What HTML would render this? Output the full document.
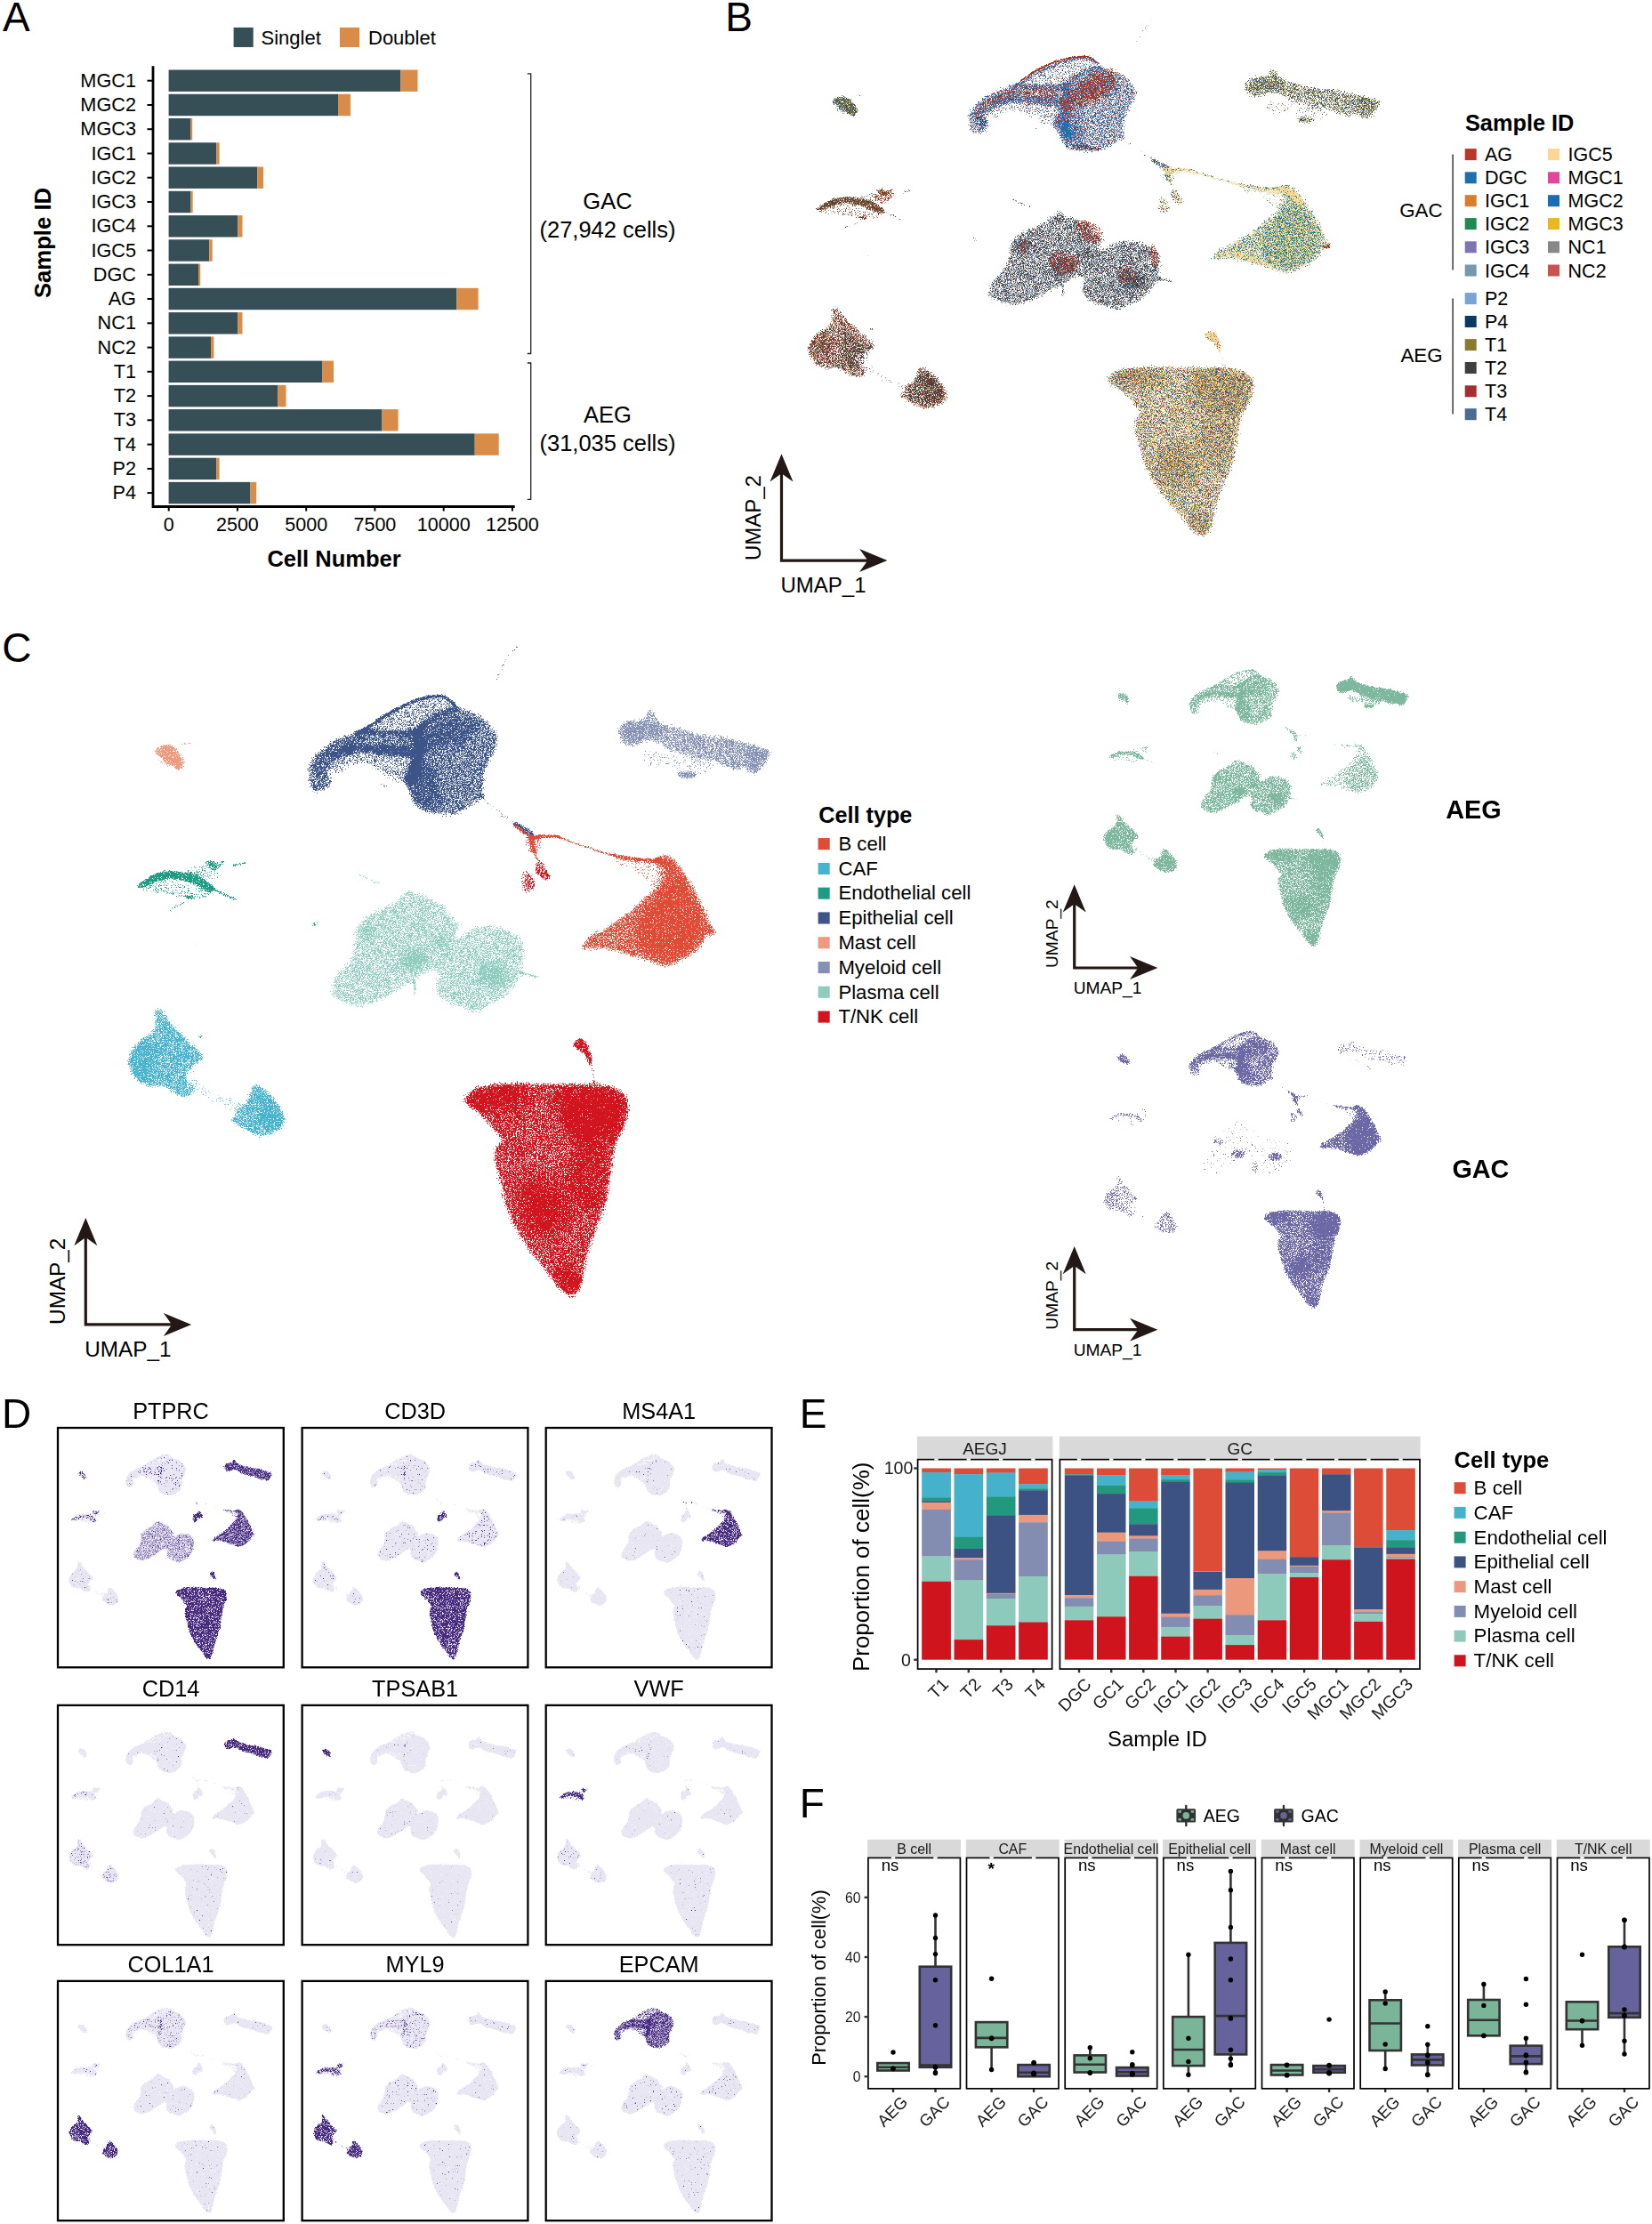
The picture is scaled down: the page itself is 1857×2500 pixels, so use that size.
<!DOCTYPE html>
<html lang="en"><head><meta charset="utf-8"><title>Figure</title><style>html,body{margin:0;padding:0;background:#fff}svg{display:block}</style></head><body>
<svg width="1857" height="2500" viewBox="0 0 1857 2500" font-family="'Liberation Sans', Arial, sans-serif" fill="#000">
<defs>
<path id="ah" d="M0 0L13 31.3L0 22L-13 31.3Z" fill="#231815"/>
<filter id="sb3" x="-30%" y="-30%" width="160%" height="160%"><feGaussianBlur stdDeviation="3.5"/></filter>
<filter id="sb7" x="-40%" y="-40%" width="180%" height="180%"><feGaussianBlur stdDeviation="7"/></filter>
<g id="c_pla">
<path d="M370.6 1119.7C368.4 1115.2 370.3 1107.6 372.0 1102.4C373.6 1097.3 377.2 1093.1 380.4 1088.8C383.6 1084.5 388.7 1080.8 391.2 1076.6C393.7 1072.4 394.4 1069.1 395.4 1063.7C396.4 1058.3 395.1 1049.8 397.1 1044.2C399.2 1038.6 403.2 1034.0 407.7 1029.9C412.2 1025.9 418.7 1022.9 424.2 1020.0C429.8 1017.0 437.2 1014.8 441.3 1012.2C445.4 1009.7 445.5 1007.3 448.7 1004.7C451.9 1002.2 456.5 997.1 460.4 996.7C464.3 996.3 468.3 1001.1 471.8 1002.6C475.3 1004.1 478.3 1004.2 481.4 1005.8C484.5 1007.3 487.0 1010.5 490.5 1011.9C494.0 1013.3 500.0 1012.2 502.5 1014.0C504.9 1015.9 503.2 1019.9 505.1 1023.1C507.0 1026.3 511.1 1030.4 513.8 1033.1C516.5 1035.8 521.2 1036.6 521.4 1039.2C521.6 1041.9 516.1 1047.3 515.1 1049.1C514.0 1051.0 512.2 1051.8 515.0 1050.3C517.8 1048.8 525.4 1042.3 531.9 1040.2C538.4 1038.1 547.1 1037.1 553.9 1037.6C560.7 1038.2 567.1 1041.0 572.5 1043.5C578.0 1045.9 583.3 1048.5 586.5 1052.4C589.8 1056.3 591.5 1062.4 592.2 1067.1C592.9 1071.8 591.1 1076.2 590.6 1080.7C590.1 1085.1 590.1 1089.6 588.9 1093.8C587.8 1098.0 586.1 1101.8 583.8 1105.8C581.6 1109.7 578.8 1113.9 575.4 1117.5C572.1 1121.1 567.8 1124.8 563.7 1127.6C559.5 1130.3 555.6 1132.0 550.5 1134.2C545.4 1136.4 538.9 1140.8 533.1 1140.8C527.4 1140.9 521.1 1136.0 516.1 1134.3C511.1 1132.7 507.0 1133.0 503.0 1131.0C499.0 1128.9 494.9 1125.6 492.2 1121.9C489.4 1118.2 487.0 1112.9 486.6 1108.8C486.3 1104.6 490.0 1099.4 489.9 1096.9C489.8 1094.4 488.3 1093.2 485.9 1093.6C483.5 1094.0 479.1 1097.1 475.3 1099.4C471.4 1101.7 467.0 1104.6 462.8 1107.2C458.7 1109.8 455.0 1112.1 450.2 1115.1C445.4 1118.0 439.6 1122.0 434.2 1124.7C428.8 1127.4 423.4 1129.6 417.8 1131.2C412.2 1132.9 406.2 1134.8 400.7 1134.5C395.3 1134.2 390.1 1131.9 385.1 1129.4C380.0 1127.0 372.8 1124.2 370.6 1119.7Z" fill-opacity="0.395"/>
<path d="M374.2 1117.9C372.3 1114.3 374.2 1108.2 375.7 1103.8C377.3 1099.3 380.5 1095.4 383.6 1091.2C386.8 1087.0 392.0 1083.1 394.6 1078.6C397.2 1074.1 398.3 1069.9 399.3 1064.4C400.4 1058.9 399.1 1050.8 400.9 1045.5C402.8 1040.3 406.2 1036.6 410.4 1033.0C414.6 1029.3 420.6 1026.4 426.1 1023.5C431.6 1020.6 439.2 1018.3 443.4 1015.6C447.6 1013.0 448.4 1010.3 451.3 1007.8C454.2 1005.3 457.6 1001.0 460.7 1000.7C463.9 1000.4 467.0 1004.8 470.2 1006.2C473.3 1007.6 476.5 1007.8 479.6 1009.3C482.8 1010.9 485.6 1014.3 489.1 1015.6C492.5 1017.0 498.0 1015.6 500.1 1017.2C502.2 1018.8 499.8 1021.9 501.6 1025.1C503.5 1028.2 508.5 1033.7 511.1 1036.1C513.7 1038.5 517.4 1037.2 517.4 1039.2C517.4 1041.3 511.4 1046.2 511.1 1048.7C510.8 1051.2 512.1 1055.0 515.8 1054.2C519.5 1053.4 526.8 1046.1 533.1 1044.0C539.4 1041.9 547.3 1041.1 553.6 1041.6C559.9 1042.1 565.9 1044.9 570.9 1047.1C575.9 1049.3 580.6 1051.6 583.5 1055.0C586.4 1058.4 587.7 1063.4 588.2 1067.6C588.7 1071.8 587.2 1076.0 586.6 1080.2C586.1 1084.4 586.1 1088.8 585.1 1092.8C584.0 1096.7 582.4 1100.1 580.3 1103.8C578.2 1107.5 575.6 1111.4 572.5 1114.8C569.3 1118.2 565.4 1121.6 561.5 1124.2C557.5 1126.9 553.6 1128.4 548.9 1130.5C544.1 1132.6 538.4 1136.8 533.1 1136.8C527.9 1136.8 522.1 1132.1 517.4 1130.5C512.7 1129.0 508.5 1129.2 504.8 1127.4C501.1 1125.5 497.7 1122.7 495.4 1119.5C493.0 1116.4 490.9 1112.4 490.6 1108.5C490.4 1104.6 494.6 1099.1 493.8 1095.9C493.0 1092.8 489.3 1089.6 485.9 1089.6C482.5 1089.6 477.5 1093.5 473.3 1095.9C469.1 1098.3 464.9 1101.2 460.7 1103.8C456.5 1106.4 452.9 1108.8 448.1 1111.6C443.4 1114.5 437.6 1118.5 432.4 1121.1C427.2 1123.7 421.9 1125.8 416.7 1127.4C411.4 1129.0 405.9 1130.8 400.9 1130.5C395.9 1130.3 391.2 1127.9 386.8 1125.8C382.3 1123.7 376.0 1121.6 374.2 1117.9Z" fill-opacity="0.252"/>
<path d="M422.3 1047.1C422.3 1048.7 421.7 1050.6 420.8 1051.8C419.8 1053.1 418.3 1054.2 416.8 1054.7C415.3 1055.2 413.3 1055.2 411.8 1054.7C410.3 1054.2 408.7 1053.1 407.8 1051.8C406.9 1050.6 406.3 1048.7 406.3 1047.1C406.3 1045.6 406.9 1043.7 407.8 1042.4C408.7 1041.1 410.3 1040.0 411.8 1039.5C413.3 1039.0 415.3 1039.0 416.8 1039.5C418.3 1040.0 419.8 1041.1 420.8 1042.4C421.7 1043.7 422.3 1045.6 422.3 1047.1Z" fill-opacity="0.246" filter="url(#sb3)"/>
<path d="M479.0 1072.3C480.0 1074.2 480.0 1077.0 479.2 1079.3C478.4 1081.6 476.3 1084.3 474.1 1086.1C471.8 1087.9 468.5 1089.5 465.7 1090.0C462.9 1090.6 459.5 1090.4 457.2 1089.6C454.9 1088.7 452.8 1086.9 451.9 1084.9C450.9 1083.0 450.9 1080.2 451.7 1077.9C452.5 1075.6 454.6 1072.9 456.8 1071.1C459.1 1069.3 462.4 1067.7 465.2 1067.2C468.0 1066.6 471.4 1066.8 473.7 1067.6C476.0 1068.5 478.1 1070.3 479.0 1072.3Z" fill-opacity="0.310" filter="url(#sb3)"/>
<path d="M503.4 1058.9C503.4 1060.1 502.7 1061.5 501.8 1062.4C500.9 1063.4 499.3 1064.3 497.8 1064.6C496.3 1065.0 494.4 1065.0 492.9 1064.6C491.4 1064.3 489.8 1063.4 488.9 1062.4C488.0 1061.5 487.4 1060.1 487.4 1058.9C487.4 1057.7 488.0 1056.3 488.9 1055.4C489.8 1054.4 491.4 1053.6 492.9 1053.2C494.4 1052.9 496.3 1052.9 497.8 1053.2C499.3 1053.6 500.9 1054.4 501.8 1055.4C502.7 1056.3 503.4 1057.7 503.4 1058.9Z" fill-opacity="0.192" filter="url(#sb3)"/>
<path d="M568.3 1104.4C567.0 1106.6 564.4 1108.6 561.7 1109.4C558.9 1110.2 555.1 1110.1 552.0 1109.2C548.8 1108.3 545.2 1106.3 542.9 1104.0C540.5 1101.7 538.5 1098.4 537.9 1095.6C537.2 1092.9 537.6 1089.6 538.9 1087.4C540.1 1085.2 542.8 1083.2 545.5 1082.4C548.2 1081.6 552.1 1081.7 555.2 1082.6C558.4 1083.5 562.0 1085.6 564.3 1087.8C566.7 1090.1 568.7 1093.4 569.3 1096.2C570.0 1098.9 569.6 1102.2 568.3 1104.4Z" fill-opacity="0.287" filter="url(#sb3)"/>
<path d="M401.2 981.8C403.0 982.7 407.5 985.3 411.9 987.3C416.3 989.3 425.1 992.6 427.7 993.6" fill="none" stroke="#000" stroke-width="3.0" stroke-linecap="round" stroke-opacity="0.741"/>
<path d="M586.6 1094.3C588.2 1094.6 592.9 1095.1 596.1 1095.9C599.2 1096.7 603.9 1098.8 605.5 1099.4" fill="none" stroke="#000" stroke-width="3.0" stroke-linecap="round" stroke-opacity="0.831"/>
<path d="M465.8 1103.8C465.9 1105.1 466.7 1109.3 466.7 1111.6C466.7 1114.0 465.9 1116.9 465.8 1117.9" fill="none" stroke="#000" stroke-width="3.5" stroke-linecap="round" stroke-opacity="0.746"/>
</g>
<g id="s_pla">
<path d="M374.2 1117.9C372.3 1114.3 374.2 1108.2 375.7 1103.8C377.3 1099.3 380.5 1095.4 383.6 1091.2C386.8 1087.0 392.0 1083.1 394.6 1078.6C397.2 1074.1 398.3 1069.9 399.3 1064.4C400.4 1058.9 399.1 1050.8 400.9 1045.5C402.8 1040.3 406.2 1036.6 410.4 1033.0C414.6 1029.3 420.6 1026.4 426.1 1023.5C431.6 1020.6 439.2 1018.3 443.4 1015.6C447.6 1013.0 448.4 1010.3 451.3 1007.8C454.2 1005.3 457.6 1001.0 460.7 1000.7C463.9 1000.4 467.0 1004.8 470.2 1006.2C473.3 1007.6 476.5 1007.8 479.6 1009.3C482.8 1010.9 485.6 1014.3 489.1 1015.6C492.5 1017.0 498.0 1015.6 500.1 1017.2C502.2 1018.8 499.8 1021.9 501.6 1025.1C503.5 1028.2 508.5 1033.7 511.1 1036.1C513.7 1038.5 517.4 1037.2 517.4 1039.2C517.4 1041.3 511.4 1046.2 511.1 1048.7C510.8 1051.2 512.1 1055.0 515.8 1054.2C519.5 1053.4 526.8 1046.1 533.1 1044.0C539.4 1041.9 547.3 1041.1 553.6 1041.6C559.9 1042.1 565.9 1044.9 570.9 1047.1C575.9 1049.3 580.6 1051.6 583.5 1055.0C586.4 1058.4 587.7 1063.4 588.2 1067.6C588.7 1071.8 587.2 1076.0 586.6 1080.2C586.1 1084.4 586.1 1088.8 585.1 1092.8C584.0 1096.7 582.4 1100.1 580.3 1103.8C578.2 1107.5 575.6 1111.4 572.5 1114.8C569.3 1118.2 565.4 1121.6 561.5 1124.2C557.5 1126.9 553.6 1128.4 548.9 1130.5C544.1 1132.6 538.4 1136.8 533.1 1136.8C527.9 1136.8 522.1 1132.1 517.4 1130.5C512.7 1129.0 508.5 1129.2 504.8 1127.4C501.1 1125.5 497.7 1122.7 495.4 1119.5C493.0 1116.4 490.9 1112.4 490.6 1108.5C490.4 1104.6 494.6 1099.1 493.8 1095.9C493.0 1092.8 489.3 1089.6 485.9 1089.6C482.5 1089.6 477.5 1093.5 473.3 1095.9C469.1 1098.3 464.9 1101.2 460.7 1103.8C456.5 1106.4 452.9 1108.8 448.1 1111.6C443.4 1114.5 437.6 1118.5 432.4 1121.1C427.2 1123.7 421.9 1125.8 416.7 1127.4C411.4 1129.0 405.9 1130.8 400.9 1130.5C395.9 1130.3 391.2 1127.9 386.8 1125.8C382.3 1123.7 376.0 1121.6 374.2 1117.9Z" fill-opacity="0.6"/>
</g>
<g id="c_epi">
<path d="M401.9 823.7C398.4 822.2 410.6 819.1 415.0 816.4C419.3 813.7 423.2 810.5 428.1 807.4C433.0 804.3 439.0 800.8 444.4 797.9C449.9 795.0 455.3 792.3 460.8 790.1C466.2 787.8 471.6 785.8 477.1 784.5C482.5 783.3 489.1 782.3 493.4 782.6C497.8 782.8 499.2 783.4 503.2 785.8C507.3 788.3 518.2 794.5 518.0 797.3C517.7 800.0 507.1 800.0 501.6 802.2C496.2 804.3 490.7 806.5 485.3 810.3C479.8 814.2 477.1 822.9 468.9 825.4C460.8 827.9 447.4 825.6 436.2 825.4C425.1 825.1 405.5 825.2 401.9 823.7Z" fill-opacity="0.501"/>
<path d="M381.4 842.3C387.7 838.5 388.6 837.3 403.6 837.5C418.7 837.8 461.1 836.7 471.5 844.0C481.9 851.2 470.9 875.0 466.1 881.0C461.3 887.0 449.4 881.8 442.7 879.9C436.0 878.1 431.1 872.7 425.7 869.8C420.4 867.0 415.5 864.1 410.6 862.9C405.8 861.8 401.7 861.5 396.6 862.9C391.4 864.3 384.8 871.7 379.7 871.2C374.6 870.7 365.7 864.9 366.0 860.1C366.3 855.3 375.2 846.1 381.4 842.3Z" fill-opacity="0.382"/>
<path d="M383.9 846.6C389.4 843.5 389.4 842.3 403.5 842.5C417.7 842.8 459.1 842.4 468.9 848.3C478.7 854.1 466.5 873.2 462.4 877.7C458.3 882.2 450.1 877.3 444.4 875.2C438.7 873.2 433.5 868.3 428.1 865.4C422.6 862.6 417.2 859.3 411.7 858.1C406.3 856.8 400.8 856.7 395.4 858.1C389.9 859.4 383.1 865.7 379.0 866.2C374.9 866.8 370.0 864.6 370.9 861.3C371.7 858.1 378.5 849.8 383.9 846.6Z" fill-opacity="0.193"/>
<path d="M343.3 865.9C343.7 862.1 345.0 859.3 346.3 856.4C347.7 853.4 349.1 851.0 351.4 848.2C353.7 845.4 356.9 842.2 360.1 839.5C363.3 836.8 366.9 834.1 370.7 831.8C374.6 829.4 378.9 827.2 383.1 825.3C387.3 823.5 391.7 821.9 395.9 820.7C400.1 819.5 404.0 818.3 408.3 818.1C412.7 818.0 417.3 819.2 422.0 819.8C426.7 820.3 431.4 821.1 436.4 821.4C441.5 821.7 446.3 821.7 452.3 821.4C458.3 821.1 468.4 816.6 472.7 819.5C476.9 822.4 478.2 833.3 477.8 838.7C477.4 844.1 474.6 850.0 470.4 852.0C466.1 854.0 458.0 851.1 452.2 850.6C446.4 850.1 441.2 849.6 435.7 849.0C430.3 848.3 424.8 847.0 419.5 846.5C414.2 846.0 409.1 845.5 403.9 846.0C398.8 846.5 392.7 848.3 388.4 849.6C384.1 851.0 380.9 852.2 378.0 854.0C375.1 855.9 372.2 858.8 371.2 860.7C370.1 862.6 371.1 862.6 371.8 865.3C372.6 868.1 375.9 873.1 375.7 876.9C375.5 880.8 372.9 885.8 370.6 888.5C368.3 891.2 365.1 892.6 361.7 893.1C358.3 893.5 353.2 893.6 350.3 891.4C347.4 889.1 345.6 883.7 344.4 879.5C343.3 875.2 343.0 869.8 343.3 865.9Z" fill-opacity="0.395"/>
<path d="M347.3 866.2C347.6 862.8 348.7 860.7 349.9 858.1C351.1 855.5 352.4 853.3 354.5 850.7C356.6 848.1 359.6 845.1 362.7 842.5C365.7 839.9 369.1 837.4 372.8 835.2C376.5 832.9 380.7 830.7 384.8 829.0C388.8 827.2 393.1 825.7 397.0 824.6C401.0 823.4 404.4 822.2 408.5 822.1C412.5 822.0 416.9 823.2 421.5 823.7C426.2 824.3 431.1 825.1 436.2 825.4C441.4 825.6 446.9 825.8 452.6 825.4C458.3 825.0 467.0 820.7 470.6 822.9C474.1 825.1 474.1 834.2 473.8 838.5C473.6 842.7 472.5 846.9 468.9 848.3C465.4 849.6 458.0 847.2 452.6 846.6C447.1 846.1 441.7 845.7 436.2 845.0C430.8 844.3 425.3 843.0 419.9 842.5C414.4 842.0 409.0 841.5 403.5 842.0C398.1 842.6 391.8 844.4 387.2 845.8C382.6 847.2 379.0 848.5 375.8 850.7C372.5 852.9 368.9 856.3 367.6 858.9C366.3 861.5 367.2 863.2 367.9 866.2C368.6 869.2 371.7 873.6 371.7 876.9C371.6 880.1 369.4 883.8 367.6 885.8C365.8 887.9 363.5 888.7 361.1 889.1C358.6 889.5 355.0 890.1 352.9 888.3C350.8 886.5 349.2 882.2 348.3 878.5C347.4 874.8 347.1 869.6 347.3 866.2Z" fill-opacity="0.323"/>
<path d="M352.1 858.1C354.0 854.5 358.5 850.2 362.7 846.6C366.9 843.1 372.5 839.3 377.4 836.8C382.3 834.4 387.2 833.1 392.1 831.9C397.0 830.7 404.4 828.6 406.8 829.5C409.3 830.3 409.3 835.2 406.8 836.8C404.4 838.5 396.7 838.0 392.1 839.3C387.5 840.5 383.1 841.7 379.0 844.2C374.9 846.6 370.6 850.6 367.6 854.0C364.6 857.4 363.0 861.5 361.1 864.6C359.1 867.7 357.8 872.2 356.2 872.8C354.5 873.3 351.9 870.3 351.2 867.9C350.6 865.4 350.2 861.6 352.1 858.1Z" fill-opacity="0.183" filter="url(#sb3)"/>
<path d="M465.2 823.0C468.2 816.1 477.1 810.4 482.9 806.1C488.8 801.8 494.4 799.5 500.3 797.4C506.1 795.3 512.1 793.3 518.1 793.6C524.1 793.8 530.7 796.3 536.1 798.9C541.5 801.6 546.5 805.3 550.5 809.5C554.6 813.6 558.7 819.2 560.5 823.8C562.4 828.5 562.7 832.8 561.7 837.6C560.8 842.5 557.1 848.2 555.0 853.2C552.8 858.1 549.9 862.6 548.6 867.3C547.3 872.0 547.8 876.6 547.1 881.5C546.4 886.3 547.7 891.6 544.5 896.5C541.4 901.4 534.0 907.0 528.3 910.8C522.7 914.5 516.5 917.6 510.6 918.9C504.7 920.1 498.8 919.1 493.0 918.4C487.1 917.8 480.4 916.9 475.6 914.9C470.8 912.9 467.4 910.5 464.2 906.7C461.0 902.8 458.1 897.3 456.6 891.8C455.0 886.4 454.3 879.4 454.8 874.0C455.3 868.7 457.8 864.3 459.5 859.9C461.2 855.5 464.0 853.8 465.0 847.6C465.9 841.5 462.2 829.9 465.2 823.0Z" fill-opacity="0.395"/>
<path d="M468.9 824.6C471.6 818.1 479.8 813.3 485.3 809.4C490.7 805.5 496.2 803.1 501.6 801.2C507.1 799.2 512.5 797.4 518.0 797.6C523.4 797.8 529.3 800.0 534.3 802.5C539.3 804.9 543.9 808.5 547.7 812.3C551.5 816.1 555.2 821.3 556.9 825.4C558.5 829.5 558.8 832.5 557.8 836.8C556.9 841.2 553.5 846.6 551.3 851.5C549.1 856.4 546.1 861.3 544.8 866.2C543.4 871.1 543.7 876.3 543.1 880.9C542.5 885.6 544.0 889.9 541.2 894.3C538.3 898.8 531.4 904.0 526.1 907.4C520.9 910.9 515.2 913.8 509.8 914.9C504.3 916.1 498.9 915.1 493.4 914.4C488.0 913.8 481.5 912.9 477.1 911.2C472.7 909.5 470.1 907.6 467.3 904.2C464.5 900.7 461.8 895.7 460.4 890.8C459.0 885.8 458.3 879.3 458.8 874.4C459.3 869.5 461.5 865.7 463.2 861.3C464.9 857.0 468.0 854.4 468.9 848.3C469.9 842.1 466.2 831.0 468.9 824.6Z" fill-opacity="0.323"/>
<path d="M477.1 828.6C480.4 824.0 487.4 817.5 493.4 813.9C499.4 810.4 507.1 807.9 513.1 807.4C519.0 806.9 525.9 808.2 529.4 810.7C532.9 813.1 535.4 818.3 534.3 822.1C533.2 825.9 528.0 830.8 522.9 833.5C517.7 836.3 509.2 836.5 503.2 838.5C497.3 840.4 491.8 844.4 486.9 845.0C482.0 845.5 475.5 844.4 473.8 841.7C472.2 839.0 473.8 833.3 477.1 828.6Z" fill-opacity="0.212" filter="url(#sb3)"/>
<path d="M464.0 864.6C466.5 859.4 472.7 857.0 477.1 858.1C481.5 859.2 487.4 865.7 490.2 871.1C492.9 876.6 493.4 884.8 493.4 890.8C493.4 896.7 492.9 904.1 490.2 907.1C487.4 910.1 480.6 909.5 477.1 908.7C473.6 907.9 471.4 905.5 468.9 902.2C466.5 898.9 463.2 895.4 462.4 889.1C461.6 882.9 461.6 869.8 464.0 864.6Z" fill-opacity="0.212" filter="url(#sb3)"/>
<path d="M400.3 824.1C402.7 822.7 410.4 818.8 415.0 815.9C419.6 813.0 423.2 809.8 428.1 806.7C433.0 803.6 439.0 800.2 444.4 797.3C449.9 794.4 455.8 791.5 460.8 789.4C465.7 787.3 469.7 785.9 473.8 784.7C477.9 783.5 481.5 782.7 485.3 782.2C489.1 781.8 493.7 781.5 496.7 781.9C499.8 782.3 501.1 783.3 503.6 784.8C506.0 786.4 510.1 790.0 511.4 791.1" fill="none" stroke="#000" stroke-width="2.6" stroke-linecap="round" stroke-opacity="1.000"/>
<path d="M540.8 895.7C543.8 898.4 552.5 907.1 558.8 912.0C565.1 916.9 571.6 920.9 578.4 925.1C585.2 929.3 596.1 935.3 599.7 937.3" fill="none" stroke="#000" stroke-width="6.0" stroke-linecap="round" stroke-opacity="0.435"/>
<path d="M428.1 880.1C429.2 880.8 433.5 883.5 434.6 884.2" fill="none" stroke="#000" stroke-width="2.0" stroke-linecap="round" stroke-opacity="1.000"/>
<path d="M554.5 770.4C556.9 765.7 563.9 749.7 568.6 742.2C573.3 734.7 580.3 728.1 582.7 725.3" fill="none" stroke="#000" stroke-width="3.0" stroke-linecap="round" stroke-opacity="0.607"/>
<path d="M575.7 925.2C576.3 923.9 581.2 924.9 585.2 926.8C589.1 928.6 596.7 933.3 599.3 936.2C602.0 939.1 602.2 943.0 600.9 944.1C599.6 945.1 594.6 944.1 591.5 942.5C588.3 940.9 584.7 937.5 582.0 934.6C579.4 931.7 575.2 926.5 575.7 925.2Z" fill-opacity="0.498"/>
</g>
<g id="s_epi">
<path d="M401.9 823.7C398.4 822.2 410.6 819.1 415.0 816.4C419.3 813.7 423.2 810.5 428.1 807.4C433.0 804.3 439.0 800.8 444.4 797.9C449.9 795.0 455.3 792.3 460.8 790.1C466.2 787.8 471.6 785.8 477.1 784.5C482.5 783.3 489.1 782.3 493.4 782.6C497.8 782.8 499.2 783.4 503.2 785.8C507.3 788.3 518.2 794.5 518.0 797.3C517.7 800.0 507.1 800.0 501.6 802.2C496.2 804.3 490.7 806.5 485.3 810.3C479.8 814.2 477.1 822.9 468.9 825.4C460.8 827.9 447.4 825.6 436.2 825.4C425.1 825.1 405.5 825.2 401.9 823.7Z" fill-opacity="0.501" stroke="none"/>
<path d="M383.9 846.6C389.4 843.5 389.4 842.3 403.5 842.5C417.7 842.8 459.1 842.4 468.9 848.3C478.7 854.1 466.5 873.2 462.4 877.7C458.3 882.2 450.1 877.3 444.4 875.2C438.7 873.2 433.5 868.3 428.1 865.4C422.6 862.6 417.2 859.3 411.7 858.1C406.3 856.8 400.8 856.7 395.4 858.1C389.9 859.4 383.1 865.7 379.0 866.2C374.9 866.8 370.0 864.6 370.9 861.3C371.7 858.1 378.5 849.8 383.9 846.6Z" fill-opacity="0.501" stroke="none"/>
<path d="M347.3 866.2C347.6 862.8 348.7 860.7 349.9 858.1C351.1 855.5 352.4 853.3 354.5 850.7C356.6 848.1 359.6 845.1 362.7 842.5C365.7 839.9 369.1 837.4 372.8 835.2C376.5 832.9 380.7 830.7 384.8 829.0C388.8 827.2 393.1 825.7 397.0 824.6C401.0 823.4 404.4 822.2 408.5 822.1C412.5 822.0 416.9 823.2 421.5 823.7C426.2 824.3 431.1 825.1 436.2 825.4C441.4 825.6 446.9 825.8 452.6 825.4C458.3 825.0 467.0 820.7 470.6 822.9C474.1 825.1 474.1 834.2 473.8 838.5C473.6 842.7 472.5 846.9 468.9 848.3C465.4 849.6 458.0 847.2 452.6 846.6C447.1 846.1 441.7 845.7 436.2 845.0C430.8 844.3 425.3 843.0 419.9 842.5C414.4 842.0 409.0 841.5 403.5 842.0C398.1 842.6 391.8 844.4 387.2 845.8C382.6 847.2 379.0 848.5 375.8 850.7C372.5 852.9 368.9 856.3 367.6 858.9C366.3 861.5 367.2 863.2 367.9 866.2C368.6 869.2 371.7 873.6 371.7 876.9C371.6 880.1 369.4 883.8 367.6 885.8C365.8 887.9 363.5 888.7 361.1 889.1C358.6 889.5 355.0 890.1 352.9 888.3C350.8 886.5 349.2 882.2 348.3 878.5C347.4 874.8 347.1 869.6 347.3 866.2Z" fill-opacity="0.6"/>
<path d="M468.9 824.6C471.6 818.1 479.8 813.3 485.3 809.4C490.7 805.5 496.2 803.1 501.6 801.2C507.1 799.2 512.5 797.4 518.0 797.6C523.4 797.8 529.3 800.0 534.3 802.5C539.3 804.9 543.9 808.5 547.7 812.3C551.5 816.1 555.2 821.3 556.9 825.4C558.5 829.5 558.8 832.5 557.8 836.8C556.9 841.2 553.5 846.6 551.3 851.5C549.1 856.4 546.1 861.3 544.8 866.2C543.4 871.1 543.7 876.3 543.1 880.9C542.5 885.6 544.0 889.9 541.2 894.3C538.3 898.8 531.4 904.0 526.1 907.4C520.9 910.9 515.2 913.8 509.8 914.9C504.3 916.1 498.9 915.1 493.4 914.4C488.0 913.8 481.5 912.9 477.1 911.2C472.7 909.5 470.1 907.6 467.3 904.2C464.5 900.7 461.8 895.7 460.4 890.8C459.0 885.8 458.3 879.3 458.8 874.4C459.3 869.5 461.5 865.7 463.2 861.3C464.9 857.0 468.0 854.4 468.9 848.3C469.9 842.1 466.2 831.0 468.9 824.6Z" fill-opacity="0.6"/>
<path d="M400.3 824.1C402.7 822.7 410.4 818.8 415.0 815.9C419.6 813.0 423.2 809.8 428.1 806.7C433.0 803.6 439.0 800.2 444.4 797.3C449.9 794.4 455.8 791.5 460.8 789.4C465.7 787.3 469.7 785.9 473.8 784.7C477.9 783.5 481.5 782.7 485.3 782.2C489.1 781.8 493.7 781.5 496.7 781.9C499.8 782.3 501.1 783.3 503.6 784.8C506.0 786.4 510.1 790.0 511.4 791.1" fill="none" stroke="#000" stroke-width="2.6" stroke-linecap="round" stroke-opacity="1.000"/>
</g>
<g id="c_mye">
<path d="M692.6 820.3C693.5 817.4 695.7 813.5 698.4 811.2C701.2 808.9 705.3 807.5 709.2 806.5C713.0 805.6 719.0 806.9 721.6 805.5C724.2 804.2 722.7 800.1 724.5 798.4C726.3 796.7 730.1 794.8 732.4 795.3C734.6 795.8 736.6 799.3 738.1 801.3C739.6 803.3 739.3 805.5 741.5 807.2C743.6 809.0 747.4 810.6 751.2 812.0C755.0 813.5 759.9 814.6 764.2 815.9C768.6 817.2 773.0 818.8 777.4 819.9C781.7 821.0 786.0 821.8 790.4 822.5C794.7 823.1 799.1 823.2 803.6 823.8C808.1 824.4 812.7 824.9 817.2 825.8C821.7 826.7 826.2 828.0 830.7 829.2C835.2 830.5 839.7 831.9 844.1 833.2C848.6 834.6 853.5 835.7 857.6 837.3C861.7 838.9 867.3 840.2 868.7 842.7C870.2 845.3 867.4 849.6 866.3 852.7C865.2 855.7 863.8 858.5 862.1 861.1C860.3 863.8 858.6 866.6 856.0 868.6C853.4 870.5 850.0 873.0 846.6 872.7C843.2 872.3 839.0 867.4 835.7 866.6C832.4 865.9 830.3 868.3 826.9 868.0C823.5 867.8 819.4 866.7 815.2 865.2C811.1 863.6 806.4 860.1 802.0 858.5C797.7 857.0 793.6 856.9 789.2 856.0C784.8 855.1 780.2 854.4 775.7 853.3C771.2 852.2 766.3 850.5 762.2 849.3C758.1 848.0 754.2 847.3 751.0 845.7C747.8 844.1 745.2 841.2 742.7 839.6C740.2 837.9 738.5 836.6 735.9 836.0C733.2 835.4 729.7 835.4 726.6 836.0C723.6 836.7 720.9 839.1 717.6 840.0C714.3 840.8 710.2 842.0 706.8 841.4C703.3 840.8 699.1 838.6 696.8 836.4C694.6 834.2 694.0 830.8 693.2 828.2C692.5 825.5 691.8 823.1 692.6 820.3Z" fill-opacity="0.395"/>
<path d="M696.0 821.3C696.6 819.1 698.3 815.8 700.6 813.9C703.0 812.1 706.2 810.8 710.0 810.0C713.7 809.1 720.4 810.2 723.3 808.6C726.2 807.1 725.9 802.3 727.3 800.6C728.6 799.0 729.9 798.2 731.3 798.6C732.6 799.1 733.9 801.4 735.3 803.3C736.6 805.2 736.8 808.0 739.3 810.0C741.7 811.9 745.9 813.7 749.9 815.3C753.9 816.8 758.8 817.9 763.2 819.3C767.7 820.6 772.1 822.2 776.5 823.3C781.0 824.4 785.4 825.3 789.9 825.9C794.3 826.6 798.7 826.7 803.2 827.3C807.6 827.8 812.1 828.4 816.5 829.3C820.9 830.2 825.4 831.4 829.8 832.6C834.2 833.8 838.7 835.3 843.1 836.6C847.6 837.9 852.7 839.3 856.4 840.6C860.2 841.9 864.7 842.8 865.8 844.6C866.9 846.4 864.2 848.8 863.1 851.2C862.0 853.7 860.7 856.8 859.1 859.2C857.6 861.7 855.8 864.2 853.8 865.9C851.8 867.5 850.0 869.7 847.1 869.2C844.2 868.8 839.8 864.0 836.5 863.2C833.1 862.4 830.5 864.8 827.1 864.6C823.8 864.3 820.5 863.4 816.5 861.9C812.5 860.3 807.6 856.8 803.2 855.2C798.7 853.7 794.3 853.5 789.9 852.6C785.4 851.7 781.0 851.0 776.5 849.9C772.1 848.8 767.2 847.1 763.2 845.9C759.2 844.7 755.7 844.1 752.6 842.6C749.5 841.0 747.2 838.3 744.6 836.6C741.9 834.9 739.7 833.3 736.6 832.6C733.5 831.9 729.3 831.9 725.9 832.6C722.6 833.3 719.7 835.7 716.6 836.6C713.5 837.5 710.2 838.4 707.3 837.9C704.4 837.5 701.1 835.7 699.3 833.9C697.5 832.1 697.2 829.4 696.6 827.3C696.1 825.2 695.3 823.5 696.0 821.3Z" fill-opacity="0.294"/>
<path d="M698.0 821.9C698.0 819.2 700.6 816.3 703.3 814.6C706.0 812.9 710.0 812.5 713.9 811.9C717.9 811.4 723.0 811.0 727.3 811.3C731.5 811.6 736.4 811.9 739.3 813.9C742.1 815.9 744.6 820.8 744.6 823.3C744.6 825.7 742.4 827.7 739.3 828.6C736.1 829.5 730.2 828.2 725.9 828.6C721.7 829.0 717.7 830.8 713.9 831.3C710.2 831.7 706.0 832.8 703.3 831.3C700.6 829.7 698.0 824.7 698.0 821.9Z" fill-opacity="0.164" filter="url(#sb3)"/>
<path d="M836.5 841.9C839.1 839.5 851.8 842.5 856.4 843.2C861.1 844.0 864.0 844.4 864.4 846.6C864.9 848.8 861.8 853.8 859.1 856.6C856.4 859.3 851.6 863.0 848.5 863.2C845.3 863.4 842.5 861.4 840.5 857.9C838.5 854.3 833.8 844.4 836.5 841.9Z" fill-opacity="0.164" filter="url(#sb3)"/>
<path d="M720.6 845.9C722.2 843.2 725.5 841.2 732.6 841.9C739.7 842.6 752.6 847.5 763.2 849.9C773.9 852.3 789.9 854.3 796.5 856.6C803.2 858.8 805.8 860.1 803.2 863.2C800.5 866.3 787.4 873.4 780.5 875.2C773.7 877.0 766.1 876.1 761.9 873.9C757.7 871.7 759.9 863.4 755.2 861.9C750.6 860.3 739.3 865.2 733.9 864.6C728.6 863.9 725.5 861.0 723.3 857.9C721.0 854.8 719.1 848.6 720.6 845.9Z" fill-opacity="0.395"/>
<path d="M761.9 867.9C764.8 866.8 777.4 867.3 780.5 868.5C783.6 869.8 783.4 874.1 780.5 875.2C777.6 876.3 766.3 876.4 763.2 875.2C760.1 874.0 759.0 869.0 761.9 867.9Z" fill-opacity="0.409"/>
</g>
<g id="s_mye">
<path d="M696.0 821.3C696.6 819.1 698.3 815.8 700.6 813.9C703.0 812.1 706.2 810.8 710.0 810.0C713.7 809.1 720.4 810.2 723.3 808.6C726.2 807.1 725.9 802.3 727.3 800.6C728.6 799.0 729.9 798.2 731.3 798.6C732.6 799.1 733.9 801.4 735.3 803.3C736.6 805.2 736.8 808.0 739.3 810.0C741.7 811.9 745.9 813.7 749.9 815.3C753.9 816.8 758.8 817.9 763.2 819.3C767.7 820.6 772.1 822.2 776.5 823.3C781.0 824.4 785.4 825.3 789.9 825.9C794.3 826.6 798.7 826.7 803.2 827.3C807.6 827.8 812.1 828.4 816.5 829.3C820.9 830.2 825.4 831.4 829.8 832.6C834.2 833.8 838.7 835.3 843.1 836.6C847.6 837.9 852.7 839.3 856.4 840.6C860.2 841.9 864.7 842.8 865.8 844.6C866.9 846.4 864.2 848.8 863.1 851.2C862.0 853.7 860.7 856.8 859.1 859.2C857.6 861.7 855.8 864.2 853.8 865.9C851.8 867.5 850.0 869.7 847.1 869.2C844.2 868.8 839.8 864.0 836.5 863.2C833.1 862.4 830.5 864.8 827.1 864.6C823.8 864.3 820.5 863.4 816.5 861.9C812.5 860.3 807.6 856.8 803.2 855.2C798.7 853.7 794.3 853.5 789.9 852.6C785.4 851.7 781.0 851.0 776.5 849.9C772.1 848.8 767.2 847.1 763.2 845.9C759.2 844.7 755.7 844.1 752.6 842.6C749.5 841.0 747.2 838.3 744.6 836.6C741.9 834.9 739.7 833.3 736.6 832.6C733.5 831.9 729.3 831.9 725.9 832.6C722.6 833.3 719.7 835.7 716.6 836.6C713.5 837.5 710.2 838.4 707.3 837.9C704.4 837.5 701.1 835.7 699.3 833.9C697.5 832.1 697.2 829.4 696.6 827.3C696.1 825.2 695.3 823.5 696.0 821.3Z" fill-opacity="0.6"/>
</g>
<g id="c_mast">
<path d="M172.0 844.8C172.5 841.8 177.4 836.9 181.4 835.5C185.4 834.1 192.6 834.8 196.1 836.2C199.6 837.7 200.6 841.7 202.5 844.1C204.5 846.6 206.7 848.1 207.8 851.0C208.9 853.8 210.3 858.0 209.2 860.9C208.0 863.9 203.6 868.1 200.8 868.4C198.0 868.7 194.7 864.5 192.3 862.8C189.9 861.0 188.6 859.6 186.3 858.0C184.1 856.4 181.3 855.2 178.9 853.0C176.5 850.8 171.6 847.7 172.0 844.8Z" fill-opacity="0.395"/>
<path d="M175.0 845.1C175.3 843.1 178.9 839.4 182.3 838.4C185.6 837.4 192.0 837.7 194.9 839.0C197.9 840.3 198.4 843.7 200.1 845.9C201.8 848.1 204.0 849.8 205.1 852.2C206.1 854.5 207.1 857.8 206.3 860.0C205.6 862.2 202.7 865.4 200.7 865.4C198.7 865.5 196.2 862.0 194.1 860.4C192.0 858.8 190.3 857.2 188.1 855.6C185.9 853.9 183.0 852.4 180.8 850.7C178.6 849.0 174.8 847.2 175.0 845.1Z" fill-opacity="0.501"/>
<path d="M203.1 836.1C204.1 836.0 207.3 835.9 209.2 835.7C211.1 835.6 213.8 835.3 214.7 835.3" fill="none" stroke="#000" stroke-width="3.0" stroke-linecap="round" stroke-opacity="0.741"/>
<path d="M176.4 853.7C177.8 852.9 186.1 854.7 188.6 856.1C191.0 857.5 192.4 861.4 191.0 862.2C189.6 863.0 182.5 862.4 180.1 861.0C177.6 859.6 175.0 854.5 176.4 853.7Z" fill-opacity="0.382"/>
</g>
<g id="s_mast">
<path d="M175.0 845.1C175.3 843.1 178.9 839.4 182.3 838.4C185.6 837.4 192.0 837.7 194.9 839.0C197.9 840.3 198.4 843.7 200.1 845.9C201.8 848.1 204.0 849.8 205.1 852.2C206.1 854.5 207.1 857.8 206.3 860.0C205.6 862.2 202.7 865.4 200.7 865.4C198.7 865.5 196.2 862.0 194.1 860.4C192.0 858.8 190.3 857.2 188.1 855.6C185.9 853.9 183.0 852.4 180.8 850.7C178.6 849.0 174.8 847.2 175.0 845.1Z" fill-opacity="0.6"/>
</g>
<g id="c_endo">
<path d="M153.0 996.1C154.2 994.1 159.7 990.0 163.5 987.4C167.4 984.7 171.8 981.8 176.0 980.2C180.1 978.6 183.9 978.3 188.5 978.1C193.0 977.8 198.4 978.0 203.3 978.7C208.3 979.4 213.6 980.7 218.1 982.4C222.7 984.0 226.7 986.2 230.5 988.6C234.4 990.9 240.2 993.9 241.3 996.3C242.3 998.6 239.8 1002.4 237.0 1002.5C234.2 1002.7 228.6 998.9 224.5 997.2C220.4 995.5 216.5 993.6 212.5 992.4C208.5 991.2 204.5 990.6 200.5 990.0C196.5 989.4 192.6 988.6 188.6 988.8C184.7 989.0 180.8 990.0 176.8 991.2C172.8 992.4 168.2 994.6 164.8 996.0C161.3 997.3 158.0 999.2 156.1 999.2C154.1 999.2 151.7 998.1 153.0 996.1Z" fill-opacity="0.698"/>
<path d="M238.9 998.8C240.7 999.7 244.9 1002.2 249.3 1004.2C253.6 1006.3 262.4 1009.8 265.0 1010.9" fill="none" stroke="#000" stroke-width="2.5" stroke-linecap="round" stroke-opacity="1.000"/>
<path d="M228.4 967.1C228.7 965.6 234.6 965.4 237.3 965.8C239.9 966.2 242.5 969.4 244.4 969.5C246.4 969.5 247.2 966.3 249.0 965.9C250.7 965.4 254.8 965.4 254.9 966.6C255.1 967.8 251.7 971.5 249.8 973.3C247.9 975.0 245.7 976.9 243.3 977.1C240.9 977.3 237.9 976.2 235.5 974.6C233.0 972.9 228.1 968.5 228.4 967.1Z" fill-opacity="0.597"/>
<path d="M261.4 973.3C262.6 973.0 266.1 972.1 268.7 971.5C271.3 970.8 275.8 969.6 277.2 969.3" fill="none" stroke="#000" stroke-width="3.0" stroke-linecap="round" stroke-opacity="0.831"/>
<path d="M158.2 999.4C161.2 997.0 175.4 989.3 188.6 989.7C201.7 990.1 229.8 998.4 237.1 1001.8C244.4 1005.3 236.3 1008.7 232.3 1010.3C228.2 1011.9 219.7 1012.1 212.8 1011.5C206.0 1010.9 198.1 1007.9 191.0 1006.7C183.9 1005.5 175.8 1005.5 170.4 1004.2C164.9 1003.0 155.2 1001.8 158.2 999.4Z" fill-opacity="0.427"/>
<path d="M208.0 977.5C206.8 974.7 218.5 971.5 225.0 971.5C231.5 971.5 243.2 974.5 246.8 977.5C250.5 980.6 249.3 987.9 246.8 989.7C244.4 991.5 238.7 990.5 232.3 988.5C225.8 986.4 209.2 980.4 208.0 977.5Z" fill-opacity="0.422"/>
<path d="M191.0 1023.7C192.0 1022.9 194.2 1020.3 197.1 1018.8C199.9 1017.3 206.2 1015.3 208.0 1014.6" fill="none" stroke="#000" stroke-width="2.5" stroke-linecap="round" stroke-opacity="0.906"/>
<path d="M209.2 1007.3C210.4 1006.7 216.3 1006.8 217.7 1007.3C219.1 1007.8 218.9 1009.7 217.7 1010.3C216.5 1010.9 211.8 1011.4 210.4 1010.9C209.0 1010.4 208.0 1007.9 209.2 1007.3Z" fill-opacity="0.541"/>
<path d="M218.9 1060.1C219.5 1059.3 221.5 1059.3 221.9 1060.1C222.4 1060.9 222.1 1064.1 221.6 1064.9C221.0 1065.8 219.1 1065.8 218.7 1064.9C218.2 1064.1 218.4 1060.9 218.9 1060.1Z" fill-opacity="0.568"/>
<path d="M222.2 1163.2C222.9 1162.3 226.3 1161.8 227.2 1162.6C228.2 1163.3 228.6 1166.7 227.9 1167.7C227.1 1168.6 223.7 1169.0 222.8 1168.3C221.8 1167.6 221.4 1164.2 222.2 1163.2Z" fill-opacity="0.634"/>
<path d="M350.2 1036.7C351.5 1035.9 356.7 1035.9 358.0 1036.7C359.4 1037.4 359.4 1040.4 358.0 1041.2C356.7 1041.9 351.5 1041.9 350.2 1041.2C348.9 1040.4 348.9 1037.4 350.2 1036.7Z" fill-opacity="0.568"/>
</g>
<g id="s_endo">
<path d="M153.0 996.1C154.2 994.1 159.7 990.0 163.5 987.4C167.4 984.7 171.8 981.8 176.0 980.2C180.1 978.6 183.9 978.3 188.5 978.1C193.0 977.8 198.4 978.0 203.3 978.7C208.3 979.4 213.6 980.7 218.1 982.4C222.7 984.0 226.7 986.2 230.5 988.6C234.4 990.9 240.2 993.9 241.3 996.3C242.3 998.6 239.8 1002.4 237.0 1002.5C234.2 1002.7 228.6 998.9 224.5 997.2C220.4 995.5 216.5 993.6 212.5 992.4C208.5 991.2 204.5 990.6 200.5 990.0C196.5 989.4 192.6 988.6 188.6 988.8C184.7 989.0 180.8 990.0 176.8 991.2C172.8 992.4 168.2 994.6 164.8 996.0C161.3 997.3 158.0 999.2 156.1 999.2C154.1 999.2 151.7 998.1 153.0 996.1Z" fill-opacity="0.6"/>
<path d="M238.9 998.8C240.7 999.7 244.9 1002.2 249.3 1004.2C253.6 1006.3 262.4 1009.8 265.0 1010.9" fill="none" stroke="#000" stroke-width="2.5" stroke-linecap="round" stroke-opacity="1.000"/>
<path d="M228.4 967.1C228.7 965.6 234.6 965.4 237.3 965.8C239.9 966.2 242.5 969.4 244.4 969.5C246.4 969.5 247.2 966.3 249.0 965.9C250.7 965.4 254.8 965.4 254.9 966.6C255.1 967.8 251.7 971.5 249.8 973.3C247.9 975.0 245.7 976.9 243.3 977.1C240.9 977.3 237.9 976.2 235.5 974.6C233.0 972.9 228.1 968.5 228.4 967.1Z" fill-opacity="0.6"/>
<path d="M261.4 973.3C262.6 973.0 266.1 972.1 268.7 971.5C271.3 970.8 275.8 969.6 277.2 969.3" fill="none" stroke="#000" stroke-width="3.0" stroke-linecap="round" stroke-opacity="0.943"/>
<path d="M158.2 999.4C161.2 997.0 175.4 989.3 188.6 989.7C201.7 990.1 229.8 998.4 237.1 1001.8C244.4 1005.3 236.3 1008.7 232.3 1010.3C228.2 1011.9 219.7 1012.1 212.8 1011.5C206.0 1010.9 198.1 1007.9 191.0 1006.7C183.9 1005.5 175.8 1005.5 170.4 1004.2C164.9 1003.0 155.2 1001.8 158.2 999.4Z" fill-opacity="0.427" stroke="none"/>
<path d="M208.0 977.5C206.8 974.7 218.5 971.5 225.0 971.5C231.5 971.5 243.2 974.5 246.8 977.5C250.5 980.6 249.3 987.9 246.8 989.7C244.4 991.5 238.7 990.5 232.3 988.5C225.8 986.4 209.2 980.4 208.0 977.5Z" fill-opacity="0.422" stroke="none"/>
</g>
<g id="c_caf">
<path d="M141.1 1192.1C141.5 1188.7 142.7 1184.4 144.7 1180.6C146.7 1176.9 149.8 1172.8 152.9 1169.6C156.1 1166.5 160.5 1164.0 163.4 1161.7C166.3 1159.5 168.8 1158.6 170.2 1156.3C171.7 1154.0 172.1 1151.3 172.3 1147.8C172.4 1144.2 169.6 1137.8 171.2 1135.2C172.9 1132.6 179.3 1131.3 182.3 1132.1C185.2 1132.8 186.8 1137.0 188.8 1139.6C190.7 1142.1 192.0 1144.7 193.8 1147.1C195.7 1149.6 197.8 1152.3 199.8 1154.4C201.9 1156.4 203.9 1157.1 206.2 1159.5C208.5 1161.8 211.3 1165.8 213.8 1168.4C216.4 1170.9 218.6 1171.5 221.5 1174.8C224.5 1178.1 231.0 1184.3 231.3 1188.1C231.7 1192.0 226.2 1195.7 223.5 1197.9C220.7 1200.1 216.8 1200.0 215.0 1201.4C213.1 1202.9 212.4 1204.4 212.3 1206.7C212.2 1209.0 213.0 1212.0 214.5 1215.1C216.0 1218.3 221.5 1222.2 221.2 1225.5C220.9 1228.8 215.8 1233.4 212.8 1235.1C209.8 1236.7 206.2 1235.9 202.9 1235.3C199.7 1234.6 196.2 1232.8 193.1 1231.1C190.0 1229.4 187.0 1226.1 184.5 1224.9C182.0 1223.7 180.9 1224.1 178.1 1223.9C175.2 1223.7 171.2 1224.6 167.5 1223.9C163.8 1223.1 159.4 1221.7 156.1 1219.6C152.7 1217.4 149.8 1214.1 147.5 1211.0C145.3 1208.0 143.6 1204.4 142.6 1201.2C141.5 1198.1 140.8 1195.5 141.1 1192.1Z" fill-opacity="0.395"/>
<path d="M144.6 1192.5C144.9 1189.5 146.0 1185.7 147.8 1182.3C149.6 1178.9 152.5 1175.1 155.4 1172.1C158.4 1169.2 162.6 1166.8 165.6 1164.5C168.6 1162.2 171.5 1160.9 173.2 1158.1C174.9 1155.4 175.6 1151.6 175.8 1148.0C176.0 1144.4 173.6 1138.6 174.5 1136.5C175.3 1134.4 178.9 1134.4 180.8 1135.3C182.8 1136.1 184.2 1139.3 185.9 1141.6C187.6 1143.9 189.1 1146.7 191.0 1149.2C192.9 1151.8 195.3 1154.7 197.4 1156.9C199.5 1159.0 201.4 1159.6 203.7 1161.9C206.1 1164.3 208.8 1168.3 211.4 1170.8C213.9 1173.4 216.2 1174.2 219.0 1177.2C221.7 1180.2 227.5 1185.7 227.9 1188.6C228.3 1191.6 224.1 1193.3 221.5 1195.0C219.0 1196.7 214.7 1196.9 212.6 1198.8C210.5 1200.7 209.0 1203.5 208.8 1206.4C208.6 1209.4 209.9 1213.4 211.4 1216.6C212.8 1219.8 217.7 1223.0 217.7 1225.5C217.7 1228.1 213.7 1230.8 211.4 1231.9C209.0 1232.9 206.5 1232.5 203.7 1231.9C201.0 1231.2 197.8 1229.7 194.8 1228.1C191.9 1226.4 188.7 1223.0 185.9 1221.7C183.2 1220.4 181.3 1220.6 178.3 1220.4C175.3 1220.2 171.5 1221.1 168.1 1220.4C164.7 1219.8 160.9 1218.5 158.0 1216.6C155.0 1214.7 152.4 1211.7 150.3 1209.0C148.3 1206.2 146.8 1202.8 145.9 1200.1C144.9 1197.3 144.3 1195.4 144.6 1192.5Z" fill-opacity="0.362"/>
<path d="M146.5 1191.2C147.6 1186.5 151.8 1179.3 155.4 1175.9C159.0 1172.5 164.3 1170.0 168.1 1170.8C171.9 1171.7 177.7 1176.8 178.3 1181.0C178.9 1185.3 174.1 1191.2 171.9 1196.3C169.8 1201.4 168.3 1209.0 165.6 1211.5C162.8 1214.1 158.2 1212.8 155.4 1211.5C152.7 1210.3 150.6 1207.3 149.1 1203.9C147.6 1200.5 145.5 1195.8 146.5 1191.2Z" fill-opacity="0.132" filter="url(#sb3)"/>
<path d="M257.5 1257.7C258.1 1254.3 264.4 1249.4 267.2 1246.1C270.0 1242.8 272.6 1240.7 274.5 1237.7C276.3 1234.7 276.6 1231.3 278.0 1228.0C279.4 1224.7 280.3 1219.6 282.8 1217.8C285.3 1216.0 289.8 1216.2 292.9 1217.2C296.0 1218.3 298.7 1221.7 301.4 1224.2C304.2 1226.7 306.9 1229.3 309.4 1232.1C311.8 1235.0 314.0 1238.3 316.0 1241.4C318.0 1244.5 320.2 1247.9 321.4 1250.9C322.5 1253.8 323.4 1256.0 322.9 1259.1C322.3 1262.3 320.5 1266.9 318.3 1269.7C316.1 1272.4 312.8 1274.0 309.5 1275.7C306.2 1277.4 302.1 1279.1 298.5 1279.8C294.9 1280.5 291.3 1280.5 288.1 1279.8C285.0 1279.1 282.5 1277.2 279.6 1275.6C276.7 1274.1 273.2 1272.0 270.6 1270.5C268.0 1268.9 266.0 1268.5 263.9 1266.4C261.7 1264.3 257.0 1261.1 257.5 1257.7Z" fill-opacity="0.395"/>
<path d="M260.9 1258.6C261.6 1256.0 267.1 1251.6 269.8 1248.4C272.6 1245.2 275.6 1242.7 277.5 1239.5C279.4 1236.3 280.0 1232.5 281.3 1229.3C282.5 1226.1 283.4 1221.9 285.1 1220.4C286.8 1218.9 289.1 1219.4 291.4 1220.4C293.8 1221.5 296.5 1224.4 299.1 1226.8C301.6 1229.1 304.4 1231.7 306.7 1234.4C309.0 1237.2 311.1 1240.3 313.1 1243.3C315.0 1246.3 317.1 1249.7 318.1 1252.2C319.2 1254.7 319.8 1256.0 319.4 1258.6C319.0 1261.1 317.5 1265.1 315.6 1267.5C313.7 1269.8 310.9 1271.1 308.0 1272.5C305.0 1274.0 301.0 1275.7 297.8 1276.4C294.6 1277.0 291.7 1277.0 288.9 1276.4C286.1 1275.7 284.0 1274.0 281.3 1272.5C278.5 1271.1 274.9 1268.9 272.4 1267.5C269.8 1266.0 267.9 1265.1 266.0 1263.6C264.1 1262.2 260.3 1261.1 260.9 1258.6Z" fill-opacity="0.362"/>
<path d="M288.9 1228.1C290.8 1226.4 297.4 1230.8 301.6 1234.4C305.8 1238.0 312.0 1245.0 314.3 1249.7C316.7 1254.3 317.1 1259.0 315.6 1262.4C314.1 1265.8 308.8 1270.4 305.4 1270.0C302.0 1269.6 297.8 1264.1 295.3 1259.8C292.7 1255.6 291.2 1249.9 290.2 1244.6C289.1 1239.3 287.0 1229.7 288.9 1228.1Z" fill-opacity="0.164" filter="url(#sb3)"/>
<path d="M211.4 1201.4C211.8 1198.4 215.6 1198.0 219.0 1201.4C222.4 1204.7 226.6 1216.6 231.7 1221.7C236.8 1226.8 243.1 1229.7 249.5 1231.9C255.8 1234.0 266.0 1231.9 269.8 1234.4C273.6 1236.9 274.5 1244.6 272.4 1247.1C270.3 1249.7 262.2 1250.7 257.1 1249.7C252.0 1248.6 246.9 1243.7 241.9 1240.8C236.8 1237.8 230.8 1235.5 226.6 1231.9C222.4 1228.3 219.0 1224.2 216.4 1219.2C213.9 1214.1 210.9 1204.3 211.4 1201.4Z" fill-opacity="0.382"/>
</g>
<g id="s_caf">
<path d="M144.6 1192.5C144.9 1189.5 146.0 1185.7 147.8 1182.3C149.6 1178.9 152.5 1175.1 155.4 1172.1C158.4 1169.2 162.6 1166.8 165.6 1164.5C168.6 1162.2 171.5 1160.9 173.2 1158.1C174.9 1155.4 175.6 1151.6 175.8 1148.0C176.0 1144.4 173.6 1138.6 174.5 1136.5C175.3 1134.4 178.9 1134.4 180.8 1135.3C182.8 1136.1 184.2 1139.3 185.9 1141.6C187.6 1143.9 189.1 1146.7 191.0 1149.2C192.9 1151.8 195.3 1154.7 197.4 1156.9C199.5 1159.0 201.4 1159.6 203.7 1161.9C206.1 1164.3 208.8 1168.3 211.4 1170.8C213.9 1173.4 216.2 1174.2 219.0 1177.2C221.7 1180.2 227.5 1185.7 227.9 1188.6C228.3 1191.6 224.1 1193.3 221.5 1195.0C219.0 1196.7 214.7 1196.9 212.6 1198.8C210.5 1200.7 209.0 1203.5 208.8 1206.4C208.6 1209.4 209.9 1213.4 211.4 1216.6C212.8 1219.8 217.7 1223.0 217.7 1225.5C217.7 1228.1 213.7 1230.8 211.4 1231.9C209.0 1232.9 206.5 1232.5 203.7 1231.9C201.0 1231.2 197.8 1229.7 194.8 1228.1C191.9 1226.4 188.7 1223.0 185.9 1221.7C183.2 1220.4 181.3 1220.6 178.3 1220.4C175.3 1220.2 171.5 1221.1 168.1 1220.4C164.7 1219.8 160.9 1218.5 158.0 1216.6C155.0 1214.7 152.4 1211.7 150.3 1209.0C148.3 1206.2 146.8 1202.8 145.9 1200.1C144.9 1197.3 144.3 1195.4 144.6 1192.5Z" fill-opacity="0.6"/>
<path d="M260.9 1258.6C261.6 1256.0 267.1 1251.6 269.8 1248.4C272.6 1245.2 275.6 1242.7 277.5 1239.5C279.4 1236.3 280.0 1232.5 281.3 1229.3C282.5 1226.1 283.4 1221.9 285.1 1220.4C286.8 1218.9 289.1 1219.4 291.4 1220.4C293.8 1221.5 296.5 1224.4 299.1 1226.8C301.6 1229.1 304.4 1231.7 306.7 1234.4C309.0 1237.2 311.1 1240.3 313.1 1243.3C315.0 1246.3 317.1 1249.7 318.1 1252.2C319.2 1254.7 319.8 1256.0 319.4 1258.6C319.0 1261.1 317.5 1265.1 315.6 1267.5C313.7 1269.8 310.9 1271.1 308.0 1272.5C305.0 1274.0 301.0 1275.7 297.8 1276.4C294.6 1277.0 291.7 1277.0 288.9 1276.4C286.1 1275.7 284.0 1274.0 281.3 1272.5C278.5 1271.1 274.9 1268.9 272.4 1267.5C269.8 1266.0 267.9 1265.1 266.0 1263.6C264.1 1262.2 260.3 1261.1 260.9 1258.6Z" fill-opacity="0.6"/>
<path d="M211.4 1201.4C211.8 1198.4 215.6 1198.0 219.0 1201.4C222.4 1204.7 226.6 1216.6 231.7 1221.7C236.8 1226.8 243.1 1229.7 249.5 1231.9C255.8 1234.0 266.0 1231.9 269.8 1234.4C273.6 1236.9 274.5 1244.6 272.4 1247.1C270.3 1249.7 262.2 1250.7 257.1 1249.7C252.0 1248.6 246.9 1243.7 241.9 1240.8C236.8 1237.8 230.8 1235.5 226.6 1231.9C222.4 1228.3 219.0 1224.2 216.4 1219.2C213.9 1214.1 210.9 1204.3 211.4 1201.4Z" fill-opacity="0.382" stroke="none"/>
</g>
<g id="c_b">
<path d="M650.4 1066.8C649.9 1063.6 655.1 1055.5 659.7 1051.2C664.2 1047.0 671.4 1045.1 677.5 1041.4C683.6 1037.7 691.1 1032.5 696.2 1028.9C701.4 1025.3 704.3 1023.4 708.5 1019.8C712.6 1016.1 717.1 1010.9 721.0 1007.2C724.8 1003.6 728.5 1001.5 731.8 998.0C735.0 994.6 738.8 990.1 740.5 986.5C742.2 983.0 743.0 980.0 741.9 976.6C740.8 973.3 733.6 969.6 733.9 966.6C734.2 963.5 740.1 959.1 743.7 958.2C747.4 957.3 752.0 958.9 755.7 961.1C759.4 963.4 762.8 967.3 766.2 971.5C769.5 975.6 772.9 981.4 775.8 986.0C778.8 990.5 781.4 994.5 783.8 998.8C786.2 1003.0 788.1 1007.3 790.2 1011.5C792.3 1015.8 794.8 1020.1 796.6 1024.3C798.4 1028.5 799.3 1033.1 801.2 1036.6C803.0 1040.1 807.6 1042.4 807.8 1045.4C808.1 1048.4 804.4 1053.2 802.6 1054.7C800.8 1056.2 798.4 1053.2 796.8 1054.3C795.2 1055.5 795.3 1058.2 793.0 1061.4C790.7 1064.5 786.8 1069.7 782.9 1073.0C779.1 1076.3 774.1 1078.9 769.7 1081.3C765.3 1083.8 760.4 1086.5 756.6 1087.9C752.8 1089.3 750.6 1090.0 747.0 1089.7C743.4 1089.4 739.1 1087.7 735.0 1086.4C730.9 1085.0 726.7 1083.0 722.5 1081.7C718.3 1080.4 714.1 1079.8 709.9 1078.5C705.7 1077.2 701.4 1075.1 697.3 1073.8C693.2 1072.5 689.2 1071.5 685.2 1070.8C681.2 1070.0 677.1 1069.2 673.3 1069.3C669.6 1069.3 666.4 1071.2 662.6 1070.8C658.8 1070.4 650.9 1070.1 650.4 1066.8Z" fill-opacity="0.395"/>
<path d="M654.4 1066.8C654.4 1064.7 658.1 1057.9 662.3 1054.2C666.5 1050.6 673.6 1048.5 679.6 1044.8C685.6 1041.1 693.3 1035.9 698.5 1032.2C703.7 1028.5 706.9 1026.4 711.1 1022.8C715.3 1019.1 719.7 1013.8 723.7 1010.2C727.6 1006.5 731.3 1004.4 734.7 1000.7C738.1 997.1 742.3 992.3 744.1 988.1C746.0 983.9 746.8 979.2 745.7 975.5C744.7 971.9 738.1 968.3 737.8 966.1C737.6 963.9 741.5 962.4 744.1 962.2C746.8 961.9 750.4 962.6 753.6 964.5C756.7 966.5 759.9 970.0 763.0 974.0C766.2 977.9 769.6 983.7 772.5 988.1C775.4 992.6 778.0 996.5 780.3 1000.7C782.7 1004.9 784.5 1009.1 786.6 1013.3C788.7 1017.5 791.1 1021.7 792.9 1025.9C794.8 1030.1 795.8 1035.1 797.7 1038.5C799.5 1041.9 803.4 1044.3 803.9 1046.4C804.5 1048.5 802.4 1050.3 800.8 1051.1C799.2 1051.9 796.3 1049.8 794.5 1051.1C792.7 1052.4 792.1 1055.8 789.8 1059.0C787.4 1062.1 784.0 1066.8 780.3 1070.0C776.7 1073.1 771.9 1075.5 767.7 1077.8C763.6 1080.2 758.6 1082.8 755.2 1084.1C751.7 1085.5 750.4 1086.0 747.3 1085.7C744.1 1085.5 740.2 1083.9 736.3 1082.6C732.3 1081.3 727.9 1079.2 723.7 1077.8C719.5 1076.5 715.3 1076.0 711.1 1074.7C706.9 1073.4 702.7 1071.3 698.5 1070.0C694.3 1068.7 690.1 1067.6 685.9 1066.8C681.7 1066.0 677.3 1065.3 673.3 1065.3C669.4 1065.3 665.4 1066.6 662.3 1066.8C659.2 1067.1 654.4 1068.9 654.4 1066.8Z" fill-opacity="0.344"/>
<path d="M717.4 1035.4C719.5 1027.0 727.9 1020.1 733.1 1013.3C738.4 1006.5 744.7 999.7 748.9 994.4C753.1 989.2 754.6 981.3 758.3 981.8C762.0 982.4 766.7 991.3 770.9 997.6C775.1 1003.9 780.3 1012.3 783.5 1019.6C786.6 1027.0 790.3 1034.3 789.8 1041.6C789.3 1049.0 785.1 1057.9 780.3 1063.7C775.6 1069.5 768.3 1074.2 761.5 1076.3C754.6 1078.4 746.2 1078.4 739.4 1076.3C732.6 1074.2 724.2 1070.5 720.5 1063.7C716.9 1056.9 715.3 1043.7 717.4 1035.4Z" fill-opacity="0.239" filter="url(#sb3)"/>
<path d="M738.6 966.9C738.2 964.3 742.3 963.1 744.9 963.0C747.6 962.8 751.4 964.0 754.4 966.1C757.4 968.2 762.6 972.9 763.0 975.5C763.4 978.2 759.4 981.3 756.7 981.8C754.1 982.4 750.3 981.2 747.3 978.7C744.3 976.2 739.0 969.5 738.6 966.9Z" fill-opacity="0.239" filter="url(#sb3)"/>
<path d="M689.1 963.0C691.7 961.1 703.2 962.4 711.1 963.0C719.0 963.5 730.8 963.0 736.3 966.1C741.8 969.2 744.7 976.6 744.1 981.8C743.6 987.1 736.5 996.5 733.1 997.6C729.7 998.6 727.4 991.3 723.7 988.1C720.0 985.0 715.8 981.1 711.1 978.7C706.4 976.3 699.0 976.6 695.4 974.0C691.7 971.3 686.4 964.8 689.1 963.0Z" fill-opacity="0.409"/>
<path d="M577.3 926.4C578.9 927.7 583.5 931.6 586.8 933.8C590.0 936.1 592.8 939.1 597.0 940.1C601.2 941.2 606.8 940.1 611.9 940.1C617.1 940.2 625.1 940.5 627.7 940.6" fill="none" stroke="#000" stroke-width="4.5" stroke-linecap="round" stroke-opacity="0.755"/>
<path d="M627.7 940.6C630.0 941.6 637.4 944.8 641.8 946.4C646.3 948.1 649.7 948.8 654.4 950.4C659.2 951.9 664.1 954.0 670.2 955.9C676.2 957.7 687.2 960.5 690.6 961.4" fill="none" stroke="#000" stroke-width="3.0" stroke-linecap="round" stroke-opacity="0.831"/>
<path d="M690.6 961.4C694.0 962.0 704.0 964.2 711.1 965.2C718.2 966.1 728.1 966.7 733.1 966.9C738.1 967.0 739.7 966.2 741.0 966.1" fill="none" stroke="#000" stroke-width="4.5" stroke-linecap="round" stroke-opacity="0.575"/>
<path d="M597.0 942.5C597.5 944.6 598.8 950.9 600.1 955.1C601.4 959.3 604.1 965.6 604.9 967.7" fill="none" stroke="#000" stroke-width="4.0" stroke-linecap="round" stroke-opacity="0.667"/>
<path d="M588.3 944.1C590.2 941.2 603.8 940.9 607.2 942.5C610.6 944.1 610.6 950.6 608.8 953.5C607.0 956.4 599.6 961.4 596.2 959.8C592.8 958.2 586.5 947.0 588.3 944.1Z" fill-opacity="0.466"/>
</g>
<g id="s_b">
<path d="M654.4 1066.8C654.4 1064.7 658.1 1057.9 662.3 1054.2C666.5 1050.6 673.6 1048.5 679.6 1044.8C685.6 1041.1 693.3 1035.9 698.5 1032.2C703.7 1028.5 706.9 1026.4 711.1 1022.8C715.3 1019.1 719.7 1013.8 723.7 1010.2C727.6 1006.5 731.3 1004.4 734.7 1000.7C738.1 997.1 742.3 992.3 744.1 988.1C746.0 983.9 746.8 979.2 745.7 975.5C744.7 971.9 738.1 968.3 737.8 966.1C737.6 963.9 741.5 962.4 744.1 962.2C746.8 961.9 750.4 962.6 753.6 964.5C756.7 966.5 759.9 970.0 763.0 974.0C766.2 977.9 769.6 983.7 772.5 988.1C775.4 992.6 778.0 996.5 780.3 1000.7C782.7 1004.9 784.5 1009.1 786.6 1013.3C788.7 1017.5 791.1 1021.7 792.9 1025.9C794.8 1030.1 795.8 1035.1 797.7 1038.5C799.5 1041.9 803.4 1044.3 803.9 1046.4C804.5 1048.5 802.4 1050.3 800.8 1051.1C799.2 1051.9 796.3 1049.8 794.5 1051.1C792.7 1052.4 792.1 1055.8 789.8 1059.0C787.4 1062.1 784.0 1066.8 780.3 1070.0C776.7 1073.1 771.9 1075.5 767.7 1077.8C763.6 1080.2 758.6 1082.8 755.2 1084.1C751.7 1085.5 750.4 1086.0 747.3 1085.7C744.1 1085.5 740.2 1083.9 736.3 1082.6C732.3 1081.3 727.9 1079.2 723.7 1077.8C719.5 1076.5 715.3 1076.0 711.1 1074.7C706.9 1073.4 702.7 1071.3 698.5 1070.0C694.3 1068.7 690.1 1067.6 685.9 1066.8C681.7 1066.0 677.3 1065.3 673.3 1065.3C669.4 1065.3 665.4 1066.6 662.3 1066.8C659.2 1067.1 654.4 1068.9 654.4 1066.8Z" fill-opacity="0.6"/>
<path d="M689.1 963.0C691.7 961.1 703.2 962.4 711.1 963.0C719.0 963.5 730.8 963.0 736.3 966.1C741.8 969.2 744.7 976.6 744.1 981.8C743.6 987.1 736.5 996.5 733.1 997.6C729.7 998.6 727.4 991.3 723.7 988.1C720.0 985.0 715.8 981.1 711.1 978.7C706.4 976.3 699.0 976.6 695.4 974.0C691.7 971.3 686.4 964.8 689.1 963.0Z" fill-opacity="0.409" stroke="none"/>
<path d="M577.3 926.4C578.9 927.7 583.5 931.6 586.8 933.8C590.0 936.1 592.8 939.1 597.0 940.1C601.2 941.2 606.8 940.1 611.9 940.1C617.1 940.2 625.1 940.5 627.7 940.6" fill="none" stroke="#000" stroke-width="4.5" stroke-linecap="round" stroke-opacity="0.731"/>
<path d="M627.7 940.6C630.0 941.6 637.4 944.8 641.8 946.4C646.3 948.1 649.7 948.8 654.4 950.4C659.2 951.9 664.1 954.0 670.2 955.9C676.2 957.7 687.2 960.5 690.6 961.4" fill="none" stroke="#000" stroke-width="3.0" stroke-linecap="round" stroke-opacity="0.943"/>
<path d="M690.6 961.4C694.0 962.0 704.0 964.2 711.1 965.2C718.2 966.1 728.1 966.7 733.1 966.9C738.1 967.0 739.7 966.2 741.0 966.1" fill="none" stroke="#000" stroke-width="4.5" stroke-linecap="round" stroke-opacity="0.575"/>
<path d="M597.0 942.5C597.5 944.6 598.8 950.9 600.1 955.1C601.4 959.3 604.1 965.6 604.9 967.7" fill="none" stroke="#000" stroke-width="4.0" stroke-linecap="round" stroke-opacity="0.779"/>
</g>
<g id="c_tnk">
<path d="M519.3 1235.3C519.6 1231.9 523.3 1228.0 526.7 1225.3C530.0 1222.5 534.3 1220.4 539.5 1218.8C544.7 1217.2 549.8 1216.5 557.7 1215.8C565.7 1215.0 577.4 1214.4 587.1 1214.3C596.9 1214.2 606.6 1214.8 616.3 1215.0C626.0 1215.3 636.9 1215.6 645.3 1215.7C653.8 1215.9 661.0 1215.5 667.2 1215.7C673.4 1216.0 677.5 1216.2 682.4 1217.3C687.3 1218.3 692.6 1219.6 696.7 1222.1C700.8 1224.6 704.8 1228.4 706.9 1232.4C709.1 1236.3 709.5 1241.3 709.6 1245.9C709.6 1250.5 708.6 1255.2 707.2 1260.1C705.8 1264.9 703.2 1270.7 701.2 1275.1C699.3 1279.5 697.0 1281.6 695.6 1286.3C694.2 1291.0 693.7 1298.0 692.8 1303.3C691.8 1308.5 690.9 1312.2 689.9 1317.8C688.9 1323.3 688.0 1330.5 687.0 1336.6C686.0 1342.7 685.5 1348.4 684.0 1354.4C682.5 1360.3 680.3 1366.3 678.1 1372.2C675.9 1378.1 673.0 1383.9 670.8 1389.7C668.7 1395.4 666.8 1401.1 665.1 1406.8C663.4 1412.5 662.0 1418.7 660.8 1424.0C659.6 1429.3 659.1 1434.2 657.8 1438.7C656.6 1443.2 655.3 1447.6 653.2 1451.2C651.0 1454.8 648.2 1459.4 645.1 1460.3C642.0 1461.3 637.8 1458.9 634.4 1457.0C631.1 1455.1 628.0 1452.4 624.9 1449.1C621.8 1445.8 618.9 1441.1 615.9 1437.1C613.0 1433.2 610.4 1429.5 607.3 1425.6C604.2 1421.8 600.5 1418.4 597.1 1414.0C593.7 1409.5 589.9 1404.1 586.7 1399.2C583.5 1394.2 580.8 1389.8 577.8 1384.4C574.9 1378.9 571.4 1372.5 568.9 1366.6C566.5 1360.6 564.7 1354.6 563.0 1348.7C561.3 1342.8 559.8 1336.2 558.6 1331.1C557.4 1325.9 556.6 1322.6 555.7 1317.9C554.7 1313.2 552.9 1307.7 552.7 1302.8C552.5 1297.8 553.0 1291.5 554.4 1287.9C555.9 1284.4 561.3 1283.5 561.4 1281.5C561.5 1279.5 557.8 1279.1 555.0 1276.0C552.3 1273.0 548.2 1266.8 544.9 1263.0C541.6 1259.3 538.5 1256.2 535.2 1253.3C531.8 1250.4 527.4 1248.8 524.8 1245.8C522.1 1242.8 519.0 1238.7 519.3 1235.3Z" fill-opacity="0.395"/>
<path d="M523.2 1235.7C523.5 1233.3 526.2 1230.6 529.1 1228.5C532.0 1226.3 535.8 1224.1 540.7 1222.6C545.5 1221.2 550.4 1220.5 558.1 1219.7C565.9 1219.0 577.5 1218.4 587.2 1218.3C596.9 1218.2 606.5 1218.8 616.2 1219.0C625.9 1219.2 636.8 1219.6 645.3 1219.7C653.8 1219.9 661.0 1219.5 667.1 1219.7C673.1 1220.0 677.0 1220.2 681.6 1221.2C686.2 1222.2 691.0 1223.4 694.7 1225.5C698.3 1227.7 701.6 1230.9 703.4 1234.3C705.2 1237.7 705.6 1241.8 705.6 1245.9C705.6 1250.0 704.7 1254.4 703.4 1259.0C702.1 1263.6 699.5 1269.1 697.6 1273.5C695.6 1277.8 693.2 1280.3 691.8 1285.1C690.3 1290.0 689.8 1297.2 688.9 1302.5C687.9 1307.9 686.9 1311.5 686.0 1317.1C685.0 1322.6 684.0 1329.9 683.1 1336.0C682.1 1342.0 681.6 1347.6 680.1 1353.4C678.7 1359.2 676.5 1365.0 674.3 1370.8C672.2 1376.6 669.3 1382.4 667.1 1388.3C664.9 1394.1 663.0 1399.9 661.3 1405.7C659.6 1411.5 658.1 1417.8 656.9 1423.1C655.7 1428.5 655.2 1433.3 654.0 1437.7C652.8 1442.0 651.3 1446.1 649.6 1449.3C647.9 1452.4 646.0 1455.8 643.8 1456.5C641.6 1457.3 639.2 1455.3 636.6 1453.6C633.9 1451.9 630.8 1449.5 627.8 1446.4C624.9 1443.2 622.0 1438.6 619.1 1434.7C616.2 1430.9 613.6 1427.0 610.4 1423.1C607.3 1419.3 603.6 1415.9 600.2 1411.5C596.9 1407.1 593.2 1401.8 590.1 1397.0C586.9 1392.1 584.3 1387.8 581.4 1382.4C578.5 1377.1 575.1 1370.8 572.6 1365.0C570.2 1359.2 568.5 1353.4 566.8 1347.6C565.1 1341.8 563.7 1335.2 562.5 1330.1C561.3 1325.1 560.5 1321.7 559.6 1317.1C558.6 1312.5 556.9 1307.1 556.7 1302.5C556.4 1297.9 556.7 1293.0 558.1 1289.5C559.6 1286.0 565.4 1284.1 565.4 1281.5C565.4 1278.8 561.0 1277.0 558.1 1273.5C555.2 1270.0 551.3 1264.3 547.9 1260.4C544.6 1256.5 541.2 1253.1 537.8 1250.2C534.4 1247.3 530.0 1245.4 527.6 1243.0C525.2 1240.6 523.0 1238.1 523.2 1235.7Z" fill-opacity="0.356"/>
<path d="M525.4 1235.7C524.7 1232.6 528.0 1229.3 533.4 1227.0C538.9 1224.7 549.2 1222.6 558.1 1221.9C567.1 1221.2 581.4 1221.1 587.2 1222.6C593.0 1224.2 593.9 1228.0 593.0 1231.4C592.0 1234.7 587.2 1240.8 581.4 1243.0C575.5 1245.2 565.4 1243.9 558.1 1244.4C550.8 1244.9 543.2 1247.3 537.8 1245.9C532.3 1244.4 526.2 1238.9 525.4 1235.7Z" fill-opacity="0.358" filter="url(#sb7)"/>
<path d="M630.8 1225.5C637.3 1222.6 656.7 1222.2 667.1 1222.6C677.5 1223.1 687.3 1225.1 693.2 1228.5C699.2 1231.8 701.5 1237.2 702.7 1243.0C703.9 1248.8 702.8 1257.0 700.5 1263.3C698.2 1269.6 694.4 1276.4 688.9 1280.8C683.3 1285.1 674.3 1289.5 667.1 1289.5C659.8 1289.5 650.8 1285.6 645.3 1280.8C639.7 1275.9 636.6 1267.2 633.7 1260.4C630.8 1253.6 628.3 1245.9 627.8 1240.1C627.4 1234.3 624.2 1228.5 630.8 1225.5Z" fill-opacity="0.358" filter="url(#sb7)"/>
<path d="M590.1 1336.0C594.4 1332.3 603.6 1328.2 610.4 1328.7C617.2 1329.2 626.6 1332.8 630.8 1338.9C634.9 1344.9 636.1 1357.7 635.1 1365.0C634.1 1372.3 630.5 1379.1 624.9 1382.4C619.4 1385.8 608.0 1387.8 601.7 1385.4C595.4 1382.9 590.1 1373.7 587.2 1367.9C584.3 1362.1 583.8 1355.8 584.3 1350.5C584.7 1345.2 585.7 1339.6 590.1 1336.0Z" fill-opacity="0.294" filter="url(#sb7)"/>
<path d="M626.4 1431.8C628.1 1427.7 640.7 1425.1 645.3 1426.0C649.9 1427.0 653.3 1433.8 654.0 1437.7C654.7 1441.5 651.3 1446.4 649.6 1449.3C647.9 1452.2 646.2 1454.8 643.8 1455.1C641.4 1455.3 638.0 1454.6 635.1 1450.7C632.2 1446.9 624.7 1436.0 626.4 1431.8Z" fill-opacity="0.358" filter="url(#sb7)"/>
<path d="M645.3 1295.3C651.3 1292.4 668.0 1288.7 674.3 1292.4C680.6 1296.0 683.1 1306.9 683.1 1317.1C683.1 1327.2 679.4 1346.1 674.3 1353.4C669.3 1360.7 658.4 1363.1 652.5 1360.7C646.7 1358.2 641.9 1347.3 639.5 1338.9C637.0 1330.4 637.0 1317.1 638.0 1309.8C639.0 1302.5 639.2 1298.2 645.3 1295.3Z" fill-opacity="0.198" filter="url(#sb7)"/>
<path d="M643.0 1173.8C643.6 1171.5 648.3 1167.3 650.9 1166.7C653.5 1166.0 656.8 1167.8 658.9 1169.8C661.0 1171.8 662.2 1175.3 663.5 1178.8C664.7 1182.3 666.2 1187.4 666.4 1190.6C666.6 1193.8 665.8 1197.8 664.6 1198.0C663.3 1198.2 660.8 1194.1 659.1 1191.9C657.5 1189.6 656.8 1186.6 654.9 1184.7C653.0 1182.8 649.6 1182.2 647.7 1180.4C645.7 1178.6 642.5 1176.1 643.0 1173.8Z" fill-opacity="0.659"/>
<path d="M663.4 1196.5C664.0 1198.2 666.3 1203.5 667.1 1206.7C667.8 1209.8 667.7 1213.9 667.8 1215.4" fill="none" stroke="#000" stroke-width="5.0" stroke-linecap="round" stroke-opacity="0.448"/>
<path d="M601.8 968.8C603.4 966.8 606.9 965.4 609.3 967.0C611.6 968.6 614.0 974.8 615.8 978.3C617.6 981.9 620.5 986.3 619.8 988.4C619.1 990.4 614.2 991.0 611.8 990.5C609.3 990.0 607.0 987.5 605.1 985.6C603.1 983.6 600.7 981.6 600.1 978.8C599.6 976.1 600.3 970.8 601.8 968.8Z" fill-opacity="0.568"/>
<path d="M586.0 981.6C587.2 977.7 590.8 976.9 593.4 978.0C596.0 979.0 600.1 984.5 601.6 987.8C603.2 991.1 603.6 995.2 602.4 997.9C601.3 1000.6 597.6 1003.2 594.8 1003.9C592.1 1004.5 587.5 1005.5 586.0 1001.8C584.5 998.1 584.8 985.6 586.0 981.6Z" fill-opacity="0.526"/>
</g>
<g id="s_tnk">
<path d="M523.2 1235.7C523.5 1233.3 526.2 1230.6 529.1 1228.5C532.0 1226.3 535.8 1224.1 540.7 1222.6C545.5 1221.2 550.4 1220.5 558.1 1219.7C565.9 1219.0 577.5 1218.4 587.2 1218.3C596.9 1218.2 606.5 1218.8 616.2 1219.0C625.9 1219.2 636.8 1219.6 645.3 1219.7C653.8 1219.9 661.0 1219.5 667.1 1219.7C673.1 1220.0 677.0 1220.2 681.6 1221.2C686.2 1222.2 691.0 1223.4 694.7 1225.5C698.3 1227.7 701.6 1230.9 703.4 1234.3C705.2 1237.7 705.6 1241.8 705.6 1245.9C705.6 1250.0 704.7 1254.4 703.4 1259.0C702.1 1263.6 699.5 1269.1 697.6 1273.5C695.6 1277.8 693.2 1280.3 691.8 1285.1C690.3 1290.0 689.8 1297.2 688.9 1302.5C687.9 1307.9 686.9 1311.5 686.0 1317.1C685.0 1322.6 684.0 1329.9 683.1 1336.0C682.1 1342.0 681.6 1347.6 680.1 1353.4C678.7 1359.2 676.5 1365.0 674.3 1370.8C672.2 1376.6 669.3 1382.4 667.1 1388.3C664.9 1394.1 663.0 1399.9 661.3 1405.7C659.6 1411.5 658.1 1417.8 656.9 1423.1C655.7 1428.5 655.2 1433.3 654.0 1437.7C652.8 1442.0 651.3 1446.1 649.6 1449.3C647.9 1452.4 646.0 1455.8 643.8 1456.5C641.6 1457.3 639.2 1455.3 636.6 1453.6C633.9 1451.9 630.8 1449.5 627.8 1446.4C624.9 1443.2 622.0 1438.6 619.1 1434.7C616.2 1430.9 613.6 1427.0 610.4 1423.1C607.3 1419.3 603.6 1415.9 600.2 1411.5C596.9 1407.1 593.2 1401.8 590.1 1397.0C586.9 1392.1 584.3 1387.8 581.4 1382.4C578.5 1377.1 575.1 1370.8 572.6 1365.0C570.2 1359.2 568.5 1353.4 566.8 1347.6C565.1 1341.8 563.7 1335.2 562.5 1330.1C561.3 1325.1 560.5 1321.7 559.6 1317.1C558.6 1312.5 556.9 1307.1 556.7 1302.5C556.4 1297.9 556.7 1293.0 558.1 1289.5C559.6 1286.0 565.4 1284.1 565.4 1281.5C565.4 1278.8 561.0 1277.0 558.1 1273.5C555.2 1270.0 551.3 1264.3 547.9 1260.4C544.6 1256.5 541.2 1253.1 537.8 1250.2C534.4 1247.3 530.0 1245.4 527.6 1243.0C525.2 1240.6 523.0 1238.1 523.2 1235.7Z" fill-opacity="0.6"/>
<path d="M643.0 1173.8C643.6 1171.5 648.3 1167.3 650.9 1166.7C653.5 1166.0 656.8 1167.8 658.9 1169.8C661.0 1171.8 662.2 1175.3 663.5 1178.8C664.7 1182.3 666.2 1187.4 666.4 1190.6C666.6 1193.8 665.8 1197.8 664.6 1198.0C663.3 1198.2 660.8 1194.1 659.1 1191.9C657.5 1189.6 656.8 1186.6 654.9 1184.7C653.0 1182.8 649.6 1182.2 647.7 1180.4C645.7 1178.6 642.5 1176.1 643.0 1173.8Z" fill-opacity="0.6"/>
<path d="M601.8 968.8C603.4 966.8 606.9 965.4 609.3 967.0C611.6 968.6 614.0 974.8 615.8 978.3C617.6 981.9 620.5 986.3 619.8 988.4C619.1 990.4 614.2 991.0 611.8 990.5C609.3 990.0 607.0 987.5 605.1 985.6C603.1 983.6 600.7 981.6 600.1 978.8C599.6 976.1 600.3 970.8 601.8 968.8Z" fill-opacity="0.6"/>
<path d="M586.0 981.6C587.2 977.7 590.8 976.9 593.4 978.0C596.0 979.0 600.1 984.5 601.6 987.8C603.2 991.1 603.6 995.2 602.4 997.9C601.3 1000.6 597.6 1003.2 594.8 1003.9C592.1 1004.5 587.5 1005.5 586.0 1001.8C584.5 998.1 584.8 985.6 586.0 981.6Z" fill-opacity="0.6"/>
</g>
<filter id="fb1" x="-5%" y="-5%" width="110%" height="110%" color-interpolation-filters="sRGB"><feGaussianBlur in="SourceAlpha" stdDeviation="1.4" result="b"/><feTurbulence type="fractalNoise" baseFrequency="1.3" numOctaves="1" seed="10" result="n"/><feColorMatrix in="n" type="matrix" values="0 0 0 0 0 0 0 0 0 0 0 0 0 0 0 1 0 0 0 0" result="na"/><feComposite in="b" in2="na" operator="arithmetic" k1="0" k2="1.04" k3="-1" k4="0.0"/><feComponentTransfer result="m"><feFuncA type="linear" slope="12" intercept="0"/></feComponentTransfer><feFlood flood-color="#FFFFFF"/><feComposite operator="in" in2="m"/></filter>
<mask id="mb_pla" maskUnits="userSpaceOnUse" x="1101" y="212" width="230" height="148"><g filter="url(#fb1)"><use href="#c_pla" transform="matrix(0.891 0 0 0.798 779.6 -559.8)"/></g></mask>
<filter id="fb2" x="-5%" y="-5%" width="110%" height="110%" color-interpolation-filters="sRGB"><feGaussianBlur in="SourceAlpha" stdDeviation="0.5" result="b"/><feTurbulence type="fractalNoise" baseFrequency="1.3" numOctaves="1" seed="17" result="n"/><feColorMatrix in="n" type="matrix" values="0 0 0 0 0 0 0 0 0 0 0 0 0 0 0 1 0 0 0 0" result="na"/><feComposite in="b" in2="na" operator="arithmetic" k1="0" k2="0.881" k3="-1" k4="0.0"/><feComponentTransfer result="m"><feFuncA type="linear" slope="12" intercept="0"/></feComponentTransfer><feFlood flood-color="#4A6B92"/><feComposite operator="in" in2="m"/></filter>
<filter id="fb3" x="-5%" y="-5%" width="110%" height="110%" color-interpolation-filters="sRGB"><feGaussianBlur in="SourceAlpha" stdDeviation="0.5" result="b"/><feTurbulence type="fractalNoise" baseFrequency="1.3" numOctaves="1" seed="24" result="n"/><feColorMatrix in="n" type="matrix" values="0 0 0 0 0 0 0 0 0 0 0 0 0 0 0 1 0 0 0 0" result="na"/><feComposite in="b" in2="na" operator="arithmetic" k1="0" k2="0.723" k3="-1" k4="0.0"/><feComponentTransfer result="m"><feFuncA type="linear" slope="12" intercept="0"/></feComponentTransfer><feFlood flood-color="#8B7A2E"/><feComposite operator="in" in2="m"/></filter>
<filter id="fb4" x="-5%" y="-5%" width="110%" height="110%" color-interpolation-filters="sRGB"><feGaussianBlur in="SourceAlpha" stdDeviation="0.5" result="b"/><feTurbulence type="fractalNoise" baseFrequency="1.3" numOctaves="1" seed="31" result="n"/><feColorMatrix in="n" type="matrix" values="0 0 0 0 0 0 0 0 0 0 0 0 0 0 0 1 0 0 0 0" result="na"/><feComposite in="b" in2="na" operator="arithmetic" k1="0" k2="0.687" k3="-1" k4="0.0"/><feComponentTransfer result="m"><feFuncA type="linear" slope="12" intercept="0"/></feComponentTransfer><feFlood flood-color="#A52F2F"/><feComposite operator="in" in2="m"/></filter>
<filter id="fb5" x="-5%" y="-5%" width="110%" height="110%" color-interpolation-filters="sRGB"><feGaussianBlur in="SourceAlpha" stdDeviation="0.5" result="b"/><feTurbulence type="fractalNoise" baseFrequency="1.3" numOctaves="1" seed="38" result="n"/><feColorMatrix in="n" type="matrix" values="0 0 0 0 0 0 0 0 0 0 0 0 0 0 0 1 0 0 0 0" result="na"/><feComposite in="b" in2="na" operator="arithmetic" k1="0" k2="0.913" k3="-1" k4="0.0"/><feComponentTransfer result="m"><feFuncA type="linear" slope="12" intercept="0"/></feComponentTransfer><feFlood flood-color="#3F3F3F"/><feComposite operator="in" in2="m"/></filter>
<filter id="fb6" x="-5%" y="-5%" width="110%" height="110%" color-interpolation-filters="sRGB"><feGaussianBlur in="SourceAlpha" stdDeviation="1.4" result="b"/><feTurbulence type="fractalNoise" baseFrequency="1.3" numOctaves="1" seed="45" result="n"/><feColorMatrix in="n" type="matrix" values="0 0 0 0 0 0 0 0 0 0 0 0 0 0 0 1 0 0 0 0" result="na"/><feComposite in="b" in2="na" operator="arithmetic" k1="0" k2="0.95" k3="-1" k4="0.0"/><feComponentTransfer result="m"><feFuncA type="linear" slope="12" intercept="0"/></feComponentTransfer><feFlood flood-color="#FFFFFF"/><feComposite operator="in" in2="m"/></filter>
<mask id="mb_epi" maskUnits="userSpaceOnUse" x="1077" y="7" width="250" height="199"><g filter="url(#fb6)"><use href="#c_epi" transform="matrix(0.891 0 0 0.798 779.6 -559.8)"/></g></mask>
<filter id="fb7" x="-5%" y="-5%" width="110%" height="110%" color-interpolation-filters="sRGB"><feGaussianBlur in="SourceAlpha" stdDeviation="0.5" result="b"/><feTurbulence type="fractalNoise" baseFrequency="1.3" numOctaves="1" seed="52" result="n"/><feColorMatrix in="n" type="matrix" values="0 0 0 0 0 0 0 0 0 0 0 0 0 0 0 1 0 0 0 0" result="na"/><feComposite in="b" in2="na" operator="arithmetic" k1="0" k2="0.652" k3="-1" k4="0.0"/><feComponentTransfer result="m"><feFuncA type="linear" slope="12" intercept="0"/></feComponentTransfer><feFlood flood-color="#FAD792"/><feComposite operator="in" in2="m"/></filter>
<filter id="fb8" x="-5%" y="-5%" width="110%" height="110%" color-interpolation-filters="sRGB"><feGaussianBlur in="SourceAlpha" stdDeviation="0.5" result="b"/><feTurbulence type="fractalNoise" baseFrequency="1.3" numOctaves="1" seed="59" result="n"/><feColorMatrix in="n" type="matrix" values="0 0 0 0 0 0 0 0 0 0 0 0 0 0 0 1 0 0 0 0" result="na"/><feComposite in="b" in2="na" operator="arithmetic" k1="0" k2="0.91" k3="-1" k4="0.0"/><feComponentTransfer result="m"><feFuncA type="linear" slope="12" intercept="0"/></feComponentTransfer><feFlood flood-color="#1A6DB5"/><feComposite operator="in" in2="m"/></filter>
<filter id="fb9" x="-5%" y="-5%" width="110%" height="110%" color-interpolation-filters="sRGB"><feGaussianBlur in="SourceAlpha" stdDeviation="0.5" result="b"/><feTurbulence type="fractalNoise" baseFrequency="1.3" numOctaves="1" seed="66" result="n"/><feColorMatrix in="n" type="matrix" values="0 0 0 0 0 0 0 0 0 0 0 0 0 0 0 1 0 0 0 0" result="na"/><feComposite in="b" in2="na" operator="arithmetic" k1="0" k2="0.796" k3="-1" k4="0.0"/><feComponentTransfer result="m"><feFuncA type="linear" slope="12" intercept="0"/></feComponentTransfer><feFlood flood-color="#B8392B"/><feComposite operator="in" in2="m"/></filter>
<filter id="fb10" x="-5%" y="-5%" width="110%" height="110%" color-interpolation-filters="sRGB"><feGaussianBlur in="SourceAlpha" stdDeviation="0.5" result="b"/><feTurbulence type="fractalNoise" baseFrequency="1.3" numOctaves="1" seed="73" result="n"/><feColorMatrix in="n" type="matrix" values="0 0 0 0 0 0 0 0 0 0 0 0 0 0 0 1 0 0 0 0" result="na"/><feComposite in="b" in2="na" operator="arithmetic" k1="0" k2="0.566" k3="-1" k4="0.0"/><feComponentTransfer result="m"><feFuncA type="linear" slope="12" intercept="0"/></feComponentTransfer><feFlood flood-color="#3F3F3F"/><feComposite operator="in" in2="m"/></filter>
<filter id="fb11" x="-5%" y="-5%" width="110%" height="110%" color-interpolation-filters="sRGB"><feGaussianBlur in="SourceAlpha" stdDeviation="0.5" result="b"/><feTurbulence type="fractalNoise" baseFrequency="1.3" numOctaves="1" seed="80" result="n"/><feColorMatrix in="n" type="matrix" values="0 0 0 0 0 0 0 0 0 0 0 0 0 0 0 1 0 0 0 0" result="na"/><feComposite in="b" in2="na" operator="arithmetic" k1="0" k2="0.598" k3="-1" k4="0.0"/><feComponentTransfer result="m"><feFuncA type="linear" slope="12" intercept="0"/></feComponentTransfer><feFlood flood-color="#0B3966"/><feComposite operator="in" in2="m"/></filter>
<filter id="fb12" x="-5%" y="-5%" width="110%" height="110%" color-interpolation-filters="sRGB"><feGaussianBlur in="SourceAlpha" stdDeviation="1.4" result="b"/><feTurbulence type="fractalNoise" baseFrequency="1.3" numOctaves="1" seed="87" result="n"/><feColorMatrix in="n" type="matrix" values="0 0 0 0 0 0 0 0 0 0 0 0 0 0 0 1 0 0 0 0" result="na"/><feComposite in="b" in2="na" operator="arithmetic" k1="0" k2="0.97" k3="-1" k4="0.0"/><feComponentTransfer result="m"><feFuncA type="linear" slope="12" intercept="0"/></feComponentTransfer><feFlood flood-color="#FFFFFF"/><feComposite operator="in" in2="m"/></filter>
<mask id="mb_mye" maskUnits="userSpaceOnUse" x="1388" y="66" width="175" height="85"><g filter="url(#fb12)"><use href="#c_mye" transform="matrix(0.891 0 0 0.798 779.6 -559.8)"/></g></mask>
<filter id="fb13" x="-5%" y="-5%" width="110%" height="110%" color-interpolation-filters="sRGB"><feGaussianBlur in="SourceAlpha" stdDeviation="0.5" result="b"/><feTurbulence type="fractalNoise" baseFrequency="1.3" numOctaves="1" seed="94" result="n"/><feColorMatrix in="n" type="matrix" values="0 0 0 0 0 0 0 0 0 0 0 0 0 0 0 1 0 0 0 0" result="na"/><feComposite in="b" in2="na" operator="arithmetic" k1="0" k2="1.024" k3="-1" k4="0.0"/><feComponentTransfer result="m"><feFuncA type="linear" slope="12" intercept="0"/></feComponentTransfer><feFlood flood-color="#8B7A2E"/><feComposite operator="in" in2="m"/></filter>
<filter id="fb14" x="-5%" y="-5%" width="110%" height="110%" color-interpolation-filters="sRGB"><feGaussianBlur in="SourceAlpha" stdDeviation="0.5" result="b"/><feTurbulence type="fractalNoise" baseFrequency="1.3" numOctaves="1" seed="101" result="n"/><feColorMatrix in="n" type="matrix" values="0 0 0 0 0 0 0 0 0 0 0 0 0 0 0 1 0 0 0 0" result="na"/><feComposite in="b" in2="na" operator="arithmetic" k1="0" k2="0.726" k3="-1" k4="0.0"/><feComponentTransfer result="m"><feFuncA type="linear" slope="12" intercept="0"/></feComponentTransfer><feFlood flood-color="#1A6DB5"/><feComposite operator="in" in2="m"/></filter>
<filter id="fb15" x="-5%" y="-5%" width="110%" height="110%" color-interpolation-filters="sRGB"><feGaussianBlur in="SourceAlpha" stdDeviation="0.5" result="b"/><feTurbulence type="fractalNoise" baseFrequency="1.3" numOctaves="1" seed="108" result="n"/><feColorMatrix in="n" type="matrix" values="0 0 0 0 0 0 0 0 0 0 0 0 0 0 0 1 0 0 0 0" result="na"/><feComposite in="b" in2="na" operator="arithmetic" k1="0" k2="0.747" k3="-1" k4="0.0"/><feComponentTransfer result="m"><feFuncA type="linear" slope="12" intercept="0"/></feComponentTransfer><feFlood flood-color="#4A6B92"/><feComposite operator="in" in2="m"/></filter>
<filter id="fb16" x="-5%" y="-5%" width="110%" height="110%" color-interpolation-filters="sRGB"><feGaussianBlur in="SourceAlpha" stdDeviation="0.5" result="b"/><feTurbulence type="fractalNoise" baseFrequency="1.3" numOctaves="1" seed="115" result="n"/><feColorMatrix in="n" type="matrix" values="0 0 0 0 0 0 0 0 0 0 0 0 0 0 0 1 0 0 0 0" result="na"/><feComposite in="b" in2="na" operator="arithmetic" k1="0" k2="0.79" k3="-1" k4="0.0"/><feComponentTransfer result="m"><feFuncA type="linear" slope="12" intercept="0"/></feComponentTransfer><feFlood flood-color="#3F3F3F"/><feComposite operator="in" in2="m"/></filter>
<filter id="fb17" x="-5%" y="-5%" width="110%" height="110%" color-interpolation-filters="sRGB"><feGaussianBlur in="SourceAlpha" stdDeviation="1.4" result="b"/><feTurbulence type="fractalNoise" baseFrequency="1.3" numOctaves="1" seed="122" result="n"/><feColorMatrix in="n" type="matrix" values="0 0 0 0 0 0 0 0 0 0 0 0 0 0 0 1 0 0 0 0" result="na"/><feComposite in="b" in2="na" operator="arithmetic" k1="0" k2="1.0" k3="-1" k4="0.0"/><feComponentTransfer result="m"><feFuncA type="linear" slope="12" intercept="0"/></feComponentTransfer><feFlood flood-color="#FFFFFF"/><feComposite operator="in" in2="m"/></filter>
<mask id="mb_mast" maskUnits="userSpaceOnUse" x="924" y="95" width="59" height="47"><g filter="url(#fb17)"><use href="#c_mast" transform="matrix(0.891 0 0 0.798 779.6 -559.8)"/></g></mask>
<filter id="fb18" x="-5%" y="-5%" width="110%" height="110%" color-interpolation-filters="sRGB"><feGaussianBlur in="SourceAlpha" stdDeviation="0.5" result="b"/><feTurbulence type="fractalNoise" baseFrequency="1.3" numOctaves="1" seed="129" result="n"/><feColorMatrix in="n" type="matrix" values="0 0 0 0 0 0 0 0 0 0 0 0 0 0 0 1 0 0 0 0" result="na"/><feComposite in="b" in2="na" operator="arithmetic" k1="0" k2="0.798" k3="-1" k4="0.0"/><feComponentTransfer result="m"><feFuncA type="linear" slope="12" intercept="0"/></feComponentTransfer><feFlood flood-color="#1A6DB5"/><feComposite operator="in" in2="m"/></filter>
<filter id="fb19" x="-5%" y="-5%" width="110%" height="110%" color-interpolation-filters="sRGB"><feGaussianBlur in="SourceAlpha" stdDeviation="0.5" result="b"/><feTurbulence type="fractalNoise" baseFrequency="1.3" numOctaves="1" seed="136" result="n"/><feColorMatrix in="n" type="matrix" values="0 0 0 0 0 0 0 0 0 0 0 0 0 0 0 1 0 0 0 0" result="na"/><feComposite in="b" in2="na" operator="arithmetic" k1="0" k2="0.805" k3="-1" k4="0.0"/><feComponentTransfer result="m"><feFuncA type="linear" slope="12" intercept="0"/></feComponentTransfer><feFlood flood-color="#3F3F3F"/><feComposite operator="in" in2="m"/></filter>
<filter id="fb20" x="-5%" y="-5%" width="110%" height="110%" color-interpolation-filters="sRGB"><feGaussianBlur in="SourceAlpha" stdDeviation="1.4" result="b"/><feTurbulence type="fractalNoise" baseFrequency="1.3" numOctaves="1" seed="143" result="n"/><feColorMatrix in="n" type="matrix" values="0 0 0 0 0 0 0 0 0 0 0 0 0 0 0 1 0 0 0 0" result="na"/><feComposite in="b" in2="na" operator="arithmetic" k1="0" k2="1.0" k3="-1" k4="0.0"/><feComponentTransfer result="m"><feFuncA type="linear" slope="12" intercept="0"/></feComponentTransfer><feFlood flood-color="#FFFFFF"/><feComposite operator="in" in2="m"/></filter>
<mask id="mb_endo" maskUnits="userSpaceOnUse" x="905" y="200" width="206" height="185"><g filter="url(#fb20)"><use href="#c_endo" transform="matrix(0.891 0 0 0.798 779.6 -559.8)"/></g></mask>
<filter id="fb21" x="-5%" y="-5%" width="110%" height="110%" color-interpolation-filters="sRGB"><feGaussianBlur in="SourceAlpha" stdDeviation="0.5" result="b"/><feTurbulence type="fractalNoise" baseFrequency="1.3" numOctaves="1" seed="150" result="n"/><feColorMatrix in="n" type="matrix" values="0 0 0 0 0 0 0 0 0 0 0 0 0 0 0 1 0 0 0 0" result="na"/><feComposite in="b" in2="na" operator="arithmetic" k1="0" k2="0.861" k3="-1" k4="0.0"/><feComponentTransfer result="m"><feFuncA type="linear" slope="12" intercept="0"/></feComponentTransfer><feFlood flood-color="#A52F2F"/><feComposite operator="in" in2="m"/></filter>
<filter id="fb22" x="-5%" y="-5%" width="110%" height="110%" color-interpolation-filters="sRGB"><feGaussianBlur in="SourceAlpha" stdDeviation="0.5" result="b"/><feTurbulence type="fractalNoise" baseFrequency="1.3" numOctaves="1" seed="157" result="n"/><feColorMatrix in="n" type="matrix" values="0 0 0 0 0 0 0 0 0 0 0 0 0 0 0 1 0 0 0 0" result="na"/><feComposite in="b" in2="na" operator="arithmetic" k1="0" k2="0.853" k3="-1" k4="0.0"/><feComponentTransfer result="m"><feFuncA type="linear" slope="12" intercept="0"/></feComponentTransfer><feFlood flood-color="#3F3F3F"/><feComposite operator="in" in2="m"/></filter>
<filter id="fb23" x="-5%" y="-5%" width="110%" height="110%" color-interpolation-filters="sRGB"><feGaussianBlur in="SourceAlpha" stdDeviation="1.4" result="b"/><feTurbulence type="fractalNoise" baseFrequency="1.3" numOctaves="1" seed="164" result="n"/><feColorMatrix in="n" type="matrix" values="0 0 0 0 0 0 0 0 0 0 0 0 0 0 0 1 0 0 0 0" result="na"/><feComposite in="b" in2="na" operator="arithmetic" k1="0" k2="0.95" k3="-1" k4="0.0"/><feComponentTransfer result="m"><feFuncA type="linear" slope="12" intercept="0"/></feComponentTransfer><feFlood flood-color="#FFFFFF"/><feComposite operator="in" in2="m"/></filter>
<mask id="mb_caf" maskUnits="userSpaceOnUse" x="896" y="334" width="180" height="137"><g filter="url(#fb23)"><use href="#c_caf" transform="matrix(0.891 0 0 0.798 779.6 -559.8)"/></g></mask>
<filter id="fb24" x="-5%" y="-5%" width="110%" height="110%" color-interpolation-filters="sRGB"><feGaussianBlur in="SourceAlpha" stdDeviation="0.5" result="b"/><feTurbulence type="fractalNoise" baseFrequency="1.3" numOctaves="1" seed="171" result="n"/><feColorMatrix in="n" type="matrix" values="0 0 0 0 0 0 0 0 0 0 0 0 0 0 0 1 0 0 0 0" result="na"/><feComposite in="b" in2="na" operator="arithmetic" k1="0" k2="0.913" k3="-1" k4="0.0"/><feComponentTransfer result="m"><feFuncA type="linear" slope="12" intercept="0"/></feComponentTransfer><feFlood flood-color="#8B7A2E"/><feComposite operator="in" in2="m"/></filter>
<filter id="fb25" x="-5%" y="-5%" width="110%" height="110%" color-interpolation-filters="sRGB"><feGaussianBlur in="SourceAlpha" stdDeviation="0.5" result="b"/><feTurbulence type="fractalNoise" baseFrequency="1.3" numOctaves="1" seed="178" result="n"/><feColorMatrix in="n" type="matrix" values="0 0 0 0 0 0 0 0 0 0 0 0 0 0 0 1 0 0 0 0" result="na"/><feComposite in="b" in2="na" operator="arithmetic" k1="0" k2="0.954" k3="-1" k4="0.0"/><feComponentTransfer result="m"><feFuncA type="linear" slope="12" intercept="0"/></feComponentTransfer><feFlood flood-color="#3F3F3F"/><feComposite operator="in" in2="m"/></filter>
<filter id="fb26" x="-5%" y="-5%" width="110%" height="110%" color-interpolation-filters="sRGB"><feGaussianBlur in="SourceAlpha" stdDeviation="0.5" result="b"/><feTurbulence type="fractalNoise" baseFrequency="1.3" numOctaves="1" seed="185" result="n"/><feColorMatrix in="n" type="matrix" values="0 0 0 0 0 0 0 0 0 0 0 0 0 0 0 1 0 0 0 0" result="na"/><feComposite in="b" in2="na" operator="arithmetic" k1="0" k2="0.853" k3="-1" k4="0.0"/><feComponentTransfer result="m"><feFuncA type="linear" slope="12" intercept="0"/></feComponentTransfer><feFlood flood-color="#A52F2F"/><feComposite operator="in" in2="m"/></filter>
<filter id="fb27" x="-5%" y="-5%" width="110%" height="110%" color-interpolation-filters="sRGB"><feGaussianBlur in="SourceAlpha" stdDeviation="1.4" result="b"/><feTurbulence type="fractalNoise" baseFrequency="1.3" numOctaves="1" seed="192" result="n"/><feColorMatrix in="n" type="matrix" values="0 0 0 0 0 0 0 0 0 0 0 0 0 0 0 1 0 0 0 0" result="na"/><feComposite in="b" in2="na" operator="arithmetic" k1="0" k2="0.97" k3="-1" k4="0.0"/><feComponentTransfer result="m"><feFuncA type="linear" slope="12" intercept="0"/></feComponentTransfer><feFlood flood-color="#FFFFFF"/><feComposite operator="in" in2="m"/></filter>
<mask id="mb_b" maskUnits="userSpaceOnUse" x="1282" y="167" width="226" height="151"><g filter="url(#fb27)"><use href="#c_b" transform="matrix(0.891 0 0 0.798 779.6 -559.8)"/></g></mask>
<filter id="fb28" x="-5%" y="-5%" width="110%" height="110%" color-interpolation-filters="sRGB"><feGaussianBlur in="SourceAlpha" stdDeviation="0.5" result="b"/><feTurbulence type="fractalNoise" baseFrequency="1.3" numOctaves="1" seed="199" result="n"/><feColorMatrix in="n" type="matrix" values="0 0 0 0 0 0 0 0 0 0 0 0 0 0 0 1 0 0 0 0" result="na"/><feComposite in="b" in2="na" operator="arithmetic" k1="0" k2="0.744" k3="-1" k4="0.0"/><feComponentTransfer result="m"><feFuncA type="linear" slope="12" intercept="0"/></feComponentTransfer><feFlood flood-color="#8B7A2E"/><feComposite operator="in" in2="m"/></filter>
<filter id="fb29" x="-5%" y="-5%" width="110%" height="110%" color-interpolation-filters="sRGB"><feGaussianBlur in="SourceAlpha" stdDeviation="0.5" result="b"/><feTurbulence type="fractalNoise" baseFrequency="1.3" numOctaves="1" seed="206" result="n"/><feColorMatrix in="n" type="matrix" values="0 0 0 0 0 0 0 0 0 0 0 0 0 0 0 1 0 0 0 0" result="na"/><feComposite in="b" in2="na" operator="arithmetic" k1="0" k2="0.825" k3="-1" k4="0.0"/><feComponentTransfer result="m"><feFuncA type="linear" slope="12" intercept="0"/></feComponentTransfer><feFlood flood-color="#1E8A50"/><feComposite operator="in" in2="m"/></filter>
<filter id="fb30" x="-5%" y="-5%" width="110%" height="110%" color-interpolation-filters="sRGB"><feGaussianBlur in="SourceAlpha" stdDeviation="0.5" result="b"/><feTurbulence type="fractalNoise" baseFrequency="1.3" numOctaves="1" seed="213" result="n"/><feColorMatrix in="n" type="matrix" values="0 0 0 0 0 0 0 0 0 0 0 0 0 0 0 1 0 0 0 0" result="na"/><feComposite in="b" in2="na" operator="arithmetic" k1="0" k2="0.815" k3="-1" k4="0.0"/><feComponentTransfer result="m"><feFuncA type="linear" slope="12" intercept="0"/></feComponentTransfer><feFlood flood-color="#1A6DB5"/><feComposite operator="in" in2="m"/></filter>
<filter id="fb31" x="-5%" y="-5%" width="110%" height="110%" color-interpolation-filters="sRGB"><feGaussianBlur in="SourceAlpha" stdDeviation="0.5" result="b"/><feTurbulence type="fractalNoise" baseFrequency="1.3" numOctaves="1" seed="220" result="n"/><feColorMatrix in="n" type="matrix" values="0 0 0 0 0 0 0 0 0 0 0 0 0 0 0 1 0 0 0 0" result="na"/><feComposite in="b" in2="na" operator="arithmetic" k1="0" k2="0.757" k3="-1" k4="0.0"/><feComponentTransfer result="m"><feFuncA type="linear" slope="12" intercept="0"/></feComponentTransfer><feFlood flood-color="#FAD792"/><feComposite operator="in" in2="m"/></filter>
<filter id="fb32" x="-5%" y="-5%" width="110%" height="110%" color-interpolation-filters="sRGB"><feGaussianBlur in="SourceAlpha" stdDeviation="1.4" result="b"/><feTurbulence type="fractalNoise" baseFrequency="1.3" numOctaves="1" seed="227" result="n"/><feColorMatrix in="n" type="matrix" values="0 0 0 0 0 0 0 0 0 0 0 0 0 0 0 1 0 0 0 0" result="na"/><feComposite in="b" in2="na" operator="arithmetic" k1="0" k2="0.97" k3="-1" k4="0.0"/><feComponentTransfer result="m"><feFuncA type="linear" slope="12" intercept="0"/></feComponentTransfer><feFlood flood-color="#FFFFFF"/><feComposite operator="in" in2="m"/></filter>
<mask id="mb_tnk" maskUnits="userSpaceOnUse" x="1234" y="200" width="186" height="414"><g filter="url(#fb32)"><use href="#c_tnk" transform="matrix(0.891 0 0 0.798 779.6 -559.8)"/></g></mask>
<filter id="fb33" x="-5%" y="-5%" width="110%" height="110%" color-interpolation-filters="sRGB"><feGaussianBlur in="SourceAlpha" stdDeviation="0.5" result="b"/><feTurbulence type="fractalNoise" baseFrequency="1.3" numOctaves="1" seed="234" result="n"/><feColorMatrix in="n" type="matrix" values="0 0 0 0 0 0 0 0 0 0 0 0 0 0 0 1 0 0 0 0" result="na"/><feComposite in="b" in2="na" operator="arithmetic" k1="0" k2="0.853" k3="-1" k4="0.0"/><feComponentTransfer result="m"><feFuncA type="linear" slope="12" intercept="0"/></feComponentTransfer><feFlood flood-color="#8B7A2E"/><feComposite operator="in" in2="m"/></filter>
<filter id="fb34" x="-5%" y="-5%" width="110%" height="110%" color-interpolation-filters="sRGB"><feGaussianBlur in="SourceAlpha" stdDeviation="0.5" result="b"/><feTurbulence type="fractalNoise" baseFrequency="1.3" numOctaves="1" seed="241" result="n"/><feColorMatrix in="n" type="matrix" values="0 0 0 0 0 0 0 0 0 0 0 0 0 0 0 1 0 0 0 0" result="na"/><feComposite in="b" in2="na" operator="arithmetic" k1="0" k2="0.798" k3="-1" k4="0.0"/><feComponentTransfer result="m"><feFuncA type="linear" slope="12" intercept="0"/></feComponentTransfer><feFlood flood-color="#1A6DB5"/><feComposite operator="in" in2="m"/></filter>
<filter id="fb35" x="-5%" y="-5%" width="110%" height="110%" color-interpolation-filters="sRGB"><feGaussianBlur in="SourceAlpha" stdDeviation="0.5" result="b"/><feTurbulence type="fractalNoise" baseFrequency="1.3" numOctaves="1" seed="248" result="n"/><feColorMatrix in="n" type="matrix" values="0 0 0 0 0 0 0 0 0 0 0 0 0 0 0 1 0 0 0 0" result="na"/><feComposite in="b" in2="na" operator="arithmetic" k1="0" k2="0.718" k3="-1" k4="0.0"/><feComponentTransfer result="m"><feFuncA type="linear" slope="12" intercept="0"/></feComponentTransfer><feFlood flood-color="#A52F2F"/><feComposite operator="in" in2="m"/></filter>
<filter id="fb36" x="-5%" y="-5%" width="110%" height="110%" color-interpolation-filters="sRGB"><feGaussianBlur in="SourceAlpha" stdDeviation="0.5" result="b"/><feTurbulence type="fractalNoise" baseFrequency="1.3" numOctaves="1" seed="255" result="n"/><feColorMatrix in="n" type="matrix" values="0 0 0 0 0 0 0 0 0 0 0 0 0 0 0 1 0 0 0 0" result="na"/><feComposite in="b" in2="na" operator="arithmetic" k1="0" k2="0.615" k3="-1" k4="0.0"/><feComponentTransfer result="m"><feFuncA type="linear" slope="12" intercept="0"/></feComponentTransfer><feFlood flood-color="#3F3F3F"/><feComposite operator="in" in2="m"/></filter>
<filter id="fb37" x="-5%" y="-5%" width="110%" height="110%" color-interpolation-filters="sRGB"><feGaussianBlur in="SourceAlpha" stdDeviation="0.5" result="b"/><feTurbulence type="fractalNoise" baseFrequency="1.3" numOctaves="1" seed="262" result="n"/><feColorMatrix in="n" type="matrix" values="0 0 0 0 0 0 0 0 0 0 0 0 0 0 0 1 0 0 0 0" result="na"/><feComposite in="b" in2="na" operator="arithmetic" k1="0" k2="0.577" k3="-1" k4="0.0"/><feComponentTransfer result="m"><feFuncA type="linear" slope="12" intercept="0"/></feComponentTransfer><feFlood flood-color="#1E8A50"/><feComposite operator="in" in2="m"/></filter>
<filter id="fb38" x="-5%" y="-5%" width="110%" height="110%" color-interpolation-filters="sRGB"><feGaussianBlur in="SourceAlpha" stdDeviation="0.5" result="b"/><feTurbulence type="fractalNoise" baseFrequency="1.3" numOctaves="1" seed="269" result="n"/><feColorMatrix in="n" type="matrix" values="0 0 0 0 0 0 0 0 0 0 0 0 0 0 0 1 0 0 0 0" result="na"/><feComposite in="b" in2="na" operator="arithmetic" k1="0" k2="0.607" k3="-1" k4="0.0"/><feComponentTransfer result="m"><feFuncA type="linear" slope="12" intercept="0"/></feComponentTransfer><feFlood flood-color="#E8B91E"/><feComposite operator="in" in2="m"/></filter>
<filter id="fb39" x="-5%" y="-5%" width="110%" height="110%" color-interpolation-filters="sRGB"><feGaussianBlur in="SourceAlpha" stdDeviation="0.5" result="b"/><feTurbulence type="fractalNoise" baseFrequency="1.3" numOctaves="1" seed="276" result="n"/><feColorMatrix in="n" type="matrix" values="0 0 0 0 0 0 0 0 0 0 0 0 0 0 0 1 0 0 0 0" result="na"/><feComposite in="b" in2="na" operator="arithmetic" k1="0" k2="0.544" k3="-1" k4="0.0"/><feComponentTransfer result="m"><feFuncA type="linear" slope="12" intercept="0"/></feComponentTransfer><feFlood flood-color="#E0479A"/><feComposite operator="in" in2="m"/></filter>
<filter id="fb40" x="-5%" y="-5%" width="110%" height="110%" color-interpolation-filters="sRGB"><feGaussianBlur in="SourceAlpha" stdDeviation="0.5" result="b"/><feTurbulence type="fractalNoise" baseFrequency="1.3" numOctaves="1" seed="283" result="n"/><feColorMatrix in="n" type="matrix" values="0 0 0 0 0 0 0 0 0 0 0 0 0 0 0 1 0 0 0 0" result="na"/><feComposite in="b" in2="na" operator="arithmetic" k1="0" k2="0.659" k3="-1" k4="0.0"/><feComponentTransfer result="m"><feFuncA type="linear" slope="12" intercept="0"/></feComponentTransfer><feFlood flood-color="#FAD792"/><feComposite operator="in" in2="m"/></filter>
<filter id="fb41" x="-5%" y="-5%" width="110%" height="110%" color-interpolation-filters="sRGB"><feGaussianBlur in="SourceAlpha" stdDeviation="3" result="b"/><feTurbulence type="fractalNoise" baseFrequency="1.3" numOctaves="1" seed="290" result="n"/><feColorMatrix in="n" type="matrix" values="0 0 0 0 0 0 0 0 0 0 0 0 0 0 0 1 0 0 0 0" result="na"/><feComposite in="b" in2="na" operator="arithmetic" k1="0" k2="1.0" k3="-1" k4="0.0"/><feComponentTransfer result="m"><feFuncA type="linear" slope="12" intercept="0"/></feComponentTransfer><feFlood flood-color="#A5301F"/><feComposite operator="in" in2="m"/></filter>
<filter id="fb42" x="-5%" y="-5%" width="110%" height="110%" color-interpolation-filters="sRGB"><feGaussianBlur in="SourceAlpha" stdDeviation="2" result="b"/><feTurbulence type="fractalNoise" baseFrequency="1.3" numOctaves="1" seed="297" result="n"/><feColorMatrix in="n" type="matrix" values="0 0 0 0 0 0 0 0 0 0 0 0 0 0 0 1 0 0 0 0" result="na"/><feComposite in="b" in2="na" operator="arithmetic" k1="0" k2="1.0" k3="-1" k4="0.0"/><feComponentTransfer result="m"><feFuncA type="linear" slope="12" intercept="0"/></feComponentTransfer><feFlood flood-color="#A5301F"/><feComposite operator="in" in2="m"/></filter>
<filter id="fb43" x="-5%" y="-5%" width="110%" height="110%" color-interpolation-filters="sRGB"><feGaussianBlur in="SourceAlpha" stdDeviation="0.8" result="b"/><feTurbulence type="fractalNoise" baseFrequency="1.3" numOctaves="1" seed="304" result="n"/><feColorMatrix in="n" type="matrix" values="0 0 0 0 0 0 0 0 0 0 0 0 0 0 0 1 0 0 0 0" result="na"/><feComposite in="b" in2="na" operator="arithmetic" k1="0" k2="1.0" k3="-1" k4="0.0"/><feComponentTransfer result="m"><feFuncA type="linear" slope="12" intercept="0"/></feComponentTransfer><feFlood flood-color="#A5301F"/><feComposite operator="in" in2="m"/></filter>
<filter id="fb44" x="-5%" y="-5%" width="110%" height="110%" color-interpolation-filters="sRGB"><feGaussianBlur in="SourceAlpha" stdDeviation="2" result="b"/><feTurbulence type="fractalNoise" baseFrequency="1.3" numOctaves="1" seed="311" result="n"/><feColorMatrix in="n" type="matrix" values="0 0 0 0 0 0 0 0 0 0 0 0 0 0 0 1 0 0 0 0" result="na"/><feComposite in="b" in2="na" operator="arithmetic" k1="0" k2="1.0" k3="-1" k4="0.0"/><feComponentTransfer result="m"><feFuncA type="linear" slope="12" intercept="0"/></feComponentTransfer><feFlood flood-color="#1F6FAE"/><feComposite operator="in" in2="m"/></filter>
<filter id="fb45" x="-5%" y="-5%" width="110%" height="110%" color-interpolation-filters="sRGB"><feGaussianBlur in="SourceAlpha" stdDeviation="1.6" result="b"/><feTurbulence type="fractalNoise" baseFrequency="1.3" numOctaves="1" seed="318" result="n"/><feColorMatrix in="n" type="matrix" values="0 0 0 0 0 0 0 0 0 0 0 0 0 0 0 1 0 0 0 0" result="na"/><feComposite in="b" in2="na" operator="arithmetic" k1="0" k2="1.0" k3="-1" k4="0.0"/><feComponentTransfer result="m"><feFuncA type="linear" slope="12" intercept="0"/></feComponentTransfer><feFlood flood-color="#3a3a3a"/><feComposite operator="in" in2="m"/></filter>
<filter id="fb46" x="-5%" y="-5%" width="110%" height="110%" color-interpolation-filters="sRGB"><feGaussianBlur in="SourceAlpha" stdDeviation="2" result="b"/><feTurbulence type="fractalNoise" baseFrequency="1.3" numOctaves="1" seed="325" result="n"/><feColorMatrix in="n" type="matrix" values="0 0 0 0 0 0 0 0 0 0 0 0 0 0 0 1 0 0 0 0" result="na"/><feComposite in="b" in2="na" operator="arithmetic" k1="0" k2="1.0" k3="-1" k4="0.0"/><feComponentTransfer result="m"><feFuncA type="linear" slope="12" intercept="0"/></feComponentTransfer><feFlood flood-color="#0B3966"/><feComposite operator="in" in2="m"/></filter>
<filter id="fb47" x="-5%" y="-5%" width="110%" height="110%" color-interpolation-filters="sRGB"><feGaussianBlur in="SourceAlpha" stdDeviation="1.3" result="b"/><feTurbulence type="fractalNoise" baseFrequency="1.3" numOctaves="1" seed="332" result="n"/><feColorMatrix in="n" type="matrix" values="0 0 0 0 0 0 0 0 0 0 0 0 0 0 0 1 0 0 0 0" result="na"/><feComposite in="b" in2="na" operator="arithmetic" k1="0" k2="1.0" k3="-1" k4="0.0"/><feComponentTransfer result="m"><feFuncA type="linear" slope="12" intercept="0"/></feComponentTransfer><feFlood flood-color="#FAD792"/><feComposite operator="in" in2="m"/></filter>
<filter id="fb48" x="-5%" y="-5%" width="110%" height="110%" color-interpolation-filters="sRGB"><feGaussianBlur in="SourceAlpha" stdDeviation="1.3" result="b"/><feTurbulence type="fractalNoise" baseFrequency="1.3" numOctaves="1" seed="339" result="n"/><feColorMatrix in="n" type="matrix" values="0 0 0 0 0 0 0 0 0 0 0 0 0 0 0 1 0 0 0 0" result="na"/><feComposite in="b" in2="na" operator="arithmetic" k1="0" k2="1.0" k3="-1" k4="0.0"/><feComponentTransfer result="m"><feFuncA type="linear" slope="12" intercept="0"/></feComponentTransfer><feFlood flood-color="#FAD792"/><feComposite operator="in" in2="m"/></filter>
<filter id="fb49" x="-5%" y="-5%" width="110%" height="110%" color-interpolation-filters="sRGB"><feGaussianBlur in="SourceAlpha" stdDeviation="2" result="b"/><feTurbulence type="fractalNoise" baseFrequency="1.3" numOctaves="1" seed="346" result="n"/><feColorMatrix in="n" type="matrix" values="0 0 0 0 0 0 0 0 0 0 0 0 0 0 0 1 0 0 0 0" result="na"/><feComposite in="b" in2="na" operator="arithmetic" k1="0" k2="1.0" k3="-1" k4="0.0"/><feComponentTransfer result="m"><feFuncA type="linear" slope="12" intercept="0"/></feComponentTransfer><feFlood flood-color="#FAD792"/><feComposite operator="in" in2="m"/></filter>
<filter id="fb50" x="-5%" y="-5%" width="110%" height="110%" color-interpolation-filters="sRGB"><feGaussianBlur in="SourceAlpha" stdDeviation="1.3" result="b"/><feTurbulence type="fractalNoise" baseFrequency="1.3" numOctaves="1" seed="353" result="n"/><feColorMatrix in="n" type="matrix" values="0 0 0 0 0 0 0 0 0 0 0 0 0 0 0 1 0 0 0 0" result="na"/><feComposite in="b" in2="na" operator="arithmetic" k1="0" k2="1.0" k3="-1" k4="0.0"/><feComponentTransfer result="m"><feFuncA type="linear" slope="12" intercept="0"/></feComponentTransfer><feFlood flood-color="#FAD792"/><feComposite operator="in" in2="m"/></filter>
<filter id="fb51" x="-5%" y="-5%" width="110%" height="110%" color-interpolation-filters="sRGB"><feGaussianBlur in="SourceAlpha" stdDeviation="1.3" result="b"/><feTurbulence type="fractalNoise" baseFrequency="1.3" numOctaves="1" seed="360" result="n"/><feColorMatrix in="n" type="matrix" values="0 0 0 0 0 0 0 0 0 0 0 0 0 0 0 1 0 0 0 0" result="na"/><feComposite in="b" in2="na" operator="arithmetic" k1="0" k2="1.0" k3="-1" k4="0.0"/><feComponentTransfer result="m"><feFuncA type="linear" slope="12" intercept="0"/></feComponentTransfer><feFlood flood-color="#A52F2F"/><feComposite operator="in" in2="m"/></filter>
<filter id="fb52" x="-5%" y="-5%" width="110%" height="110%" color-interpolation-filters="sRGB"><feGaussianBlur in="SourceAlpha" stdDeviation="2" result="b"/><feTurbulence type="fractalNoise" baseFrequency="1.3" numOctaves="1" seed="367" result="n"/><feColorMatrix in="n" type="matrix" values="0 0 0 0 0 0 0 0 0 0 0 0 0 0 0 1 0 0 0 0" result="na"/><feComposite in="b" in2="na" operator="arithmetic" k1="0" k2="1.0" k3="-1" k4="0.0"/><feComponentTransfer result="m"><feFuncA type="linear" slope="12" intercept="0"/></feComponentTransfer><feFlood flood-color="#A5301F"/><feComposite operator="in" in2="m"/></filter>
<filter id="fb53" x="-5%" y="-5%" width="110%" height="110%" color-interpolation-filters="sRGB"><feGaussianBlur in="SourceAlpha" stdDeviation="2" result="b"/><feTurbulence type="fractalNoise" baseFrequency="1.3" numOctaves="1" seed="374" result="n"/><feColorMatrix in="n" type="matrix" values="0 0 0 0 0 0 0 0 0 0 0 0 0 0 0 1 0 0 0 0" result="na"/><feComposite in="b" in2="na" operator="arithmetic" k1="0" k2="1.0" k3="-1" k4="0.0"/><feComponentTransfer result="m"><feFuncA type="linear" slope="12" intercept="0"/></feComponentTransfer><feFlood flood-color="#A5301F"/><feComposite operator="in" in2="m"/></filter>
<filter id="fb54" x="-5%" y="-5%" width="110%" height="110%" color-interpolation-filters="sRGB"><feGaussianBlur in="SourceAlpha" stdDeviation="2" result="b"/><feTurbulence type="fractalNoise" baseFrequency="1.3" numOctaves="1" seed="381" result="n"/><feColorMatrix in="n" type="matrix" values="0 0 0 0 0 0 0 0 0 0 0 0 0 0 0 1 0 0 0 0" result="na"/><feComposite in="b" in2="na" operator="arithmetic" k1="0" k2="1.0" k3="-1" k4="0.0"/><feComponentTransfer result="m"><feFuncA type="linear" slope="12" intercept="0"/></feComponentTransfer><feFlood flood-color="#A5301F"/><feComposite operator="in" in2="m"/></filter>
<filter id="fb55" x="-5%" y="-5%" width="110%" height="110%" color-interpolation-filters="sRGB"><feGaussianBlur in="SourceAlpha" stdDeviation="2" result="b"/><feTurbulence type="fractalNoise" baseFrequency="1.3" numOctaves="1" seed="388" result="n"/><feColorMatrix in="n" type="matrix" values="0 0 0 0 0 0 0 0 0 0 0 0 0 0 0 1 0 0 0 0" result="na"/><feComposite in="b" in2="na" operator="arithmetic" k1="0" k2="1.0" k3="-1" k4="0.0"/><feComponentTransfer result="m"><feFuncA type="linear" slope="12" intercept="0"/></feComponentTransfer><feFlood flood-color="#A5301F"/><feComposite operator="in" in2="m"/></filter>
<filter id="fb56" x="-5%" y="-5%" width="110%" height="110%" color-interpolation-filters="sRGB"><feGaussianBlur in="SourceAlpha" stdDeviation="2" result="b"/><feTurbulence type="fractalNoise" baseFrequency="1.3" numOctaves="1" seed="395" result="n"/><feColorMatrix in="n" type="matrix" values="0 0 0 0 0 0 0 0 0 0 0 0 0 0 0 1 0 0 0 0" result="na"/><feComposite in="b" in2="na" operator="arithmetic" k1="0" k2="1.0" k3="-1" k4="0.0"/><feComponentTransfer result="m"><feFuncA type="linear" slope="12" intercept="0"/></feComponentTransfer><feFlood flood-color="#A5301F"/><feComposite operator="in" in2="m"/></filter>
<filter id="fb57" x="-5%" y="-5%" width="110%" height="110%" color-interpolation-filters="sRGB"><feGaussianBlur in="SourceAlpha" stdDeviation="2" result="b"/><feTurbulence type="fractalNoise" baseFrequency="1.3" numOctaves="1" seed="402" result="n"/><feColorMatrix in="n" type="matrix" values="0 0 0 0 0 0 0 0 0 0 0 0 0 0 0 1 0 0 0 0" result="na"/><feComposite in="b" in2="na" operator="arithmetic" k1="0" k2="1.0" k3="-1" k4="0.0"/><feComponentTransfer result="m"><feFuncA type="linear" slope="12" intercept="0"/></feComponentTransfer><feFlood flood-color="#A5301F"/><feComposite operator="in" in2="m"/></filter>
<filter id="fb58" x="-5%" y="-5%" width="110%" height="110%" color-interpolation-filters="sRGB"><feGaussianBlur in="SourceAlpha" stdDeviation="2.5" result="b"/><feTurbulence type="fractalNoise" baseFrequency="1.3" numOctaves="1" seed="409" result="n"/><feColorMatrix in="n" type="matrix" values="0 0 0 0 0 0 0 0 0 0 0 0 0 0 0 1 0 0 0 0" result="na"/><feComposite in="b" in2="na" operator="arithmetic" k1="0" k2="1.0" k3="-1" k4="0.0"/><feComponentTransfer result="m"><feFuncA type="linear" slope="12" intercept="0"/></feComponentTransfer><feFlood flood-color="#3F3F3F"/><feComposite operator="in" in2="m"/></filter>
<filter id="fb59" x="-5%" y="-5%" width="110%" height="110%" color-interpolation-filters="sRGB"><feGaussianBlur in="SourceAlpha" stdDeviation="2.5" result="b"/><feTurbulence type="fractalNoise" baseFrequency="1.3" numOctaves="1" seed="416" result="n"/><feColorMatrix in="n" type="matrix" values="0 0 0 0 0 0 0 0 0 0 0 0 0 0 0 1 0 0 0 0" result="na"/><feComposite in="b" in2="na" operator="arithmetic" k1="0" k2="1.0" k3="-1" k4="0.0"/><feComponentTransfer result="m"><feFuncA type="linear" slope="12" intercept="0"/></feComponentTransfer><feFlood flood-color="#3F3F3F"/><feComposite operator="in" in2="m"/></filter>
<filter id="fc_pla" x="-5%" y="-5%" width="110%" height="110%" color-interpolation-filters="sRGB"><feGaussianBlur in="SourceAlpha" stdDeviation="1.6" result="b"/><feTurbulence type="fractalNoise" baseFrequency="1.3" numOctaves="1" seed="11" result="n"/><feColorMatrix in="n" type="matrix" values="0 0 0 0 0 0 0 0 0 0 0 0 0 0 0 1 0 0 0 0" result="na"/><feComposite in="b" in2="na" operator="arithmetic" k1="0" k2="1.0" k3="-1" k4="0.0"/><feComponentTransfer result="m"><feFuncA type="linear" slope="12" intercept="0"/></feComponentTransfer><feFlood flood-color="#8ECDBE"/><feComposite operator="in" in2="m"/></filter>
<filter id="fc_epi" x="-5%" y="-5%" width="110%" height="110%" color-interpolation-filters="sRGB"><feGaussianBlur in="SourceAlpha" stdDeviation="1.6" result="b"/><feTurbulence type="fractalNoise" baseFrequency="1.3" numOctaves="1" seed="14" result="n"/><feColorMatrix in="n" type="matrix" values="0 0 0 0 0 0 0 0 0 0 0 0 0 0 0 1 0 0 0 0" result="na"/><feComposite in="b" in2="na" operator="arithmetic" k1="0" k2="1.0" k3="-1" k4="0.0"/><feComponentTransfer result="m"><feFuncA type="linear" slope="12" intercept="0"/></feComponentTransfer><feFlood flood-color="#3C5488"/><feComposite operator="in" in2="m"/></filter>
<filter id="fc_mye" x="-5%" y="-5%" width="110%" height="110%" color-interpolation-filters="sRGB"><feGaussianBlur in="SourceAlpha" stdDeviation="1.6" result="b"/><feTurbulence type="fractalNoise" baseFrequency="1.3" numOctaves="1" seed="17" result="n"/><feColorMatrix in="n" type="matrix" values="0 0 0 0 0 0 0 0 0 0 0 0 0 0 0 1 0 0 0 0" result="na"/><feComposite in="b" in2="na" operator="arithmetic" k1="0" k2="1.0" k3="-1" k4="0.0"/><feComponentTransfer result="m"><feFuncA type="linear" slope="12" intercept="0"/></feComponentTransfer><feFlood flood-color="#8491B4"/><feComposite operator="in" in2="m"/></filter>
<filter id="fc_mast" x="-5%" y="-5%" width="110%" height="110%" color-interpolation-filters="sRGB"><feGaussianBlur in="SourceAlpha" stdDeviation="1.6" result="b"/><feTurbulence type="fractalNoise" baseFrequency="1.3" numOctaves="1" seed="20" result="n"/><feColorMatrix in="n" type="matrix" values="0 0 0 0 0 0 0 0 0 0 0 0 0 0 0 1 0 0 0 0" result="na"/><feComposite in="b" in2="na" operator="arithmetic" k1="0" k2="1.0" k3="-1" k4="0.0"/><feComponentTransfer result="m"><feFuncA type="linear" slope="12" intercept="0"/></feComponentTransfer><feFlood flood-color="#EF9A7E"/><feComposite operator="in" in2="m"/></filter>
<filter id="fc_endo" x="-5%" y="-5%" width="110%" height="110%" color-interpolation-filters="sRGB"><feGaussianBlur in="SourceAlpha" stdDeviation="1.6" result="b"/><feTurbulence type="fractalNoise" baseFrequency="1.3" numOctaves="1" seed="23" result="n"/><feColorMatrix in="n" type="matrix" values="0 0 0 0 0 0 0 0 0 0 0 0 0 0 0 1 0 0 0 0" result="na"/><feComposite in="b" in2="na" operator="arithmetic" k1="0" k2="1.0" k3="-1" k4="0.0"/><feComponentTransfer result="m"><feFuncA type="linear" slope="12" intercept="0"/></feComponentTransfer><feFlood flood-color="#1C9C82"/><feComposite operator="in" in2="m"/></filter>
<filter id="fc_caf" x="-5%" y="-5%" width="110%" height="110%" color-interpolation-filters="sRGB"><feGaussianBlur in="SourceAlpha" stdDeviation="1.6" result="b"/><feTurbulence type="fractalNoise" baseFrequency="1.3" numOctaves="1" seed="26" result="n"/><feColorMatrix in="n" type="matrix" values="0 0 0 0 0 0 0 0 0 0 0 0 0 0 0 1 0 0 0 0" result="na"/><feComposite in="b" in2="na" operator="arithmetic" k1="0" k2="1.0" k3="-1" k4="0.0"/><feComponentTransfer result="m"><feFuncA type="linear" slope="12" intercept="0"/></feComponentTransfer><feFlood flood-color="#47B4CF"/><feComposite operator="in" in2="m"/></filter>
<filter id="fc_b" x="-5%" y="-5%" width="110%" height="110%" color-interpolation-filters="sRGB"><feGaussianBlur in="SourceAlpha" stdDeviation="1.6" result="b"/><feTurbulence type="fractalNoise" baseFrequency="1.3" numOctaves="1" seed="29" result="n"/><feColorMatrix in="n" type="matrix" values="0 0 0 0 0 0 0 0 0 0 0 0 0 0 0 1 0 0 0 0" result="na"/><feComposite in="b" in2="na" operator="arithmetic" k1="0" k2="1.0" k3="-1" k4="0.0"/><feComponentTransfer result="m"><feFuncA type="linear" slope="12" intercept="0"/></feComponentTransfer><feFlood flood-color="#E14B35"/><feComposite operator="in" in2="m"/></filter>
<filter id="fc_tnk" x="-5%" y="-5%" width="110%" height="110%" color-interpolation-filters="sRGB"><feGaussianBlur in="SourceAlpha" stdDeviation="1.6" result="b"/><feTurbulence type="fractalNoise" baseFrequency="1.3" numOctaves="1" seed="32" result="n"/><feColorMatrix in="n" type="matrix" values="0 0 0 0 0 0 0 0 0 0 0 0 0 0 0 1 0 0 0 0" result="na"/><feComposite in="b" in2="na" operator="arithmetic" k1="0" k2="1.0" k3="-1" k4="0.0"/><feComponentTransfer result="m"><feFuncA type="linear" slope="12" intercept="0"/></feComponentTransfer><feFlood flood-color="#D2141E"/><feComposite operator="in" in2="m"/></filter>
<filter id="fa_pla" x="-5%" y="-5%" width="110%" height="110%" color-interpolation-filters="sRGB"><feGaussianBlur in="SourceAlpha" stdDeviation="1.0" result="b"/><feTurbulence type="fractalNoise" baseFrequency="1.3" numOctaves="1" seed="31" result="n"/><feColorMatrix in="n" type="matrix" values="0 0 0 0 0 0 0 0 0 0 0 0 0 0 0 1 0 0 0 0" result="na"/><feComposite in="b" in2="na" operator="arithmetic" k1="0" k2="1.08" k3="-1" k4="0.0"/><feComponentTransfer result="m"><feFuncA type="linear" slope="12" intercept="0"/></feComponentTransfer><feFlood flood-color="#7CB79E"/><feComposite operator="in" in2="m"/></filter>
<filter id="fa_epi" x="-5%" y="-5%" width="110%" height="110%" color-interpolation-filters="sRGB"><feGaussianBlur in="SourceAlpha" stdDeviation="1.0" result="b"/><feTurbulence type="fractalNoise" baseFrequency="1.3" numOctaves="1" seed="36" result="n"/><feColorMatrix in="n" type="matrix" values="0 0 0 0 0 0 0 0 0 0 0 0 0 0 0 1 0 0 0 0" result="na"/><feComposite in="b" in2="na" operator="arithmetic" k1="0" k2="0.97" k3="-1" k4="0.0"/><feComponentTransfer result="m"><feFuncA type="linear" slope="12" intercept="0"/></feComponentTransfer><feFlood flood-color="#7CB79E"/><feComposite operator="in" in2="m"/></filter>
<filter id="fa_mye" x="-5%" y="-5%" width="110%" height="110%" color-interpolation-filters="sRGB"><feGaussianBlur in="SourceAlpha" stdDeviation="1.0" result="b"/><feTurbulence type="fractalNoise" baseFrequency="1.3" numOctaves="1" seed="41" result="n"/><feColorMatrix in="n" type="matrix" values="0 0 0 0 0 0 0 0 0 0 0 0 0 0 0 1 0 0 0 0" result="na"/><feComposite in="b" in2="na" operator="arithmetic" k1="0" k2="1.3" k3="-1" k4="0.0"/><feComponentTransfer result="m"><feFuncA type="linear" slope="12" intercept="0"/></feComponentTransfer><feFlood flood-color="#7CB79E"/><feComposite operator="in" in2="m"/></filter>
<filter id="fa_mast" x="-5%" y="-5%" width="110%" height="110%" color-interpolation-filters="sRGB"><feGaussianBlur in="SourceAlpha" stdDeviation="1.0" result="b"/><feTurbulence type="fractalNoise" baseFrequency="1.3" numOctaves="1" seed="46" result="n"/><feColorMatrix in="n" type="matrix" values="0 0 0 0 0 0 0 0 0 0 0 0 0 0 0 1 0 0 0 0" result="na"/><feComposite in="b" in2="na" operator="arithmetic" k1="0" k2="0.9" k3="-1" k4="0.0"/><feComponentTransfer result="m"><feFuncA type="linear" slope="12" intercept="0"/></feComponentTransfer><feFlood flood-color="#7CB79E"/><feComposite operator="in" in2="m"/></filter>
<filter id="fa_endo" x="-5%" y="-5%" width="110%" height="110%" color-interpolation-filters="sRGB"><feGaussianBlur in="SourceAlpha" stdDeviation="1.0" result="b"/><feTurbulence type="fractalNoise" baseFrequency="1.3" numOctaves="1" seed="51" result="n"/><feColorMatrix in="n" type="matrix" values="0 0 0 0 0 0 0 0 0 0 0 0 0 0 0 1 0 0 0 0" result="na"/><feComposite in="b" in2="na" operator="arithmetic" k1="0" k2="0.95" k3="-1" k4="0.0"/><feComponentTransfer result="m"><feFuncA type="linear" slope="12" intercept="0"/></feComponentTransfer><feFlood flood-color="#7CB79E"/><feComposite operator="in" in2="m"/></filter>
<filter id="fa_caf" x="-5%" y="-5%" width="110%" height="110%" color-interpolation-filters="sRGB"><feGaussianBlur in="SourceAlpha" stdDeviation="1.0" result="b"/><feTurbulence type="fractalNoise" baseFrequency="1.3" numOctaves="1" seed="56" result="n"/><feColorMatrix in="n" type="matrix" values="0 0 0 0 0 0 0 0 0 0 0 0 0 0 0 1 0 0 0 0" result="na"/><feComposite in="b" in2="na" operator="arithmetic" k1="0" k2="1.05" k3="-1" k4="0.0"/><feComponentTransfer result="m"><feFuncA type="linear" slope="12" intercept="0"/></feComponentTransfer><feFlood flood-color="#7CB79E"/><feComposite operator="in" in2="m"/></filter>
<filter id="fa_b" x="-5%" y="-5%" width="110%" height="110%" color-interpolation-filters="sRGB"><feGaussianBlur in="SourceAlpha" stdDeviation="1.0" result="b"/><feTurbulence type="fractalNoise" baseFrequency="1.3" numOctaves="1" seed="61" result="n"/><feColorMatrix in="n" type="matrix" values="0 0 0 0 0 0 0 0 0 0 0 0 0 0 0 1 0 0 0 0" result="na"/><feComposite in="b" in2="na" operator="arithmetic" k1="0" k2="0.78" k3="-1" k4="0.0"/><feComponentTransfer result="m"><feFuncA type="linear" slope="12" intercept="0"/></feComponentTransfer><feFlood flood-color="#7CB79E"/><feComposite operator="in" in2="m"/></filter>
<filter id="fa_tnk" x="-5%" y="-5%" width="110%" height="110%" color-interpolation-filters="sRGB"><feGaussianBlur in="SourceAlpha" stdDeviation="1.0" result="b"/><feTurbulence type="fractalNoise" baseFrequency="1.3" numOctaves="1" seed="66" result="n"/><feColorMatrix in="n" type="matrix" values="0 0 0 0 0 0 0 0 0 0 0 0 0 0 0 1 0 0 0 0" result="na"/><feComposite in="b" in2="na" operator="arithmetic" k1="0" k2="0.98" k3="-1" k4="0.0"/><feComponentTransfer result="m"><feFuncA type="linear" slope="12" intercept="0"/></feComponentTransfer><feFlood flood-color="#7CB79E"/><feComposite operator="in" in2="m"/></filter>
<filter id="fg_pla" x="-5%" y="-5%" width="110%" height="110%" color-interpolation-filters="sRGB"><feGaussianBlur in="SourceAlpha" stdDeviation="1.0" result="b"/><feTurbulence type="fractalNoise" baseFrequency="1.3" numOctaves="1" seed="31" result="n"/><feColorMatrix in="n" type="matrix" values="0 0 0 0 0 0 0 0 0 0 0 0 0 0 0 1 0 0 0 0" result="na"/><feComposite in="b" in2="na" operator="arithmetic" k1="0" k2="0.62" k3="-1" k4="0.0"/><feComponentTransfer result="m"><feFuncA type="linear" slope="12" intercept="0"/></feComponentTransfer><feFlood flood-color="#6C68A5"/><feComposite operator="in" in2="m"/></filter>
<filter id="fg_epi" x="-5%" y="-5%" width="110%" height="110%" color-interpolation-filters="sRGB"><feGaussianBlur in="SourceAlpha" stdDeviation="1.0" result="b"/><feTurbulence type="fractalNoise" baseFrequency="1.3" numOctaves="1" seed="36" result="n"/><feColorMatrix in="n" type="matrix" values="0 0 0 0 0 0 0 0 0 0 0 0 0 0 0 1 0 0 0 0" result="na"/><feComposite in="b" in2="na" operator="arithmetic" k1="0" k2="1.0" k3="-1" k4="0.0"/><feComponentTransfer result="m"><feFuncA type="linear" slope="12" intercept="0"/></feComponentTransfer><feFlood flood-color="#6C68A5"/><feComposite operator="in" in2="m"/></filter>
<filter id="fg_mye" x="-5%" y="-5%" width="110%" height="110%" color-interpolation-filters="sRGB"><feGaussianBlur in="SourceAlpha" stdDeviation="1.0" result="b"/><feTurbulence type="fractalNoise" baseFrequency="1.3" numOctaves="1" seed="41" result="n"/><feColorMatrix in="n" type="matrix" values="0 0 0 0 0 0 0 0 0 0 0 0 0 0 0 1 0 0 0 0" result="na"/><feComposite in="b" in2="na" operator="arithmetic" k1="0" k2="0.72" k3="-1" k4="0.0"/><feComponentTransfer result="m"><feFuncA type="linear" slope="12" intercept="0"/></feComponentTransfer><feFlood flood-color="#6C68A5"/><feComposite operator="in" in2="m"/></filter>
<filter id="fg_mast" x="-5%" y="-5%" width="110%" height="110%" color-interpolation-filters="sRGB"><feGaussianBlur in="SourceAlpha" stdDeviation="1.0" result="b"/><feTurbulence type="fractalNoise" baseFrequency="1.3" numOctaves="1" seed="46" result="n"/><feColorMatrix in="n" type="matrix" values="0 0 0 0 0 0 0 0 0 0 0 0 0 0 0 1 0 0 0 0" result="na"/><feComposite in="b" in2="na" operator="arithmetic" k1="0" k2="0.9" k3="-1" k4="0.0"/><feComponentTransfer result="m"><feFuncA type="linear" slope="12" intercept="0"/></feComponentTransfer><feFlood flood-color="#6C68A5"/><feComposite operator="in" in2="m"/></filter>
<filter id="fg_endo" x="-5%" y="-5%" width="110%" height="110%" color-interpolation-filters="sRGB"><feGaussianBlur in="SourceAlpha" stdDeviation="1.0" result="b"/><feTurbulence type="fractalNoise" baseFrequency="1.3" numOctaves="1" seed="51" result="n"/><feColorMatrix in="n" type="matrix" values="0 0 0 0 0 0 0 0 0 0 0 0 0 0 0 1 0 0 0 0" result="na"/><feComposite in="b" in2="na" operator="arithmetic" k1="0" k2="0.8" k3="-1" k4="0.0"/><feComponentTransfer result="m"><feFuncA type="linear" slope="12" intercept="0"/></feComponentTransfer><feFlood flood-color="#6C68A5"/><feComposite operator="in" in2="m"/></filter>
<filter id="fg_caf" x="-5%" y="-5%" width="110%" height="110%" color-interpolation-filters="sRGB"><feGaussianBlur in="SourceAlpha" stdDeviation="1.0" result="b"/><feTurbulence type="fractalNoise" baseFrequency="1.3" numOctaves="1" seed="56" result="n"/><feColorMatrix in="n" type="matrix" values="0 0 0 0 0 0 0 0 0 0 0 0 0 0 0 1 0 0 0 0" result="na"/><feComposite in="b" in2="na" operator="arithmetic" k1="0" k2="0.8" k3="-1" k4="0.0"/><feComponentTransfer result="m"><feFuncA type="linear" slope="12" intercept="0"/></feComponentTransfer><feFlood flood-color="#6C68A5"/><feComposite operator="in" in2="m"/></filter>
<filter id="fg_b" x="-5%" y="-5%" width="110%" height="110%" color-interpolation-filters="sRGB"><feGaussianBlur in="SourceAlpha" stdDeviation="1.0" result="b"/><feTurbulence type="fractalNoise" baseFrequency="1.3" numOctaves="1" seed="61" result="n"/><feColorMatrix in="n" type="matrix" values="0 0 0 0 0 0 0 0 0 0 0 0 0 0 0 1 0 0 0 0" result="na"/><feComposite in="b" in2="na" operator="arithmetic" k1="0" k2="1.05" k3="-1" k4="0.0"/><feComponentTransfer result="m"><feFuncA type="linear" slope="12" intercept="0"/></feComponentTransfer><feFlood flood-color="#6C68A5"/><feComposite operator="in" in2="m"/></filter>
<filter id="fg_tnk" x="-5%" y="-5%" width="110%" height="110%" color-interpolation-filters="sRGB"><feGaussianBlur in="SourceAlpha" stdDeviation="1.0" result="b"/><feTurbulence type="fractalNoise" baseFrequency="1.3" numOctaves="1" seed="66" result="n"/><feColorMatrix in="n" type="matrix" values="0 0 0 0 0 0 0 0 0 0 0 0 0 0 0 1 0 0 0 0" result="na"/><feComposite in="b" in2="na" operator="arithmetic" k1="0" k2="1.0" k3="-1" k4="0.0"/><feComponentTransfer result="m"><feFuncA type="linear" slope="12" intercept="0"/></feComponentTransfer><feFlood flood-color="#6C68A5"/><feComposite operator="in" in2="m"/></filter>
<filter id="fg_clump" x="-5%" y="-5%" width="110%" height="110%" color-interpolation-filters="sRGB"><feGaussianBlur in="SourceAlpha" stdDeviation="1.6" result="b"/><feTurbulence type="fractalNoise" baseFrequency="1.3" numOctaves="1" seed="77" result="n"/><feColorMatrix in="n" type="matrix" values="0 0 0 0 0 0 0 0 0 0 0 0 0 0 0 1 0 0 0 0" result="na"/><feComposite in="b" in2="na" operator="arithmetic" k1="0" k2="1.0" k3="-1" k4="0.0"/><feComponentTransfer result="m"><feFuncA type="linear" slope="12" intercept="0"/></feComponentTransfer><feFlood flood-color="#6C68A5"/><feComposite operator="in" in2="m"/></filter>
<g id="s_all"><use href="#s_pla"/><use href="#s_epi"/><use href="#s_mye"/><use href="#s_mast"/><use href="#s_endo"/><use href="#s_caf"/><use href="#s_b"/><use href="#s_tnk"/></g>
<filter id="fd_base" x="-5%" y="-5%" width="110%" height="110%" color-interpolation-filters="sRGB"><feGaussianBlur in="SourceAlpha" stdDeviation="0.8" result="b"/><feTurbulence type="fractalNoise" baseFrequency="1.3" numOctaves="1" seed="5" result="n"/><feColorMatrix in="n" type="matrix" values="0 0 0 0 0 0 0 0 0 0 0 0 0 0 0 1 0 0 0 0" result="na"/><feComposite in="b" in2="na" operator="arithmetic" k1="0" k2="1.25" k3="-1" k4="0.0"/><feComponentTransfer result="m"><feFuncA type="linear" slope="12" intercept="0"/></feComponentTransfer><feFlood flood-color="#E8E6F2"/><feComposite operator="in" in2="m"/></filter>
<filter id="fd_0" x="-5%" y="-5%" width="110%" height="110%" color-interpolation-filters="sRGB"><feGaussianBlur in="SourceAlpha" stdDeviation="0.8" result="b"/><feTurbulence type="fractalNoise" baseFrequency="1.3" numOctaves="1" seed="40" result="n"/><feColorMatrix in="n" type="matrix" values="0 0 0 0 0 0 0 0 0 0 0 0 0 0 0 1 0 0 0 0" result="na"/><feComposite in="b" in2="na" operator="arithmetic" k1="0" k2="0.469" k3="-1" k4="0.0"/><feComponentTransfer result="m"><feFuncA type="linear" slope="12" intercept="0"/></feComponentTransfer><feFlood flood-color="#46297E"/><feComposite operator="in" in2="m"/></filter>
<filter id="fd_1" x="-5%" y="-5%" width="110%" height="110%" color-interpolation-filters="sRGB"><feGaussianBlur in="SourceAlpha" stdDeviation="0.8" result="b"/><feTurbulence type="fractalNoise" baseFrequency="1.3" numOctaves="1" seed="41" result="n"/><feColorMatrix in="n" type="matrix" values="0 0 0 0 0 0 0 0 0 0 0 0 0 0 0 1 0 0 0 0" result="na"/><feComposite in="b" in2="na" operator="arithmetic" k1="0" k2="0.474" k3="-1" k4="0.0"/><feComponentTransfer result="m"><feFuncA type="linear" slope="12" intercept="0"/></feComponentTransfer><feFlood flood-color="#46297E"/><feComposite operator="in" in2="m"/></filter>
<filter id="fd_2" x="-5%" y="-5%" width="110%" height="110%" color-interpolation-filters="sRGB"><feGaussianBlur in="SourceAlpha" stdDeviation="0.8" result="b"/><feTurbulence type="fractalNoise" baseFrequency="1.3" numOctaves="1" seed="42" result="n"/><feColorMatrix in="n" type="matrix" values="0 0 0 0 0 0 0 0 0 0 0 0 0 0 0 1 0 0 0 0" result="na"/><feComposite in="b" in2="na" operator="arithmetic" k1="0" k2="0.484" k3="-1" k4="0.0"/><feComponentTransfer result="m"><feFuncA type="linear" slope="12" intercept="0"/></feComponentTransfer><feFlood flood-color="#46297E"/><feComposite operator="in" in2="m"/></filter>
<filter id="fd_3" x="-5%" y="-5%" width="110%" height="110%" color-interpolation-filters="sRGB"><feGaussianBlur in="SourceAlpha" stdDeviation="0.8" result="b"/><feTurbulence type="fractalNoise" baseFrequency="1.3" numOctaves="1" seed="43" result="n"/><feColorMatrix in="n" type="matrix" values="0 0 0 0 0 0 0 0 0 0 0 0 0 0 0 1 0 0 0 0" result="na"/><feComposite in="b" in2="na" operator="arithmetic" k1="0" k2="0.495" k3="-1" k4="0.0"/><feComponentTransfer result="m"><feFuncA type="linear" slope="12" intercept="0"/></feComponentTransfer><feFlood flood-color="#46297E"/><feComposite operator="in" in2="m"/></filter>
<filter id="fd_4" x="-5%" y="-5%" width="110%" height="110%" color-interpolation-filters="sRGB"><feGaussianBlur in="SourceAlpha" stdDeviation="0.8" result="b"/><feTurbulence type="fractalNoise" baseFrequency="1.3" numOctaves="1" seed="44" result="n"/><feColorMatrix in="n" type="matrix" values="0 0 0 0 0 0 0 0 0 0 0 0 0 0 0 1 0 0 0 0" result="na"/><feComposite in="b" in2="na" operator="arithmetic" k1="0" k2="0.504" k3="-1" k4="0.0"/><feComponentTransfer result="m"><feFuncA type="linear" slope="12" intercept="0"/></feComponentTransfer><feFlood flood-color="#46297E"/><feComposite operator="in" in2="m"/></filter>
<filter id="fd_5" x="-5%" y="-5%" width="110%" height="110%" color-interpolation-filters="sRGB"><feGaussianBlur in="SourceAlpha" stdDeviation="0.8" result="b"/><feTurbulence type="fractalNoise" baseFrequency="1.3" numOctaves="1" seed="45" result="n"/><feColorMatrix in="n" type="matrix" values="0 0 0 0 0 0 0 0 0 0 0 0 0 0 0 1 0 0 0 0" result="na"/><feComposite in="b" in2="na" operator="arithmetic" k1="0" k2="0.517" k3="-1" k4="0.0"/><feComponentTransfer result="m"><feFuncA type="linear" slope="12" intercept="0"/></feComponentTransfer><feFlood flood-color="#46297E"/><feComposite operator="in" in2="m"/></filter>
<filter id="fd_6" x="-5%" y="-5%" width="110%" height="110%" color-interpolation-filters="sRGB"><feGaussianBlur in="SourceAlpha" stdDeviation="0.8" result="b"/><feTurbulence type="fractalNoise" baseFrequency="1.3" numOctaves="1" seed="46" result="n"/><feColorMatrix in="n" type="matrix" values="0 0 0 0 0 0 0 0 0 0 0 0 0 0 0 1 0 0 0 0" result="na"/><feComposite in="b" in2="na" operator="arithmetic" k1="0" k2="0.538" k3="-1" k4="0.0"/><feComponentTransfer result="m"><feFuncA type="linear" slope="12" intercept="0"/></feComponentTransfer><feFlood flood-color="#46297E"/><feComposite operator="in" in2="m"/></filter>
<filter id="fd_7" x="-5%" y="-5%" width="110%" height="110%" color-interpolation-filters="sRGB"><feGaussianBlur in="SourceAlpha" stdDeviation="0.8" result="b"/><feTurbulence type="fractalNoise" baseFrequency="1.3" numOctaves="1" seed="47" result="n"/><feColorMatrix in="n" type="matrix" values="0 0 0 0 0 0 0 0 0 0 0 0 0 0 0 1 0 0 0 0" result="na"/><feComposite in="b" in2="na" operator="arithmetic" k1="0" k2="0.551" k3="-1" k4="0.0"/><feComponentTransfer result="m"><feFuncA type="linear" slope="12" intercept="0"/></feComponentTransfer><feFlood flood-color="#46297E"/><feComposite operator="in" in2="m"/></filter>
<filter id="fd_8" x="-5%" y="-5%" width="110%" height="110%" color-interpolation-filters="sRGB"><feGaussianBlur in="SourceAlpha" stdDeviation="0.8" result="b"/><feTurbulence type="fractalNoise" baseFrequency="1.3" numOctaves="1" seed="48" result="n"/><feColorMatrix in="n" type="matrix" values="0 0 0 0 0 0 0 0 0 0 0 0 0 0 0 1 0 0 0 0" result="na"/><feComposite in="b" in2="na" operator="arithmetic" k1="0" k2="0.562" k3="-1" k4="0.0"/><feComponentTransfer result="m"><feFuncA type="linear" slope="12" intercept="0"/></feComponentTransfer><feFlood flood-color="#46297E"/><feComposite operator="in" in2="m"/></filter>
<filter id="fd_9" x="-5%" y="-5%" width="110%" height="110%" color-interpolation-filters="sRGB"><feGaussianBlur in="SourceAlpha" stdDeviation="0.8" result="b"/><feTurbulence type="fractalNoise" baseFrequency="1.3" numOctaves="1" seed="49" result="n"/><feColorMatrix in="n" type="matrix" values="0 0 0 0 0 0 0 0 0 0 0 0 0 0 0 1 0 0 0 0" result="na"/><feComposite in="b" in2="na" operator="arithmetic" k1="0" k2="0.585" k3="-1" k4="0.0"/><feComponentTransfer result="m"><feFuncA type="linear" slope="12" intercept="0"/></feComponentTransfer><feFlood flood-color="#46297E"/><feComposite operator="in" in2="m"/></filter>
<filter id="fd_10" x="-5%" y="-5%" width="110%" height="110%" color-interpolation-filters="sRGB"><feGaussianBlur in="SourceAlpha" stdDeviation="0.8" result="b"/><feTurbulence type="fractalNoise" baseFrequency="1.3" numOctaves="1" seed="50" result="n"/><feColorMatrix in="n" type="matrix" values="0 0 0 0 0 0 0 0 0 0 0 0 0 0 0 1 0 0 0 0" result="na"/><feComposite in="b" in2="na" operator="arithmetic" k1="0" k2="0.598" k3="-1" k4="0.0"/><feComponentTransfer result="m"><feFuncA type="linear" slope="12" intercept="0"/></feComponentTransfer><feFlood flood-color="#46297E"/><feComposite operator="in" in2="m"/></filter>
<filter id="fd_11" x="-5%" y="-5%" width="110%" height="110%" color-interpolation-filters="sRGB"><feGaussianBlur in="SourceAlpha" stdDeviation="0.8" result="b"/><feTurbulence type="fractalNoise" baseFrequency="1.3" numOctaves="1" seed="51" result="n"/><feColorMatrix in="n" type="matrix" values="0 0 0 0 0 0 0 0 0 0 0 0 0 0 0 1 0 0 0 0" result="na"/><feComposite in="b" in2="na" operator="arithmetic" k1="0" k2="0.612" k3="-1" k4="0.0"/><feComponentTransfer result="m"><feFuncA type="linear" slope="12" intercept="0"/></feComponentTransfer><feFlood flood-color="#46297E"/><feComposite operator="in" in2="m"/></filter>
<filter id="fd_12" x="-5%" y="-5%" width="110%" height="110%" color-interpolation-filters="sRGB"><feGaussianBlur in="SourceAlpha" stdDeviation="0.8" result="b"/><feTurbulence type="fractalNoise" baseFrequency="1.3" numOctaves="1" seed="52" result="n"/><feColorMatrix in="n" type="matrix" values="0 0 0 0 0 0 0 0 0 0 0 0 0 0 0 1 0 0 0 0" result="na"/><feComposite in="b" in2="na" operator="arithmetic" k1="0" k2="0.636" k3="-1" k4="0.0"/><feComponentTransfer result="m"><feFuncA type="linear" slope="12" intercept="0"/></feComponentTransfer><feFlood flood-color="#46297E"/><feComposite operator="in" in2="m"/></filter>
<filter id="fd_13" x="-5%" y="-5%" width="110%" height="110%" color-interpolation-filters="sRGB"><feGaussianBlur in="SourceAlpha" stdDeviation="0.8" result="b"/><feTurbulence type="fractalNoise" baseFrequency="1.3" numOctaves="1" seed="53" result="n"/><feColorMatrix in="n" type="matrix" values="0 0 0 0 0 0 0 0 0 0 0 0 0 0 0 1 0 0 0 0" result="na"/><feComposite in="b" in2="na" operator="arithmetic" k1="0" k2="0.744" k3="-1" k4="0.0"/><feComponentTransfer result="m"><feFuncA type="linear" slope="12" intercept="0"/></feComponentTransfer><feFlood flood-color="#46297E"/><feComposite operator="in" in2="m"/></filter>
<filter id="fd_14" x="-5%" y="-5%" width="110%" height="110%" color-interpolation-filters="sRGB"><feGaussianBlur in="SourceAlpha" stdDeviation="0.8" result="b"/><feTurbulence type="fractalNoise" baseFrequency="1.3" numOctaves="1" seed="54" result="n"/><feColorMatrix in="n" type="matrix" values="0 0 0 0 0 0 0 0 0 0 0 0 0 0 0 1 0 0 0 0" result="na"/><feComposite in="b" in2="na" operator="arithmetic" k1="0" k2="0.83" k3="-1" k4="0.0"/><feComponentTransfer result="m"><feFuncA type="linear" slope="12" intercept="0"/></feComponentTransfer><feFlood flood-color="#46297E"/><feComposite operator="in" in2="m"/></filter>
<filter id="fd_15" x="-5%" y="-5%" width="110%" height="110%" color-interpolation-filters="sRGB"><feGaussianBlur in="SourceAlpha" stdDeviation="0.8" result="b"/><feTurbulence type="fractalNoise" baseFrequency="1.3" numOctaves="1" seed="55" result="n"/><feColorMatrix in="n" type="matrix" values="0 0 0 0 0 0 0 0 0 0 0 0 0 0 0 1 0 0 0 0" result="na"/><feComposite in="b" in2="na" operator="arithmetic" k1="0" k2="0.877" k3="-1" k4="0.0"/><feComponentTransfer result="m"><feFuncA type="linear" slope="12" intercept="0"/></feComponentTransfer><feFlood flood-color="#46297E"/><feComposite operator="in" in2="m"/></filter>
<filter id="fd_16" x="-5%" y="-5%" width="110%" height="110%" color-interpolation-filters="sRGB"><feGaussianBlur in="SourceAlpha" stdDeviation="0.8" result="b"/><feTurbulence type="fractalNoise" baseFrequency="1.3" numOctaves="1" seed="56" result="n"/><feColorMatrix in="n" type="matrix" values="0 0 0 0 0 0 0 0 0 0 0 0 0 0 0 1 0 0 0 0" result="na"/><feComposite in="b" in2="na" operator="arithmetic" k1="0" k2="0.902" k3="-1" k4="0.0"/><feComponentTransfer result="m"><feFuncA type="linear" slope="12" intercept="0"/></feComponentTransfer><feFlood flood-color="#46297E"/><feComposite operator="in" in2="m"/></filter>
<filter id="fd_17" x="-5%" y="-5%" width="110%" height="110%" color-interpolation-filters="sRGB"><feGaussianBlur in="SourceAlpha" stdDeviation="0.8" result="b"/><feTurbulence type="fractalNoise" baseFrequency="1.3" numOctaves="1" seed="57" result="n"/><feColorMatrix in="n" type="matrix" values="0 0 0 0 0 0 0 0 0 0 0 0 0 0 0 1 0 0 0 0" result="na"/><feComposite in="b" in2="na" operator="arithmetic" k1="0" k2="0.947" k3="-1" k4="0.0"/><feComponentTransfer result="m"><feFuncA type="linear" slope="12" intercept="0"/></feComponentTransfer><feFlood flood-color="#46297E"/><feComposite operator="in" in2="m"/></filter>
<filter id="fd_18" x="-5%" y="-5%" width="110%" height="110%" color-interpolation-filters="sRGB"><feGaussianBlur in="SourceAlpha" stdDeviation="0.8" result="b"/><feTurbulence type="fractalNoise" baseFrequency="1.3" numOctaves="1" seed="58" result="n"/><feColorMatrix in="n" type="matrix" values="0 0 0 0 0 0 0 0 0 0 0 0 0 0 0 1 0 0 0 0" result="na"/><feComposite in="b" in2="na" operator="arithmetic" k1="0" k2="1.024" k3="-1" k4="0.0"/><feComponentTransfer result="m"><feFuncA type="linear" slope="12" intercept="0"/></feComponentTransfer><feFlood flood-color="#46297E"/><feComposite operator="in" in2="m"/></filter>
<filter id="fd_19" x="-5%" y="-5%" width="110%" height="110%" color-interpolation-filters="sRGB"><feGaussianBlur in="SourceAlpha" stdDeviation="0.8" result="b"/><feTurbulence type="fractalNoise" baseFrequency="1.3" numOctaves="1" seed="59" result="n"/><feColorMatrix in="n" type="matrix" values="0 0 0 0 0 0 0 0 0 0 0 0 0 0 0 1 0 0 0 0" result="na"/><feComposite in="b" in2="na" operator="arithmetic" k1="0" k2="1.042" k3="-1" k4="0.0"/><feComponentTransfer result="m"><feFuncA type="linear" slope="12" intercept="0"/></feComponentTransfer><feFlood flood-color="#46297E"/><feComposite operator="in" in2="m"/></filter>
<filter id="fd_20" x="-5%" y="-5%" width="110%" height="110%" color-interpolation-filters="sRGB"><feGaussianBlur in="SourceAlpha" stdDeviation="0.8" result="b"/><feTurbulence type="fractalNoise" baseFrequency="1.3" numOctaves="1" seed="60" result="n"/><feColorMatrix in="n" type="matrix" values="0 0 0 0 0 0 0 0 0 0 0 0 0 0 0 1 0 0 0 0" result="na"/><feComposite in="b" in2="na" operator="arithmetic" k1="0" k2="1.057" k3="-1" k4="0.0"/><feComponentTransfer result="m"><feFuncA type="linear" slope="12" intercept="0"/></feComponentTransfer><feFlood flood-color="#46297E"/><feComposite operator="in" in2="m"/></filter>
<filter id="fd_21" x="-5%" y="-5%" width="110%" height="110%" color-interpolation-filters="sRGB"><feGaussianBlur in="SourceAlpha" stdDeviation="0.8" result="b"/><feTurbulence type="fractalNoise" baseFrequency="1.3" numOctaves="1" seed="61" result="n"/><feColorMatrix in="n" type="matrix" values="0 0 0 0 0 0 0 0 0 0 0 0 0 0 0 1 0 0 0 0" result="na"/><feComposite in="b" in2="na" operator="arithmetic" k1="0" k2="1.098" k3="-1" k4="0.0"/><feComponentTransfer result="m"><feFuncA type="linear" slope="12" intercept="0"/></feComponentTransfer><feFlood flood-color="#46297E"/><feComposite operator="in" in2="m"/></filter>
<filter id="fm_0" x="-5%" y="-5%" width="110%" height="110%" color-interpolation-filters="sRGB"><feGaussianBlur in="SourceAlpha" stdDeviation="0.8" result="b"/><feTurbulence type="fractalNoise" baseFrequency="1.3" numOctaves="1" seed="70" result="n"/><feColorMatrix in="n" type="matrix" values="0 0 0 0 0 0 0 0 0 0 0 0 0 0 0 1 0 0 0 0" result="na"/><feComposite in="b" in2="na" operator="arithmetic" k1="0" k2="0.636" k3="-1" k4="0.0"/><feComponentTransfer result="m"><feFuncA type="linear" slope="12" intercept="0"/></feComponentTransfer><feFlood flood-color="#9A8CC0"/><feComposite operator="in" in2="m"/></filter>
<filter id="fm_1" x="-5%" y="-5%" width="110%" height="110%" color-interpolation-filters="sRGB"><feGaussianBlur in="SourceAlpha" stdDeviation="0.8" result="b"/><feTurbulence type="fractalNoise" baseFrequency="1.3" numOctaves="1" seed="71" result="n"/><feColorMatrix in="n" type="matrix" values="0 0 0 0 0 0 0 0 0 0 0 0 0 0 0 1 0 0 0 0" result="na"/><feComposite in="b" in2="na" operator="arithmetic" k1="0" k2="0.877" k3="-1" k4="0.0"/><feComponentTransfer result="m"><feFuncA type="linear" slope="12" intercept="0"/></feComponentTransfer><feFlood flood-color="#9A8CC0"/><feComposite operator="in" in2="m"/></filter>
<filter id="fm_2" x="-5%" y="-5%" width="110%" height="110%" color-interpolation-filters="sRGB"><feGaussianBlur in="SourceAlpha" stdDeviation="0.8" result="b"/><feTurbulence type="fractalNoise" baseFrequency="1.3" numOctaves="1" seed="72" result="n"/><feColorMatrix in="n" type="matrix" values="0 0 0 0 0 0 0 0 0 0 0 0 0 0 0 1 0 0 0 0" result="na"/><feComposite in="b" in2="na" operator="arithmetic" k1="0" k2="0.902" k3="-1" k4="0.0"/><feComponentTransfer result="m"><feFuncA type="linear" slope="12" intercept="0"/></feComponentTransfer><feFlood flood-color="#9A8CC0"/><feComposite operator="in" in2="m"/></filter>
<filter id="fm_3" x="-5%" y="-5%" width="110%" height="110%" color-interpolation-filters="sRGB"><feGaussianBlur in="SourceAlpha" stdDeviation="0.8" result="b"/><feTurbulence type="fractalNoise" baseFrequency="1.3" numOctaves="1" seed="73" result="n"/><feColorMatrix in="n" type="matrix" values="0 0 0 0 0 0 0 0 0 0 0 0 0 0 0 1 0 0 0 0" result="na"/><feComposite in="b" in2="na" operator="arithmetic" k1="0" k2="0.994" k3="-1" k4="0.0"/><feComponentTransfer result="m"><feFuncA type="linear" slope="12" intercept="0"/></feComponentTransfer><feFlood flood-color="#9A8CC0"/><feComposite operator="in" in2="m"/></filter>
</defs>
<rect width="1857" height="2500" fill="#fff"/>
<text x="2.9" y="34.6" font-size="46">A</text>
<rect x="262.6" y="30.9" width="22.1" height="22.1" fill="#364E55"/>
<text x="293.5" y="49.7" font-size="22">Singlet</text>
<rect x="382.0" y="30.9" width="22.1" height="22.1" fill="#D98C47"/>
<text x="414.0" y="49.7" font-size="22">Doublet</text>
<rect x="189.6" y="78.5" width="260.8" height="24.4" fill="#364E55"/>
<rect x="450.4" y="78.5" width="19.1" height="24.4" fill="#D98C47"/>
<line x1="165.5" y1="90.7" x2="171.0" y2="90.7" stroke="#000" stroke-width="2"/>
<text x="153.0" y="97.7" font-size="21.7" text-anchor="end">MGC1</text>
<rect x="189.6" y="105.8" width="190.4" height="24.4" fill="#364E55"/>
<rect x="380.0" y="105.8" width="14.0" height="24.4" fill="#D98C47"/>
<line x1="165.5" y1="118.0" x2="171.0" y2="118.0" stroke="#000" stroke-width="2"/>
<text x="153.0" y="125.0" font-size="21.7" text-anchor="end">MGC2</text>
<rect x="189.6" y="133.0" width="24.9" height="24.4" fill="#364E55"/>
<rect x="214.5" y="133.0" width="1.7" height="24.4" fill="#D98C47"/>
<line x1="165.5" y1="145.2" x2="171.0" y2="145.2" stroke="#000" stroke-width="2"/>
<text x="153.0" y="152.2" font-size="21.7" text-anchor="end">MGC3</text>
<rect x="189.6" y="160.3" width="53.6" height="24.4" fill="#364E55"/>
<rect x="243.2" y="160.3" width="3.4" height="24.4" fill="#D98C47"/>
<line x1="165.5" y1="172.5" x2="171.0" y2="172.5" stroke="#000" stroke-width="2"/>
<text x="153.0" y="179.5" font-size="21.7" text-anchor="end">IGC1</text>
<rect x="189.6" y="187.5" width="99.8" height="24.4" fill="#364E55"/>
<rect x="289.4" y="187.5" width="6.7" height="24.4" fill="#D98C47"/>
<line x1="165.5" y1="199.7" x2="171.0" y2="199.7" stroke="#000" stroke-width="2"/>
<text x="153.0" y="206.7" font-size="21.7" text-anchor="end">IGC2</text>
<rect x="189.6" y="214.8" width="24.9" height="24.4" fill="#364E55"/>
<rect x="214.5" y="214.8" width="2.2" height="24.4" fill="#D98C47"/>
<line x1="165.5" y1="227.0" x2="171.0" y2="227.0" stroke="#000" stroke-width="2"/>
<text x="153.0" y="234.0" font-size="21.7" text-anchor="end">IGC3</text>
<rect x="189.6" y="242.1" width="77.8" height="24.4" fill="#364E55"/>
<rect x="267.4" y="242.1" width="5.1" height="24.4" fill="#D98C47"/>
<line x1="165.5" y1="254.3" x2="171.0" y2="254.3" stroke="#000" stroke-width="2"/>
<text x="153.0" y="261.3" font-size="21.7" text-anchor="end">IGC4</text>
<rect x="189.6" y="269.3" width="45.7" height="24.4" fill="#364E55"/>
<rect x="235.3" y="269.3" width="3.4" height="24.4" fill="#D98C47"/>
<line x1="165.5" y1="281.5" x2="171.0" y2="281.5" stroke="#000" stroke-width="2"/>
<text x="153.0" y="288.5" font-size="21.7" text-anchor="end">IGC5</text>
<rect x="189.6" y="296.6" width="33.4" height="24.4" fill="#364E55"/>
<rect x="223.0" y="296.6" width="2.2" height="24.4" fill="#D98C47"/>
<line x1="165.5" y1="308.8" x2="171.0" y2="308.8" stroke="#000" stroke-width="2"/>
<text x="153.0" y="315.8" font-size="21.7" text-anchor="end">DGC</text>
<rect x="189.6" y="323.8" width="323.8" height="24.4" fill="#364E55"/>
<rect x="513.4" y="323.8" width="24.2" height="24.4" fill="#D98C47"/>
<line x1="165.5" y1="336.0" x2="171.0" y2="336.0" stroke="#000" stroke-width="2"/>
<text x="153.0" y="343.0" font-size="21.7" text-anchor="end">AG</text>
<rect x="189.6" y="351.1" width="77.8" height="24.4" fill="#364E55"/>
<rect x="267.4" y="351.1" width="5.1" height="24.4" fill="#D98C47"/>
<line x1="165.5" y1="363.3" x2="171.0" y2="363.3" stroke="#000" stroke-width="2"/>
<text x="153.0" y="370.3" font-size="21.7" text-anchor="end">NC1</text>
<rect x="189.6" y="378.4" width="47.4" height="24.4" fill="#364E55"/>
<rect x="237.0" y="378.4" width="3.4" height="24.4" fill="#D98C47"/>
<line x1="165.5" y1="390.6" x2="171.0" y2="390.6" stroke="#000" stroke-width="2"/>
<text x="153.0" y="397.6" font-size="21.7" text-anchor="end">NC2</text>
<rect x="189.6" y="405.6" width="172.9" height="24.4" fill="#364E55"/>
<rect x="362.5" y="405.6" width="12.5" height="24.4" fill="#D98C47"/>
<line x1="165.5" y1="417.8" x2="171.0" y2="417.8" stroke="#000" stroke-width="2"/>
<text x="153.0" y="424.8" font-size="21.7" text-anchor="end">T1</text>
<rect x="189.6" y="432.9" width="122.8" height="24.4" fill="#364E55"/>
<rect x="312.4" y="432.9" width="9.1" height="24.4" fill="#D98C47"/>
<line x1="165.5" y1="445.1" x2="171.0" y2="445.1" stroke="#000" stroke-width="2"/>
<text x="153.0" y="452.1" font-size="21.7" text-anchor="end">T2</text>
<rect x="189.6" y="460.1" width="239.9" height="24.4" fill="#364E55"/>
<rect x="429.5" y="460.1" width="18.1" height="24.4" fill="#D98C47"/>
<line x1="165.5" y1="472.3" x2="171.0" y2="472.3" stroke="#000" stroke-width="2"/>
<text x="153.0" y="479.3" font-size="21.7" text-anchor="end">T3</text>
<rect x="189.6" y="487.4" width="344.1" height="24.4" fill="#364E55"/>
<rect x="533.7" y="487.4" width="27.0" height="24.4" fill="#D98C47"/>
<line x1="165.5" y1="499.6" x2="171.0" y2="499.6" stroke="#000" stroke-width="2"/>
<text x="153.0" y="506.6" font-size="21.7" text-anchor="end">T4</text>
<rect x="189.6" y="514.7" width="53.6" height="24.4" fill="#364E55"/>
<rect x="243.2" y="514.7" width="3.4" height="24.4" fill="#D98C47"/>
<line x1="165.5" y1="526.9" x2="171.0" y2="526.9" stroke="#000" stroke-width="2"/>
<text x="153.0" y="533.9" font-size="21.7" text-anchor="end">P2</text>
<rect x="189.6" y="541.9" width="91.9" height="24.4" fill="#364E55"/>
<rect x="281.5" y="541.9" width="6.7" height="24.4" fill="#D98C47"/>
<line x1="165.5" y1="554.1" x2="171.0" y2="554.1" stroke="#000" stroke-width="2"/>
<text x="153.0" y="561.1" font-size="21.7" text-anchor="end">P4</text>
<path d="M172 74.3V569.5H578.7" fill="none" stroke="#000" stroke-width="2.8" stroke-linejoin="miter"/>
<line x1="189.7" y1="570.0" x2="189.7" y2="574.5" stroke="#000" stroke-width="2"/>
<text x="189.7" y="597.0" font-size="21.5" text-anchor="middle">0</text>
<line x1="266.9" y1="570.0" x2="266.9" y2="574.5" stroke="#000" stroke-width="2"/>
<text x="266.9" y="597.0" font-size="21.5" text-anchor="middle">2500</text>
<line x1="344.2" y1="570.0" x2="344.2" y2="574.5" stroke="#000" stroke-width="2"/>
<text x="344.2" y="597.0" font-size="21.5" text-anchor="middle">5000</text>
<line x1="421.4" y1="570.0" x2="421.4" y2="574.5" stroke="#000" stroke-width="2"/>
<text x="421.4" y="597.0" font-size="21.5" text-anchor="middle">7500</text>
<line x1="498.7" y1="570.0" x2="498.7" y2="574.5" stroke="#000" stroke-width="2"/>
<text x="498.7" y="597.0" font-size="21.5" text-anchor="middle">10000</text>
<line x1="575.9" y1="570.0" x2="575.9" y2="574.5" stroke="#000" stroke-width="2"/>
<text x="575.9" y="597.0" font-size="21.5" text-anchor="middle">12500</text>
<text x="375.5" y="636.7" font-size="25.5" text-anchor="middle" font-weight="bold">Cell Number</text>
<text x="56.5" y="273.0" font-size="25.7" text-anchor="middle" font-weight="bold" transform="rotate(-90 56.5 273.0)">Sample ID</text>
<path d="M592.8 82.8H596.7V397.5H592.8" fill="none" stroke="#222" stroke-width="1.3"/>
<path d="M592.8 408H596.7V561.3H592.8" fill="none" stroke="#222" stroke-width="1.3"/>
<text x="683.0" y="235.3" font-size="25.5" text-anchor="middle">GAC</text>
<text x="683.0" y="266.8" font-size="25.5" text-anchor="middle">(27,942 cells)</text>
<text x="683.0" y="475.0" font-size="25.5" text-anchor="middle">AEG</text>
<text x="683.0" y="506.7" font-size="25.5" text-anchor="middle">(31,035 cells)</text>
<text x="815.3" y="35.0" font-size="46">B</text>
<g mask="url(#mb_pla)">
<rect x="1101" y="212" width="230" height="148" fill="#7AA3D6"/>
<rect x="1101" y="212" width="230" height="148" fill-opacity="0.6" filter="url(#fb2)"/>
<rect x="1101" y="212" width="230" height="148" fill-opacity="0.6" filter="url(#fb3)"/>
<rect x="1101" y="212" width="230" height="148" fill-opacity="0.6" filter="url(#fb4)"/>
<rect x="1101" y="212" width="230" height="148" fill-opacity="0.6" filter="url(#fb5)"/>
</g>
<g mask="url(#mb_epi)">
<rect x="1077" y="7" width="250" height="199" fill="#7AA3D6"/>
<rect x="1077" y="7" width="250" height="199" fill-opacity="0.6" filter="url(#fb7)"/>
<rect x="1077" y="7" width="250" height="199" fill-opacity="0.6" filter="url(#fb8)"/>
<rect x="1077" y="7" width="250" height="199" fill-opacity="0.6" filter="url(#fb9)"/>
<rect x="1077" y="7" width="250" height="199" fill-opacity="0.6" filter="url(#fb10)"/>
<rect x="1077" y="7" width="250" height="199" fill-opacity="0.6" filter="url(#fb11)"/>
</g>
<g mask="url(#mb_mye)">
<rect x="1388" y="66" width="175" height="85" fill="#FAD792"/>
<rect x="1388" y="66" width="175" height="85" fill-opacity="0.6" filter="url(#fb13)"/>
<rect x="1388" y="66" width="175" height="85" fill-opacity="0.6" filter="url(#fb14)"/>
<rect x="1388" y="66" width="175" height="85" fill-opacity="0.6" filter="url(#fb15)"/>
<rect x="1388" y="66" width="175" height="85" fill-opacity="0.6" filter="url(#fb16)"/>
</g>
<g mask="url(#mb_mast)">
<rect x="924" y="95" width="59" height="47" fill="#8B7A2E"/>
<rect x="924" y="95" width="59" height="47" fill-opacity="0.6" filter="url(#fb18)"/>
<rect x="924" y="95" width="59" height="47" fill-opacity="0.6" filter="url(#fb19)"/>
</g>
<g mask="url(#mb_endo)">
<rect x="905" y="200" width="206" height="185" fill="#8B7A2E"/>
<rect x="905" y="200" width="206" height="185" fill-opacity="0.6" filter="url(#fb21)"/>
<rect x="905" y="200" width="206" height="185" fill-opacity="0.6" filter="url(#fb22)"/>
</g>
<g mask="url(#mb_caf)">
<rect x="896" y="334" width="180" height="137" fill="#FAD792"/>
<rect x="896" y="334" width="180" height="137" fill-opacity="0.6" filter="url(#fb24)"/>
<rect x="896" y="334" width="180" height="137" fill-opacity="0.6" filter="url(#fb25)"/>
<rect x="896" y="334" width="180" height="137" fill-opacity="0.6" filter="url(#fb26)"/>
</g>
<g mask="url(#mb_b)">
<rect x="1282" y="167" width="226" height="151" fill="#FAD792"/>
<rect x="1282" y="167" width="226" height="151" fill-opacity="0.6" filter="url(#fb28)"/>
<rect x="1282" y="167" width="226" height="151" fill-opacity="0.6" filter="url(#fb29)"/>
<rect x="1282" y="167" width="226" height="151" fill-opacity="0.6" filter="url(#fb30)"/>
<rect x="1282" y="167" width="226" height="151" fill-opacity="0.6" filter="url(#fb31)"/>
</g>
<g mask="url(#mb_tnk)">
<rect x="1234" y="200" width="186" height="414" fill="#FAD792"/>
<rect x="1234" y="200" width="186" height="414" fill-opacity="0.6" filter="url(#fb33)"/>
<rect x="1234" y="200" width="186" height="414" fill-opacity="0.6" filter="url(#fb34)"/>
<rect x="1234" y="200" width="186" height="414" fill-opacity="0.6" filter="url(#fb35)"/>
<rect x="1234" y="200" width="186" height="414" fill-opacity="0.6" filter="url(#fb36)"/>
<rect x="1234" y="200" width="186" height="414" fill-opacity="0.6" filter="url(#fb37)"/>
<rect x="1234" y="200" width="186" height="414" fill-opacity="0.6" filter="url(#fb38)"/>
<rect x="1234" y="200" width="186" height="414" fill-opacity="0.6" filter="url(#fb39)"/>
<rect x="1234" y="200" width="186" height="414" fill-opacity="0.6" filter="url(#fb40)"/>
</g>
<path d="M1188.9 114.4C1190.1 109.0 1198.0 101.7 1203.4 96.3C1208.9 90.8 1215.5 85.4 1221.6 81.7C1227.7 78.1 1234.3 75.1 1239.8 74.5C1245.2 73.9 1251.3 75.1 1254.3 78.1C1257.3 81.1 1258.8 87.8 1257.9 92.6C1257.0 97.5 1253.1 102.9 1248.8 107.2C1244.6 111.4 1238.5 115.0 1232.5 118.1C1226.4 121.1 1218.6 123.5 1212.5 125.3C1206.5 127.1 1200.1 130.8 1196.2 129.0C1192.2 127.1 1187.7 119.9 1188.9 114.4Z" fill-opacity="0.535" filter="url(#fb41)"/>
<path d="M1092.7 129.0C1093.0 126.2 1097.8 120.2 1101.7 116.2C1105.7 112.3 1110.8 108.4 1116.3 105.4C1121.7 102.3 1128.4 99.9 1134.4 98.1C1140.5 96.3 1144.1 94.8 1152.6 94.5C1161.1 94.2 1178.9 93.5 1185.3 96.3C1191.6 99.0 1196.2 108.4 1190.7 110.8C1185.3 113.2 1162.0 110.5 1152.6 110.8C1143.2 111.1 1139.9 111.7 1134.4 112.6C1129.0 113.5 1124.1 114.4 1119.9 116.2C1115.7 118.1 1112.3 120.8 1109.0 123.5C1105.7 126.2 1102.7 131.7 1099.9 132.6C1097.2 133.5 1092.4 131.7 1092.7 129.0Z" fill-opacity="0.492" filter="url(#fb42)"/>
<path d="M1147.1 90.8C1150.5 88.7 1160.8 81.6 1167.1 78.1C1173.5 74.6 1179.2 72.1 1185.3 69.9C1191.3 67.8 1197.4 66.1 1203.4 65.0C1209.5 64.0 1217.1 63.2 1221.6 63.6C1226.1 64.0 1229.2 66.9 1230.7 67.6" fill="none" stroke="#000" stroke-width="2.4" stroke-linecap="round" stroke-opacity="1.000" filter="url(#fb43)"/>
<path d="M1189.8 145.3C1190.1 142.4 1191.6 138.0 1193.4 136.2C1195.3 134.4 1198.3 133.2 1200.7 134.4C1203.1 135.6 1206.9 140.2 1208.0 143.5C1209.0 146.8 1208.7 152.0 1207.1 154.4C1205.4 156.8 1200.6 158.2 1198.0 158.0C1195.4 157.9 1193.0 155.6 1191.6 153.5C1190.3 151.4 1189.5 148.2 1189.8 145.3Z" fill-opacity="0.634" filter="url(#fb44)"/>
<path d="M1196.2 163.5C1198.9 162.3 1207.4 161.0 1214.3 161.3C1221.3 161.6 1234.3 163.6 1237.9 165.3C1241.6 166.9 1240.4 170.3 1236.1 171.1C1231.9 171.9 1218.9 170.5 1212.5 170.0C1206.2 169.5 1200.7 169.3 1198.0 168.2C1195.3 167.1 1193.4 164.6 1196.2 163.5Z" fill-opacity="0.518" filter="url(#fb45)"/>
<path d="M1094.5 132.6C1095.7 130.2 1100.5 128.1 1103.6 129.0C1106.6 129.9 1112.0 135.3 1112.6 138.0C1113.2 140.8 1109.9 144.4 1107.2 145.3C1104.5 146.2 1098.4 145.6 1096.3 143.5C1094.2 141.4 1093.3 135.0 1094.5 132.6Z" fill-opacity="0.512" filter="url(#fb46)"/>
<path d="M1308.9 186.9C1311.7 185.3 1321.0 186.9 1327.6 187.9C1334.1 189.0 1341.3 191.2 1348.2 193.1C1355.1 195.0 1361.3 197.1 1368.9 199.3C1376.5 201.5 1384.8 204.5 1393.7 206.5C1402.7 208.6 1414.4 211.2 1422.7 211.7C1431.0 212.2 1437.9 208.6 1443.4 209.6C1448.9 210.7 1456.5 216.2 1455.8 217.9C1455.1 219.6 1445.4 220.2 1439.2 220.0C1433.0 219.8 1426.1 218.4 1418.6 216.9C1411.0 215.3 1402.0 212.9 1393.7 210.7C1385.5 208.4 1376.5 205.5 1368.9 203.4C1361.3 201.4 1355.1 199.6 1348.2 198.3C1341.3 196.9 1332.7 194.6 1327.6 195.2C1322.4 195.7 1320.0 201.0 1317.2 201.4C1314.5 201.7 1312.4 199.6 1311.0 197.2C1309.6 194.8 1306.2 188.4 1308.9 186.9Z" fill-opacity="0.541" filter="url(#fb47)"/>
<path d="M1435.1 209.6C1435.5 207.9 1444.8 207.6 1449.6 209.6C1454.4 211.7 1461.0 218.6 1464.1 222.1C1467.2 225.5 1469.2 228.9 1468.2 230.3C1467.2 231.7 1461.3 232.0 1457.9 230.3C1454.4 228.6 1451.3 223.4 1447.5 220.0C1443.7 216.5 1434.8 211.4 1435.1 209.6Z" fill-opacity="0.597" filter="url(#fb48)"/>
<path d="M1364.8 286.2C1367.5 284.1 1378.6 280.3 1385.5 280.0C1392.4 279.6 1399.3 281.7 1406.2 284.1C1413.0 286.5 1419.9 291.7 1426.8 294.4C1433.7 297.2 1441.3 301.0 1447.5 300.6C1453.7 300.3 1464.1 291.7 1464.1 292.4C1464.1 293.1 1453.7 303.1 1447.5 304.8C1441.3 306.5 1433.7 304.1 1426.8 302.7C1419.9 301.3 1413.0 298.6 1406.2 296.5C1399.3 294.4 1391.7 291.0 1385.5 290.3C1379.3 289.6 1372.4 293.1 1368.9 292.4C1365.5 291.7 1362.0 288.2 1364.8 286.2Z" fill-opacity="0.541" filter="url(#fb49)"/>
<path d="M1354.4 373.0C1355.8 371.8 1362.0 370.6 1364.8 372.0C1367.5 373.4 1369.6 377.3 1371.0 381.3C1372.4 385.3 1373.4 393.5 1373.1 395.8C1372.7 398.0 1370.3 396.5 1368.9 394.8C1367.5 393.0 1366.9 388.0 1364.8 385.4C1362.7 382.9 1358.2 381.3 1356.5 379.2C1354.8 377.2 1353.1 374.2 1354.4 373.0Z" fill-opacity="0.597" filter="url(#fb50)"/>
<path d="M1485.8 275.8C1487.2 274.8 1494.6 273.2 1496.1 273.8C1497.7 274.3 1496.5 277.9 1495.1 278.9C1493.7 280.0 1489.4 280.5 1487.8 280.0C1486.3 279.4 1484.4 276.9 1485.8 275.8Z" fill-opacity="0.634" filter="url(#fb51)"/>
<path d="M1209.5 248.3C1212.3 245.7 1222.1 243.4 1227.4 245.7C1232.7 248.0 1240.2 257.2 1241.5 262.3C1242.8 267.5 1238.8 274.8 1235.1 276.4C1231.4 278.0 1223.1 274.5 1219.1 271.9C1215.0 269.4 1212.4 265.0 1210.8 261.1C1209.2 257.1 1206.7 250.8 1209.5 248.3Z" fill-opacity="0.518" filter="url(#fb52)"/>
<path d="M1177.5 287.9C1179.1 283.4 1190.3 281.0 1196.7 281.5C1203.1 282.1 1213.8 286.9 1215.9 291.1C1218.0 295.4 1214.3 304.2 1209.5 307.1C1204.7 310.0 1192.4 311.6 1187.1 308.4C1181.8 305.2 1175.9 292.4 1177.5 287.9Z" fill-opacity="0.506" filter="url(#fb53)"/>
<path d="M1289.5 276.4C1290.5 272.1 1297.7 273.2 1300.4 275.1C1303.0 277.0 1305.2 283.4 1305.5 287.9C1305.8 292.4 1304.2 299.9 1302.3 302.0C1300.4 304.1 1296.1 305.0 1294.0 300.7C1291.8 296.5 1288.4 280.7 1289.5 276.4Z" fill-opacity="0.506" filter="url(#fb54)"/>
<path d="M1254.3 300.7C1256.4 297.0 1269.2 294.9 1273.5 297.5C1277.7 300.2 1282.0 313.0 1279.9 316.7C1277.7 320.5 1264.9 322.6 1260.7 319.9C1256.4 317.3 1252.2 304.5 1254.3 300.7Z" fill-opacity="0.466" filter="url(#fb55)"/>
<path d="M1142.3 271.9C1143.9 269.2 1152.7 267.9 1155.1 270.0C1157.6 272.1 1158.6 282.0 1157.0 284.7C1155.4 287.5 1148.0 288.8 1145.5 286.6C1143.1 284.5 1140.7 274.7 1142.3 271.9Z" fill-opacity="0.483" filter="url(#fb56)"/>
<path d="M982.4 214.3C985.0 212.2 994.1 210.1 998.3 211.1C1002.6 212.2 1009.0 217.5 1007.9 220.7C1006.9 223.9 996.2 229.8 992.0 230.3C987.7 230.9 984.0 226.6 982.4 223.9C980.8 221.3 979.7 216.5 982.4 214.3Z" fill-opacity="0.512" filter="url(#fb57)"/>
<path d="M1017.5 441.5C1018.1 434.9 1027.7 419.6 1033.5 415.9C1039.4 412.2 1047.7 414.8 1052.7 419.1C1057.7 423.4 1063.6 435.4 1063.6 441.5C1063.6 447.6 1058.3 453.2 1052.7 455.6C1047.2 457.9 1036.2 457.9 1030.3 455.6C1024.5 453.2 1017.0 448.1 1017.5 441.5Z" fill-opacity="0.501" filter="url(#fb58)"/>
<path d="M950.4 366.0C954.2 363.9 962.3 380.3 967.6 383.9C973.0 387.5 981.5 383.5 982.4 387.7C983.2 392.0 977.0 404.3 972.8 409.5C968.5 414.7 961.5 421.2 956.8 419.1C952.1 417.0 945.7 405.5 944.6 396.7C943.5 387.8 946.5 368.1 950.4 366.0Z" fill-opacity="0.492" filter="url(#fb59)"/>
<path d="M878.5 530.3L878.5 630.1L977.4 630.1" fill="none" stroke="#231815" stroke-width="3.2" stroke-linejoin="miter"/>
<use href="#ah" transform="translate(878.5 510.3)"/>
<use href="#ah" transform="translate(997.4 630.1) rotate(90)"/>
<text x="877.5" y="665.9" font-size="24">UMAP_1</text>
<text x="854.7" y="630.1" font-size="24" transform="rotate(-90 854.7 630.1)">UMAP_2</text>
<text x="1647.0" y="146.6" font-size="25.3" font-weight="bold">Sample ID</text>
<rect x="1646.7" y="167.1" width="13.0" height="13.0" fill="#B8392B"/>
<text x="1669.0" y="181.2" font-size="21.5">AG</text>
<rect x="1646.7" y="193.3" width="13.0" height="13.0" fill="#1F6FAE"/>
<text x="1669.0" y="207.4" font-size="21.5">DGC</text>
<rect x="1646.7" y="219.2" width="13.0" height="13.0" fill="#D87F2B"/>
<text x="1669.0" y="233.3" font-size="21.5">IGC1</text>
<rect x="1646.7" y="245.1" width="13.0" height="13.0" fill="#1E8A50"/>
<text x="1669.0" y="259.2" font-size="21.5">IGC2</text>
<rect x="1646.7" y="271.3" width="13.0" height="13.0" fill="#7D74B4"/>
<text x="1669.0" y="285.4" font-size="21.5">IGC3</text>
<rect x="1646.7" y="297.5" width="13.0" height="13.0" fill="#7499AD"/>
<text x="1669.0" y="311.6" font-size="21.5">IGC4</text>
<rect x="1740.0" y="167.1" width="13.0" height="13.0" fill="#FAD792"/>
<text x="1762.6" y="181.2" font-size="21.5">IGC5</text>
<rect x="1740.0" y="193.3" width="13.0" height="13.0" fill="#E0479A"/>
<text x="1762.6" y="207.4" font-size="21.5">MGC1</text>
<rect x="1740.0" y="219.2" width="13.0" height="13.0" fill="#1A6DB5"/>
<text x="1762.6" y="233.3" font-size="21.5">MGC2</text>
<rect x="1740.0" y="245.1" width="13.0" height="13.0" fill="#E8B91E"/>
<text x="1762.6" y="259.2" font-size="21.5">MGC3</text>
<rect x="1740.0" y="271.3" width="13.0" height="13.0" fill="#888888"/>
<text x="1762.6" y="285.4" font-size="21.5">NC1</text>
<rect x="1740.0" y="297.5" width="13.0" height="13.0" fill="#C9534F"/>
<text x="1762.6" y="311.6" font-size="21.5">NC2</text>
<rect x="1646.7" y="329.1" width="13.0" height="13.0" fill="#7AA3D6"/>
<text x="1669.0" y="343.2" font-size="21.5">P2</text>
<rect x="1646.7" y="355.0" width="13.0" height="13.0" fill="#0B3966"/>
<text x="1669.0" y="369.1" font-size="21.5">P4</text>
<rect x="1646.7" y="381.1" width="13.0" height="13.0" fill="#8B7A2E"/>
<text x="1669.0" y="395.2" font-size="21.5">T1</text>
<rect x="1646.7" y="407.0" width="13.0" height="13.0" fill="#3F3F3F"/>
<text x="1669.0" y="421.1" font-size="21.5">T2</text>
<rect x="1646.7" y="433.3" width="13.0" height="13.0" fill="#A52F2F"/>
<text x="1669.0" y="447.4" font-size="21.5">T3</text>
<rect x="1646.7" y="459.2" width="13.0" height="13.0" fill="#4A6B92"/>
<text x="1669.0" y="473.3" font-size="21.5">T4</text>
<line x1="1633.1" y1="173.5" x2="1633.1" y2="303.4" stroke="#3E3A39" stroke-width="1.5"/>
<line x1="1633.1" y1="335.6" x2="1633.1" y2="465.5" stroke="#3E3A39" stroke-width="1.5"/>
<text x="1621.6" y="244.3" font-size="22.3" text-anchor="end">GAC</text>
<text x="1621.6" y="407.0" font-size="22.3" text-anchor="end">AEG</text>
<text x="2.2" y="744.3" font-size="46">C</text>
<use href="#c_pla" filter="url(#fc_pla)"/>
<use href="#c_epi" filter="url(#fc_epi)"/>
<use href="#c_mye" filter="url(#fc_mye)"/>
<use href="#c_mast" filter="url(#fc_mast)"/>
<use href="#c_endo" filter="url(#fc_endo)"/>
<use href="#c_caf" filter="url(#fc_caf)"/>
<use href="#c_b" filter="url(#fc_b)"/>
<use href="#c_tnk" filter="url(#fc_tnk)"/>
<path d="M96.3 1389.0L96.3 1488.9L195.1 1488.9" fill="none" stroke="#231815" stroke-width="3.2" stroke-linejoin="miter"/>
<use href="#ah" transform="translate(96.3 1369.0)"/>
<use href="#ah" transform="translate(215.1 1488.9) rotate(90)"/>
<text x="95.3" y="1525.4" font-size="24.3">UMAP_1</text>
<text x="72.9" y="1488.9" font-size="24.3" transform="rotate(-90 72.9 1488.9)">UMAP_2</text>
<text x="920.3" y="924.7" font-size="25.2" font-weight="bold">Cell type</text>
<rect x="919.6" y="942.1" width="13.1" height="13.1" fill="#E14B35"/>
<text x="942.4" y="955.9" font-size="22.15">B cell</text>
<rect x="919.6" y="969.9" width="13.1" height="13.1" fill="#47B4CF"/>
<text x="942.4" y="983.7" font-size="22.15">CAF</text>
<rect x="919.6" y="997.6" width="13.1" height="13.1" fill="#1C9C82"/>
<text x="942.4" y="1011.4" font-size="22.15">Endothelial cell</text>
<rect x="919.6" y="1025.4" width="13.1" height="13.1" fill="#3C5488"/>
<text x="942.4" y="1039.2" font-size="22.15">Epithelial cell</text>
<rect x="919.6" y="1053.2" width="13.1" height="13.1" fill="#EF9A7E"/>
<text x="942.4" y="1067.0" font-size="22.15">Mast cell</text>
<rect x="919.6" y="1081.0" width="13.1" height="13.1" fill="#8491B4"/>
<text x="942.4" y="1094.8" font-size="22.15">Myeloid cell</text>
<rect x="919.6" y="1108.7" width="13.1" height="13.1" fill="#8ECDBE"/>
<text x="942.4" y="1122.5" font-size="22.15">Plasma cell</text>
<rect x="919.6" y="1136.5" width="13.1" height="13.1" fill="#D2141E"/>
<text x="942.4" y="1150.3" font-size="22.15">T/NK cell</text>
<g filter="url(#fa_pla)"><use href="#c_pla" transform="matrix(0.4748 0 0 0.4612 1172.1 392.1)"/></g>
<g filter="url(#fa_epi)"><use href="#c_epi" transform="matrix(0.4748 0 0 0.4612 1172.1 392.1)"/></g>
<g filter="url(#fa_mye)"><use href="#c_mye" transform="matrix(0.4748 0 0 0.4612 1172.1 392.1)"/></g>
<g filter="url(#fa_mast)"><use href="#c_mast" transform="matrix(0.4748 0 0 0.4612 1172.1 392.1)"/></g>
<g filter="url(#fa_endo)"><use href="#c_endo" transform="matrix(0.4748 0 0 0.4612 1172.1 392.1)"/></g>
<g filter="url(#fa_caf)"><use href="#c_caf" transform="matrix(0.4748 0 0 0.4612 1172.1 392.1)"/></g>
<g filter="url(#fa_b)"><use href="#c_b" transform="matrix(0.4748 0 0 0.4612 1172.1 392.1)"/></g>
<g filter="url(#fa_tnk)"><use href="#c_tnk" transform="matrix(0.4748 0 0 0.4612 1172.1 392.1)"/></g>
<g filter="url(#fg_pla)"><use href="#c_pla" transform="matrix(0.4748 0 0 0.4612 1172.1 798.8)"/></g>
<g filter="url(#fg_epi)"><use href="#c_epi" transform="matrix(0.4748 0 0 0.4612 1172.1 798.8)"/></g>
<g filter="url(#fg_mye)"><use href="#c_mye" transform="matrix(0.4748 0 0 0.4612 1172.1 798.8)"/></g>
<g filter="url(#fg_mast)"><use href="#c_mast" transform="matrix(0.4748 0 0 0.4612 1172.1 798.8)"/></g>
<g filter="url(#fg_endo)"><use href="#c_endo" transform="matrix(0.4748 0 0 0.4612 1172.1 798.8)"/></g>
<g filter="url(#fg_caf)"><use href="#c_caf" transform="matrix(0.4748 0 0 0.4612 1172.1 798.8)"/></g>
<g filter="url(#fg_b)"><use href="#c_b" transform="matrix(0.4748 0 0 0.4612 1172.1 798.8)"/></g>
<g filter="url(#fg_tnk)"><use href="#c_tnk" transform="matrix(0.4748 0 0 0.4612 1172.1 798.8)"/></g>
<path d="M1401.0 1297.0C1401.0 1298.2 1400.3 1299.6 1399.3 1300.5C1398.2 1301.5 1396.5 1302.3 1394.8 1302.7C1393.1 1303.1 1390.9 1303.1 1389.2 1302.7C1387.5 1302.3 1385.8 1301.5 1384.7 1300.5C1383.7 1299.6 1383.0 1298.2 1383.0 1297.0C1383.0 1295.8 1383.7 1294.4 1384.7 1293.5C1385.8 1292.5 1387.5 1291.7 1389.2 1291.3C1390.9 1290.9 1393.1 1290.9 1394.8 1291.3C1396.5 1291.7 1398.2 1292.5 1399.3 1293.5C1400.3 1294.4 1401.0 1295.8 1401.0 1297.0Z" fill-opacity="0.568" filter="url(#fg_clump)"/>
<path d="M1443.0 1300.0C1443.0 1301.2 1442.2 1302.6 1441.1 1303.5C1439.9 1304.5 1438.0 1305.3 1436.1 1305.7C1434.2 1306.1 1431.8 1306.1 1429.9 1305.7C1428.0 1305.3 1426.1 1304.5 1424.9 1303.5C1423.8 1302.6 1423.0 1301.2 1423.0 1300.0C1423.0 1298.8 1423.8 1297.4 1424.9 1296.5C1426.1 1295.5 1428.0 1294.7 1429.9 1294.3C1431.8 1293.9 1434.2 1293.9 1436.1 1294.3C1438.0 1294.7 1439.9 1295.5 1441.1 1296.5C1442.2 1297.4 1443.0 1298.8 1443.0 1300.0Z" fill-opacity="0.568" filter="url(#fg_clump)"/>
<path d="M1376.0 1283.0C1376.0 1284.0 1375.5 1285.1 1374.7 1285.9C1373.9 1286.7 1372.5 1287.5 1371.2 1287.8C1369.9 1288.1 1368.1 1288.1 1366.8 1287.8C1365.5 1287.5 1364.1 1286.7 1363.3 1285.9C1362.5 1285.1 1362.0 1284.0 1362.0 1283.0C1362.0 1282.0 1362.5 1280.9 1363.3 1280.1C1364.1 1279.3 1365.5 1278.5 1366.8 1278.2C1368.1 1277.9 1369.9 1277.9 1371.2 1278.2C1372.5 1278.5 1373.9 1279.3 1374.7 1280.1C1375.5 1280.9 1376.0 1282.0 1376.0 1283.0Z" fill-opacity="0.526" filter="url(#fg_clump)"/>
<path d="M1415.0 1312.0C1415.0 1313.6 1414.6 1315.4 1414.0 1316.7C1413.5 1318.0 1412.5 1319.1 1411.5 1319.6C1410.6 1320.1 1409.4 1320.1 1408.5 1319.6C1407.5 1319.1 1406.5 1318.0 1406.0 1316.7C1405.4 1315.4 1405.0 1313.6 1405.0 1312.0C1405.0 1310.4 1405.4 1308.6 1406.0 1307.3C1406.5 1306.0 1407.5 1304.9 1408.5 1304.4C1409.4 1303.9 1410.6 1303.9 1411.5 1304.4C1412.5 1304.9 1413.5 1306.0 1414.0 1307.3C1414.6 1308.6 1415.0 1310.4 1415.0 1312.0Z" fill-opacity="0.483" filter="url(#fg_clump)"/>
<path d="M1207.7 1014.3L1207.7 1088.0L1281.3 1088.0" fill="none" stroke="#231815" stroke-width="3.2" stroke-linejoin="miter"/>
<use href="#ah" transform="translate(1207.7 994.3)"/>
<use href="#ah" transform="translate(1301.3 1088.0) rotate(90)"/>
<text x="1206.7" y="1116.8" font-size="19.2">UMAP_1</text>
<text x="1189.3" y="1088.0" font-size="19.2" transform="rotate(-90 1189.3 1088.0)">UMAP_2</text>
<path d="M1207.7 1421.0L1207.7 1494.7L1281.3 1494.7" fill="none" stroke="#231815" stroke-width="3.2" stroke-linejoin="miter"/>
<use href="#ah" transform="translate(1207.7 1401.0)"/>
<use href="#ah" transform="translate(1301.3 1494.7) rotate(90)"/>
<text x="1206.7" y="1523.5" font-size="19.2">UMAP_1</text>
<text x="1189.3" y="1494.7" font-size="19.2" transform="rotate(-90 1189.3 1494.7)">UMAP_2</text>
<text x="1656.5" y="919.9" font-size="28.8" text-anchor="middle" font-weight="bold">AEG</text>
<text x="1664.4" y="1324.2" font-size="28.8" text-anchor="middle" font-weight="bold">GAC</text>
<text x="1.9" y="1604.9" font-size="46">D</text>
<text x="192.0" y="1595.4" font-size="25.3" text-anchor="middle">PTPRC</text>
<g filter="url(#fd_base)" stroke="#000" stroke-width="5" stroke-opacity="0.6" stroke-linejoin="round"><use href="#s_all" transform="matrix(0.3164 0 0 0.3423 31.9 1367.2)"/></g>
<g filter="url(#fm_1)" stroke="#000" stroke-width="4" stroke-opacity="0.6" stroke-linejoin="round"><use href="#s_pla" transform="matrix(0.3164 0 0 0.3423 31.9 1367.2)"/></g>
<g filter="url(#fm_3)" stroke="#000" stroke-width="4" stroke-opacity="0.6" stroke-linejoin="round"><use href="#s_b" transform="matrix(0.3164 0 0 0.3423 31.9 1367.2)"/></g>
<g filter="url(#fm_3)" stroke="#000" stroke-width="4" stroke-opacity="0.6" stroke-linejoin="round"><use href="#s_mye" transform="matrix(0.3164 0 0 0.3423 31.9 1367.2)"/></g>
<g filter="url(#fd_8)" stroke="#000" stroke-width="4" stroke-opacity="0.6" stroke-linejoin="round"><g transform="matrix(0.3164 0 0 0.3423 31.9 1367.2)"><use href="#s_caf"/></g></g>
<g filter="url(#fd_11)" stroke="#000" stroke-width="4" stroke-opacity="0.6" stroke-linejoin="round"><g transform="matrix(0.3164 0 0 0.3423 31.9 1367.2)"><use href="#s_pla"/><use href="#s_epi"/></g></g>
<g filter="url(#fd_13)" stroke="#000" stroke-width="4" stroke-opacity="0.6" stroke-linejoin="round"><g transform="matrix(0.3164 0 0 0.3423 31.9 1367.2)"><use href="#s_endo"/></g></g>
<g filter="url(#fd_14)" stroke="#000" stroke-width="4" stroke-opacity="0.6" stroke-linejoin="round"><g transform="matrix(0.3164 0 0 0.3423 31.9 1367.2)"><use href="#s_mast"/></g></g>
<g filter="url(#fd_16)" stroke="#000" stroke-width="4" stroke-opacity="0.6" stroke-linejoin="round"><g transform="matrix(0.3164 0 0 0.3423 31.9 1367.2)"><use href="#s_b"/></g></g>
<g filter="url(#fd_17)" stroke="#000" stroke-width="4" stroke-opacity="0.6" stroke-linejoin="round"><g transform="matrix(0.3164 0 0 0.3423 31.9 1367.2)"><use href="#s_mye"/></g></g>
<g filter="url(#fd_19)" stroke="#000" stroke-width="4" stroke-opacity="0.6" stroke-linejoin="round"><g transform="matrix(0.3164 0 0 0.3423 31.9 1367.2)"><use href="#s_tnk"/></g></g>
<rect x="65.0" y="1605.0" width="253.8" height="269.3" fill="none" stroke="#000" stroke-width="2.3"/>
<text x="466.6" y="1595.4" font-size="25.3" text-anchor="middle">CD3D</text>
<g filter="url(#fd_base)" stroke="#000" stroke-width="5" stroke-opacity="0.6" stroke-linejoin="round"><use href="#s_all" transform="matrix(0.3164 0 0 0.3423 306.5 1367.2)"/></g>
<g filter="url(#fd_6)" stroke="#000" stroke-width="4" stroke-opacity="0.6" stroke-linejoin="round"><g transform="matrix(0.3164 0 0 0.3423 306.5 1367.2)"><use href="#s_pla"/><use href="#s_epi"/><use href="#s_caf"/><use href="#s_mast"/></g></g>
<g filter="url(#fd_8)" stroke="#000" stroke-width="4" stroke-opacity="0.6" stroke-linejoin="round"><g transform="matrix(0.3164 0 0 0.3423 306.5 1367.2)"><use href="#s_mye"/></g></g>
<g filter="url(#fd_9)" stroke="#000" stroke-width="4" stroke-opacity="0.6" stroke-linejoin="round"><g transform="matrix(0.3164 0 0 0.3423 306.5 1367.2)"><use href="#s_endo"/></g></g>
<g filter="url(#fd_12)" stroke="#000" stroke-width="4" stroke-opacity="0.6" stroke-linejoin="round"><g transform="matrix(0.3164 0 0 0.3423 306.5 1367.2)"><use href="#s_b"/></g></g>
<g filter="url(#fd_18)" stroke="#000" stroke-width="4" stroke-opacity="0.6" stroke-linejoin="round"><g transform="matrix(0.3164 0 0 0.3423 306.5 1367.2)"><use href="#s_tnk"/></g></g>
<rect x="339.6" y="1605.0" width="253.8" height="269.3" fill="none" stroke="#000" stroke-width="2.3"/>
<text x="740.7" y="1595.4" font-size="25.3" text-anchor="middle">MS4A1</text>
<g filter="url(#fd_base)" stroke="#000" stroke-width="5" stroke-opacity="0.6" stroke-linejoin="round"><use href="#s_all" transform="matrix(0.3164 0 0 0.3423 580.6 1367.2)"/></g>
<g filter="url(#fd_1)" stroke="#000" stroke-width="4" stroke-opacity="0.6" stroke-linejoin="round"><g transform="matrix(0.3164 0 0 0.3423 580.6 1367.2)"><use href="#s_pla"/><use href="#s_epi"/><use href="#s_caf"/><use href="#s_endo"/><use href="#s_mast"/></g></g>
<g filter="url(#fd_4)" stroke="#000" stroke-width="4" stroke-opacity="0.6" stroke-linejoin="round"><g transform="matrix(0.3164 0 0 0.3423 580.6 1367.2)"><use href="#s_tnk"/></g></g>
<g filter="url(#fd_5)" stroke="#000" stroke-width="4" stroke-opacity="0.6" stroke-linejoin="round"><g transform="matrix(0.3164 0 0 0.3423 580.6 1367.2)"><use href="#s_mye"/></g></g>
<g filter="url(#fd_18)" stroke="#000" stroke-width="4" stroke-opacity="0.6" stroke-linejoin="round"><g transform="matrix(0.3164 0 0 0.3423 580.6 1367.2)"><use href="#s_b"/></g></g>
<rect x="613.7" y="1605.0" width="253.8" height="269.3" fill="none" stroke="#000" stroke-width="2.3"/>
<text x="192.0" y="1907.3" font-size="25.3" text-anchor="middle">CD14</text>
<g filter="url(#fd_base)" stroke="#000" stroke-width="5" stroke-opacity="0.6" stroke-linejoin="round"><use href="#s_all" transform="matrix(0.3164 0 0 0.3423 31.9 1679.1)"/></g>
<g filter="url(#fm_0)" stroke="#000" stroke-width="4" stroke-opacity="0.6" stroke-linejoin="round"><use href="#s_caf" transform="matrix(0.3164 0 0 0.3423 31.9 1679.1)"/></g>
<g filter="url(#fd_2)" stroke="#000" stroke-width="4" stroke-opacity="0.6" stroke-linejoin="round"><g transform="matrix(0.3164 0 0 0.3423 31.9 1679.1)"><use href="#s_pla"/><use href="#s_epi"/><use href="#s_b"/><use href="#s_mast"/></g></g>
<g filter="url(#fd_3)" stroke="#000" stroke-width="4" stroke-opacity="0.6" stroke-linejoin="round"><g transform="matrix(0.3164 0 0 0.3423 31.9 1679.1)"><use href="#s_tnk"/></g></g>
<g filter="url(#fd_6)" stroke="#000" stroke-width="4" stroke-opacity="0.6" stroke-linejoin="round"><g transform="matrix(0.3164 0 0 0.3423 31.9 1679.1)"><use href="#s_endo"/></g></g>
<g filter="url(#fd_10)" stroke="#000" stroke-width="4" stroke-opacity="0.6" stroke-linejoin="round"><g transform="matrix(0.3164 0 0 0.3423 31.9 1679.1)"><use href="#s_caf"/></g></g>
<g filter="url(#fd_20)" stroke="#000" stroke-width="4" stroke-opacity="0.6" stroke-linejoin="round"><g transform="matrix(0.3164 0 0 0.3423 31.9 1679.1)"><use href="#s_mye"/></g></g>
<rect x="65.0" y="1916.9" width="253.8" height="269.3" fill="none" stroke="#000" stroke-width="2.3"/>
<text x="466.6" y="1907.3" font-size="25.3" text-anchor="middle">TPSAB1</text>
<g filter="url(#fd_base)" stroke="#000" stroke-width="5" stroke-opacity="0.6" stroke-linejoin="round"><use href="#s_all" transform="matrix(0.3164 0 0 0.3423 306.5 1679.1)"/></g>
<g filter="url(#fd_0)" stroke="#000" stroke-width="4" stroke-opacity="0.6" stroke-linejoin="round"><g transform="matrix(0.3164 0 0 0.3423 306.5 1679.1)"><use href="#s_tnk"/><use href="#s_epi"/><use href="#s_b"/><use href="#s_endo"/></g></g>
<g filter="url(#fd_2)" stroke="#000" stroke-width="4" stroke-opacity="0.6" stroke-linejoin="round"><g transform="matrix(0.3164 0 0 0.3423 306.5 1679.1)"><use href="#s_mye"/><use href="#s_pla"/><use href="#s_caf"/></g></g>
<g filter="url(#fd_21)" stroke="#000" stroke-width="4" stroke-opacity="0.6" stroke-linejoin="round"><g transform="matrix(0.3164 0 0 0.3423 306.5 1679.1)"><use href="#s_mast"/></g></g>
<rect x="339.6" y="1916.9" width="253.8" height="269.3" fill="none" stroke="#000" stroke-width="2.3"/>
<text x="740.7" y="1907.3" font-size="25.3" text-anchor="middle">VWF</text>
<g filter="url(#fd_base)" stroke="#000" stroke-width="5" stroke-opacity="0.6" stroke-linejoin="round"><use href="#s_all" transform="matrix(0.3164 0 0 0.3423 580.6 1679.1)"/></g>
<g filter="url(#fd_0)" stroke="#000" stroke-width="4" stroke-opacity="0.6" stroke-linejoin="round"><g transform="matrix(0.3164 0 0 0.3423 580.6 1679.1)"><use href="#s_pla"/><use href="#s_epi"/><use href="#s_b"/><use href="#s_mast"/></g></g>
<g filter="url(#fd_1)" stroke="#000" stroke-width="4" stroke-opacity="0.6" stroke-linejoin="round"><g transform="matrix(0.3164 0 0 0.3423 580.6 1679.1)"><use href="#s_tnk"/></g></g>
<g filter="url(#fd_2)" stroke="#000" stroke-width="4" stroke-opacity="0.6" stroke-linejoin="round"><g transform="matrix(0.3164 0 0 0.3423 580.6 1679.1)"><use href="#s_mye"/></g></g>
<g filter="url(#fd_6)" stroke="#000" stroke-width="4" stroke-opacity="0.6" stroke-linejoin="round"><g transform="matrix(0.3164 0 0 0.3423 580.6 1679.1)"><use href="#s_caf"/></g></g>
<g filter="url(#fd_17)" stroke="#000" stroke-width="4" stroke-opacity="0.6" stroke-linejoin="round"><g transform="matrix(0.3164 0 0 0.3423 580.6 1679.1)"><use href="#s_endo"/></g></g>
<rect x="613.7" y="1916.9" width="253.8" height="269.3" fill="none" stroke="#000" stroke-width="2.3"/>
<text x="192.0" y="2217.3" font-size="25.3" text-anchor="middle">COL1A1</text>
<g filter="url(#fd_base)" stroke="#000" stroke-width="5" stroke-opacity="0.6" stroke-linejoin="round"><use href="#s_all" transform="matrix(0.3164 0 0 0.3423 31.9 1989.1)"/></g>
<g filter="url(#fm_0)" stroke="#000" stroke-width="4" stroke-opacity="0.6" stroke-linejoin="round"><use href="#s_epi" transform="matrix(0.3164 0 0 0.3423 31.9 1989.1)"/></g>
<g filter="url(#fd_4)" stroke="#000" stroke-width="4" stroke-opacity="0.6" stroke-linejoin="round"><g transform="matrix(0.3164 0 0 0.3423 31.9 1989.1)"><use href="#s_pla"/><use href="#s_b"/><use href="#s_mast"/></g></g>
<g filter="url(#fd_5)" stroke="#000" stroke-width="4" stroke-opacity="0.6" stroke-linejoin="round"><g transform="matrix(0.3164 0 0 0.3423 31.9 1989.1)"><use href="#s_tnk"/><use href="#s_mye"/></g></g>
<g filter="url(#fd_8)" stroke="#000" stroke-width="4" stroke-opacity="0.6" stroke-linejoin="round"><g transform="matrix(0.3164 0 0 0.3423 31.9 1989.1)"><use href="#s_epi"/></g></g>
<g filter="url(#fd_10)" stroke="#000" stroke-width="4" stroke-opacity="0.6" stroke-linejoin="round"><g transform="matrix(0.3164 0 0 0.3423 31.9 1989.1)"><use href="#s_endo"/></g></g>
<g filter="url(#fd_18)" stroke="#000" stroke-width="4" stroke-opacity="0.6" stroke-linejoin="round"><g transform="matrix(0.3164 0 0 0.3423 31.9 1989.1)"><use href="#s_caf"/></g></g>
<rect x="65.0" y="2226.9" width="253.8" height="269.3" fill="none" stroke="#000" stroke-width="2.3"/>
<text x="466.6" y="2217.3" font-size="25.3" text-anchor="middle">MYL9</text>
<g filter="url(#fd_base)" stroke="#000" stroke-width="5" stroke-opacity="0.6" stroke-linejoin="round"><use href="#s_all" transform="matrix(0.3164 0 0 0.3423 306.5 1989.1)"/></g>
<g filter="url(#fm_0)" stroke="#000" stroke-width="4" stroke-opacity="0.6" stroke-linejoin="round"><use href="#s_epi" transform="matrix(0.3164 0 0 0.3423 306.5 1989.1)"/></g>
<g filter="url(#fm_2)" stroke="#000" stroke-width="4" stroke-opacity="0.6" stroke-linejoin="round"><use href="#s_endo" transform="matrix(0.3164 0 0 0.3423 306.5 1989.1)"/></g>
<g filter="url(#fd_5)" stroke="#000" stroke-width="4" stroke-opacity="0.6" stroke-linejoin="round"><g transform="matrix(0.3164 0 0 0.3423 306.5 1989.1)"><use href="#s_tnk"/><use href="#s_b"/></g></g>
<g filter="url(#fd_6)" stroke="#000" stroke-width="4" stroke-opacity="0.6" stroke-linejoin="round"><g transform="matrix(0.3164 0 0 0.3423 306.5 1989.1)"><use href="#s_pla"/></g></g>
<g filter="url(#fd_7)" stroke="#000" stroke-width="4" stroke-opacity="0.6" stroke-linejoin="round"><g transform="matrix(0.3164 0 0 0.3423 306.5 1989.1)"><use href="#s_mye"/></g></g>
<g filter="url(#fd_9)" stroke="#000" stroke-width="4" stroke-opacity="0.6" stroke-linejoin="round"><g transform="matrix(0.3164 0 0 0.3423 306.5 1989.1)"><use href="#s_epi"/></g></g>
<g filter="url(#fd_10)" stroke="#000" stroke-width="4" stroke-opacity="0.6" stroke-linejoin="round"><g transform="matrix(0.3164 0 0 0.3423 306.5 1989.1)"><use href="#s_mast"/></g></g>
<g filter="url(#fd_14)" stroke="#000" stroke-width="4" stroke-opacity="0.6" stroke-linejoin="round"><g transform="matrix(0.3164 0 0 0.3423 306.5 1989.1)"><use href="#s_endo"/></g></g>
<g filter="url(#fd_18)" stroke="#000" stroke-width="4" stroke-opacity="0.6" stroke-linejoin="round"><g transform="matrix(0.3164 0 0 0.3423 306.5 1989.1)"><use href="#s_caf"/></g></g>
<rect x="339.6" y="2226.9" width="253.8" height="269.3" fill="none" stroke="#000" stroke-width="2.3"/>
<text x="740.7" y="2217.3" font-size="25.3" text-anchor="middle">EPCAM</text>
<g filter="url(#fd_base)" stroke="#000" stroke-width="5" stroke-opacity="0.6" stroke-linejoin="round"><use href="#s_all" transform="matrix(0.3164 0 0 0.3423 580.6 1989.1)"/></g>
<g filter="url(#fm_3)" stroke="#000" stroke-width="4" stroke-opacity="0.6" stroke-linejoin="round"><use href="#s_epi" transform="matrix(0.3164 0 0 0.3423 580.6 1989.1)"/></g>
<g filter="url(#fd_5)" stroke="#000" stroke-width="4" stroke-opacity="0.6" stroke-linejoin="round"><g transform="matrix(0.3164 0 0 0.3423 580.6 1989.1)"><use href="#s_tnk"/><use href="#s_mye"/><use href="#s_caf"/><use href="#s_mast"/></g></g>
<g filter="url(#fd_6)" stroke="#000" stroke-width="4" stroke-opacity="0.6" stroke-linejoin="round"><g transform="matrix(0.3164 0 0 0.3423 580.6 1989.1)"><use href="#s_pla"/><use href="#s_b"/><use href="#s_endo"/></g></g>
<g filter="url(#fd_15)" stroke="#000" stroke-width="4" stroke-opacity="0.6" stroke-linejoin="round"><g transform="matrix(0.3164 0 0 0.3423 580.6 1989.1)"><use href="#s_epi"/></g></g>
<rect x="613.7" y="2226.9" width="253.8" height="269.3" fill="none" stroke="#000" stroke-width="2.3"/>
<text x="898.8" y="1605.0" font-size="46">E</text>
<rect x="1031.0" y="1614.6" width="152.4" height="25.0" fill="#D9D9D9"/>
<rect x="1190.8" y="1614.6" width="405.8" height="25.0" fill="#D9D9D9"/>
<text x="1107.0" y="1635.3" font-size="19" text-anchor="middle" fill="#1a1a1a">AEGJ</text>
<text x="1393.7" y="1635.3" font-size="19" text-anchor="middle" fill="#1a1a1a">GC</text>
<rect x="1036.2" y="1650.5" width="32.7" height="4.9" fill="#DC4C36"/>
<rect x="1036.2" y="1655.1" width="32.7" height="28.5" fill="#45B1CB"/>
<rect x="1036.2" y="1683.3" width="32.7" height="4.3" fill="#22987F"/>
<rect x="1036.2" y="1687.3" width="32.7" height="1.9" fill="#3B5283"/>
<rect x="1036.2" y="1688.9" width="32.7" height="8.3" fill="#EB987D"/>
<rect x="1036.2" y="1696.9" width="32.7" height="52.8" fill="#828DB1"/>
<rect x="1036.2" y="1749.4" width="32.7" height="28.7" fill="#8DCABC"/>
<rect x="1036.2" y="1777.8" width="32.7" height="87.9" fill="#CF141E"/>
<line x1="1052.5" y1="1876.1" x2="1052.5" y2="1880.3" stroke="#333" stroke-width="2.4"/>
<text x="1067.5" y="1894.7" font-size="19.4" text-anchor="end" fill="#1a1a1a" transform="rotate(-45 1067.5 1894.7)">T1</text>
<rect x="1072.5" y="1650.5" width="32.7" height="6.9" fill="#DC4C36"/>
<rect x="1072.5" y="1657.1" width="32.7" height="71.0" fill="#45B1CB"/>
<rect x="1072.5" y="1727.8" width="32.7" height="13.5" fill="#22987F"/>
<rect x="1072.5" y="1741.0" width="32.7" height="10.5" fill="#3B5283"/>
<rect x="1072.5" y="1751.2" width="32.7" height="2.3" fill="#EB987D"/>
<rect x="1072.5" y="1753.2" width="32.7" height="23.5" fill="#828DB1"/>
<rect x="1072.5" y="1776.4" width="32.7" height="67.0" fill="#8DCABC"/>
<rect x="1072.5" y="1843.1" width="32.7" height="22.6" fill="#CF141E"/>
<line x1="1088.8" y1="1876.1" x2="1088.8" y2="1880.3" stroke="#333" stroke-width="2.4"/>
<text x="1103.8" y="1894.7" font-size="19.4" text-anchor="end" fill="#1a1a1a" transform="rotate(-45 1103.8 1894.7)">T2</text>
<rect x="1108.8" y="1650.5" width="32.7" height="5.3" fill="#DC4C36"/>
<rect x="1108.8" y="1655.5" width="32.7" height="27.1" fill="#45B1CB"/>
<rect x="1108.8" y="1682.3" width="32.7" height="21.3" fill="#22987F"/>
<rect x="1108.8" y="1703.3" width="32.7" height="87.8" fill="#3B5283"/>
<rect x="1108.8" y="1790.8" width="32.7" height="1.3" fill="#EB987D"/>
<rect x="1108.8" y="1791.8" width="32.7" height="5.5" fill="#828DB1"/>
<rect x="1108.8" y="1797.0" width="32.7" height="30.7" fill="#8DCABC"/>
<rect x="1108.8" y="1827.3" width="32.7" height="38.4" fill="#CF141E"/>
<line x1="1125.1" y1="1876.1" x2="1125.1" y2="1880.3" stroke="#333" stroke-width="2.4"/>
<text x="1140.1" y="1894.7" font-size="19.4" text-anchor="end" fill="#1a1a1a" transform="rotate(-45 1140.1 1894.7)">T3</text>
<rect x="1145.1" y="1650.5" width="32.7" height="18.1" fill="#DC4C36"/>
<rect x="1145.1" y="1668.3" width="32.7" height="5.3" fill="#45B1CB"/>
<rect x="1145.1" y="1673.3" width="32.7" height="2.3" fill="#22987F"/>
<rect x="1145.1" y="1675.3" width="32.7" height="27.9" fill="#3B5283"/>
<rect x="1145.1" y="1702.9" width="32.7" height="8.7" fill="#EB987D"/>
<rect x="1145.1" y="1711.3" width="32.7" height="61.2" fill="#828DB1"/>
<rect x="1145.1" y="1772.2" width="32.7" height="51.6" fill="#8DCABC"/>
<rect x="1145.1" y="1823.5" width="32.7" height="42.1" fill="#CF141E"/>
<line x1="1161.5" y1="1876.1" x2="1161.5" y2="1880.3" stroke="#333" stroke-width="2.4"/>
<text x="1176.5" y="1894.7" font-size="19.4" text-anchor="end" fill="#1a1a1a" transform="rotate(-45 1176.5 1894.7)">T4</text>
<rect x="1196.8" y="1650.5" width="32.5" height="7.1" fill="#DC4C36"/>
<rect x="1196.8" y="1657.3" width="32.5" height="0.5" fill="#45B1CB"/>
<rect x="1196.8" y="1657.5" width="32.5" height="1.7" fill="#22987F"/>
<rect x="1196.8" y="1658.9" width="32.5" height="134.5" fill="#3B5283"/>
<rect x="1196.8" y="1793.2" width="32.5" height="3.3" fill="#EB987D"/>
<rect x="1196.8" y="1796.2" width="32.5" height="9.9" fill="#828DB1"/>
<rect x="1196.8" y="1805.8" width="32.5" height="15.9" fill="#8DCABC"/>
<rect x="1196.8" y="1821.3" width="32.5" height="44.3" fill="#CF141E"/>
<line x1="1213.0" y1="1876.1" x2="1213.0" y2="1880.3" stroke="#333" stroke-width="2.4"/>
<text x="1228.0" y="1894.7" font-size="19.4" text-anchor="end" fill="#1a1a1a" transform="rotate(-45 1228.0 1894.7)">DGC</text>
<rect x="1233.0" y="1650.5" width="32.5" height="8.1" fill="#DC4C36"/>
<rect x="1233.0" y="1658.3" width="32.5" height="11.9" fill="#45B1CB"/>
<rect x="1233.0" y="1669.9" width="32.5" height="9.5" fill="#22987F"/>
<rect x="1233.0" y="1679.1" width="32.5" height="43.8" fill="#3B5283"/>
<rect x="1233.0" y="1722.7" width="32.5" height="10.5" fill="#EB987D"/>
<rect x="1233.0" y="1732.8" width="32.5" height="14.9" fill="#828DB1"/>
<rect x="1233.0" y="1747.4" width="32.5" height="70.2" fill="#8DCABC"/>
<rect x="1233.0" y="1817.3" width="32.5" height="48.3" fill="#CF141E"/>
<line x1="1249.2" y1="1876.1" x2="1249.2" y2="1880.3" stroke="#333" stroke-width="2.4"/>
<text x="1264.2" y="1894.7" font-size="19.4" text-anchor="end" fill="#1a1a1a" transform="rotate(-45 1264.2 1894.7)">GC1</text>
<rect x="1269.1" y="1650.5" width="32.5" height="37.3" fill="#DC4C36"/>
<rect x="1269.1" y="1687.5" width="32.5" height="8.1" fill="#45B1CB"/>
<rect x="1269.1" y="1695.3" width="32.5" height="18.3" fill="#22987F"/>
<rect x="1269.1" y="1713.3" width="32.5" height="13.5" fill="#3B5283"/>
<rect x="1269.1" y="1726.4" width="32.5" height="3.5" fill="#EB987D"/>
<rect x="1269.1" y="1729.6" width="32.5" height="14.7" fill="#828DB1"/>
<rect x="1269.1" y="1744.0" width="32.5" height="28.1" fill="#8DCABC"/>
<rect x="1269.1" y="1771.8" width="32.5" height="93.9" fill="#CF141E"/>
<line x1="1285.3" y1="1876.1" x2="1285.3" y2="1880.3" stroke="#333" stroke-width="2.4"/>
<text x="1300.3" y="1894.7" font-size="19.4" text-anchor="end" fill="#1a1a1a" transform="rotate(-45 1300.3 1894.7)">GC2</text>
<rect x="1305.2" y="1650.5" width="32.5" height="8.1" fill="#DC4C36"/>
<rect x="1305.2" y="1658.3" width="32.5" height="5.1" fill="#45B1CB"/>
<rect x="1305.2" y="1663.1" width="32.5" height="3.1" fill="#22987F"/>
<rect x="1305.2" y="1665.9" width="32.5" height="148.1" fill="#3B5283"/>
<rect x="1305.2" y="1813.7" width="32.5" height="4.3" fill="#EB987D"/>
<rect x="1305.2" y="1817.7" width="32.5" height="11.5" fill="#828DB1"/>
<rect x="1305.2" y="1828.9" width="32.5" height="11.1" fill="#8DCABC"/>
<rect x="1305.2" y="1839.7" width="32.5" height="26.0" fill="#CF141E"/>
<line x1="1321.5" y1="1876.1" x2="1321.5" y2="1880.3" stroke="#333" stroke-width="2.4"/>
<text x="1336.5" y="1894.7" font-size="19.4" text-anchor="end" fill="#1a1a1a" transform="rotate(-45 1336.5 1894.7)">IGC1</text>
<rect x="1341.4" y="1650.5" width="32.5" height="116.2" fill="#DC4C36"/>
<rect x="1341.4" y="1766.4" width="32.5" height="0.9" fill="#45B1CB"/>
<rect x="1341.4" y="1767.0" width="32.5" height="20.1" fill="#3B5283"/>
<rect x="1341.4" y="1786.8" width="32.5" height="6.7" fill="#EB987D"/>
<rect x="1341.4" y="1793.2" width="32.5" height="12.1" fill="#828DB1"/>
<rect x="1341.4" y="1805.0" width="32.5" height="15.1" fill="#8DCABC"/>
<rect x="1341.4" y="1819.7" width="32.5" height="45.9" fill="#CF141E"/>
<line x1="1357.6" y1="1876.1" x2="1357.6" y2="1880.3" stroke="#333" stroke-width="2.4"/>
<text x="1372.6" y="1894.7" font-size="19.4" text-anchor="end" fill="#1a1a1a" transform="rotate(-45 1372.6 1894.7)">IGC2</text>
<rect x="1377.5" y="1650.5" width="32.5" height="4.3" fill="#DC4C36"/>
<rect x="1377.5" y="1654.5" width="32.5" height="9.1" fill="#45B1CB"/>
<rect x="1377.5" y="1663.3" width="32.5" height="3.7" fill="#22987F"/>
<rect x="1377.5" y="1666.7" width="32.5" height="107.6" fill="#3B5283"/>
<rect x="1377.5" y="1774.0" width="32.5" height="41.7" fill="#EB987D"/>
<rect x="1377.5" y="1815.3" width="32.5" height="23.3" fill="#828DB1"/>
<rect x="1377.5" y="1838.3" width="32.5" height="11.1" fill="#8DCABC"/>
<rect x="1377.5" y="1849.1" width="32.5" height="16.6" fill="#CF141E"/>
<line x1="1393.8" y1="1876.1" x2="1393.8" y2="1880.3" stroke="#333" stroke-width="2.4"/>
<text x="1408.8" y="1894.7" font-size="19.4" text-anchor="end" fill="#1a1a1a" transform="rotate(-45 1408.8 1894.7)">IGC3</text>
<rect x="1413.7" y="1650.5" width="32.5" height="1.9" fill="#DC4C36"/>
<rect x="1413.7" y="1652.1" width="32.5" height="3.3" fill="#45B1CB"/>
<rect x="1413.7" y="1655.1" width="32.5" height="3.7" fill="#22987F"/>
<rect x="1413.7" y="1658.5" width="32.5" height="85.2" fill="#3B5283"/>
<rect x="1413.7" y="1743.4" width="32.5" height="9.7" fill="#EB987D"/>
<rect x="1413.7" y="1752.8" width="32.5" height="16.7" fill="#828DB1"/>
<rect x="1413.7" y="1769.2" width="32.5" height="52.4" fill="#8DCABC"/>
<rect x="1413.7" y="1821.3" width="32.5" height="44.3" fill="#CF141E"/>
<line x1="1429.9" y1="1876.1" x2="1429.9" y2="1880.3" stroke="#333" stroke-width="2.4"/>
<text x="1444.9" y="1894.7" font-size="19.4" text-anchor="end" fill="#1a1a1a" transform="rotate(-45 1444.9 1894.7)">IGC4</text>
<rect x="1449.8" y="1650.5" width="32.5" height="100.0" fill="#DC4C36"/>
<rect x="1449.8" y="1750.2" width="32.5" height="9.9" fill="#3B5283"/>
<rect x="1449.8" y="1759.8" width="32.5" height="1.5" fill="#EB987D"/>
<rect x="1449.8" y="1761.0" width="32.5" height="7.5" fill="#828DB1"/>
<rect x="1449.8" y="1768.2" width="32.5" height="5.1" fill="#8DCABC"/>
<rect x="1449.8" y="1773.0" width="32.5" height="92.7" fill="#CF141E"/>
<line x1="1466.1" y1="1876.1" x2="1466.1" y2="1880.3" stroke="#333" stroke-width="2.4"/>
<text x="1481.1" y="1894.7" font-size="19.4" text-anchor="end" fill="#1a1a1a" transform="rotate(-45 1481.1 1894.7)">IGC5</text>
<rect x="1486.0" y="1650.5" width="32.5" height="7.1" fill="#DC4C36"/>
<rect x="1486.0" y="1657.3" width="32.5" height="41.3" fill="#3B5283"/>
<rect x="1486.0" y="1698.3" width="32.5" height="2.7" fill="#EB987D"/>
<rect x="1486.0" y="1700.7" width="32.5" height="36.7" fill="#828DB1"/>
<rect x="1486.0" y="1737.0" width="32.5" height="16.5" fill="#8DCABC"/>
<rect x="1486.0" y="1753.2" width="32.5" height="112.5" fill="#CF141E"/>
<line x1="1502.2" y1="1876.1" x2="1502.2" y2="1880.3" stroke="#333" stroke-width="2.4"/>
<text x="1517.2" y="1894.7" font-size="19.4" text-anchor="end" fill="#1a1a1a" transform="rotate(-45 1517.2 1894.7)">MGC1</text>
<rect x="1522.1" y="1650.5" width="32.5" height="88.6" fill="#DC4C36"/>
<rect x="1522.1" y="1738.8" width="32.5" height="0.9" fill="#45B1CB"/>
<rect x="1522.1" y="1739.4" width="32.5" height="70.0" fill="#3B5283"/>
<rect x="1522.1" y="1809.1" width="32.5" height="3.3" fill="#EB987D"/>
<rect x="1522.1" y="1812.1" width="32.5" height="2.3" fill="#828DB1"/>
<rect x="1522.1" y="1814.1" width="32.5" height="9.1" fill="#8DCABC"/>
<rect x="1522.1" y="1822.9" width="32.5" height="42.7" fill="#CF141E"/>
<line x1="1538.4" y1="1876.1" x2="1538.4" y2="1880.3" stroke="#333" stroke-width="2.4"/>
<text x="1553.4" y="1894.7" font-size="19.4" text-anchor="end" fill="#1a1a1a" transform="rotate(-45 1553.4 1894.7)">MGC2</text>
<rect x="1558.3" y="1650.5" width="32.5" height="69.8" fill="#DC4C36"/>
<rect x="1558.3" y="1720.1" width="32.5" height="11.5" fill="#45B1CB"/>
<rect x="1558.3" y="1731.2" width="32.5" height="8.9" fill="#22987F"/>
<rect x="1558.3" y="1739.8" width="32.5" height="7.3" fill="#3B5283"/>
<rect x="1558.3" y="1746.8" width="32.5" height="3.7" fill="#EB987D"/>
<rect x="1558.3" y="1750.2" width="32.5" height="1.1" fill="#828DB1"/>
<rect x="1558.3" y="1751.0" width="32.5" height="1.9" fill="#8DCABC"/>
<rect x="1558.3" y="1752.6" width="32.5" height="113.1" fill="#CF141E"/>
<line x1="1574.5" y1="1876.1" x2="1574.5" y2="1880.3" stroke="#333" stroke-width="2.4"/>
<text x="1589.5" y="1894.7" font-size="19.4" text-anchor="end" fill="#1a1a1a" transform="rotate(-45 1589.5 1894.7)">MGC3</text>
<rect x="1031.6" y="1640.6" width="151" height="235.5" fill="none" stroke="#000" stroke-width="1.7"/>
<rect x="1191.4" y="1640.6" width="404.6" height="235.5" fill="none" stroke="#000" stroke-width="1.7"/>
<rect x="1050.3" y="1639.4" width="4.4" height="2.3" fill="#fff"/>
<rect x="1086.6" y="1639.4" width="4.4" height="2.3" fill="#fff"/>
<rect x="1122.9" y="1639.4" width="4.4" height="2.3" fill="#fff"/>
<rect x="1159.2" y="1639.4" width="4.4" height="2.3" fill="#fff"/>
<rect x="1210.8" y="1639.4" width="4.4" height="2.3" fill="#fff"/>
<rect x="1247.0" y="1639.4" width="4.4" height="2.3" fill="#fff"/>
<rect x="1283.1" y="1639.4" width="4.4" height="2.3" fill="#fff"/>
<rect x="1319.3" y="1639.4" width="4.4" height="2.3" fill="#fff"/>
<rect x="1355.4" y="1639.4" width="4.4" height="2.3" fill="#fff"/>
<rect x="1391.6" y="1639.4" width="4.4" height="2.3" fill="#fff"/>
<rect x="1427.7" y="1639.4" width="4.4" height="2.3" fill="#fff"/>
<rect x="1463.9" y="1639.4" width="4.4" height="2.3" fill="#fff"/>
<rect x="1500.0" y="1639.4" width="4.4" height="2.3" fill="#fff"/>
<rect x="1536.2" y="1639.4" width="4.4" height="2.3" fill="#fff"/>
<rect x="1572.3" y="1639.4" width="4.4" height="2.3" fill="#fff"/>
<line x1="1027.3" y1="1650.5" x2="1031.6" y2="1650.5" stroke="#333" stroke-width="2.4"/>
<text x="1026.4" y="1657.4" font-size="19.6" text-anchor="end" fill="#1a1a1a">100</text>
<line x1="1027.3" y1="1865.7" x2="1031.6" y2="1865.7" stroke="#333" stroke-width="2.4"/>
<text x="1023.8" y="1872.6" font-size="19.6" text-anchor="end" fill="#1a1a1a">0</text>
<text x="976.6" y="1761.3" font-size="26" text-anchor="middle" transform="rotate(-90 976.6 1761.3)">Proportion of cell(%)</text>
<text x="1300.9" y="1962.6" font-size="23.95" text-anchor="middle">Sample ID</text>
<text x="1634.6" y="1649.8" font-size="25.6" font-weight="bold">Cell type</text>
<rect x="1634.6" y="1666.2" width="13.0" height="13.0" fill="#DC4C36"/>
<text x="1656.6" y="1680.0" font-size="22.3">B cell</text>
<rect x="1634.6" y="1693.9" width="13.0" height="13.0" fill="#45B1CB"/>
<text x="1656.6" y="1707.7" font-size="22.3">CAF</text>
<rect x="1634.6" y="1721.7" width="13.0" height="13.0" fill="#22987F"/>
<text x="1656.6" y="1735.5" font-size="22.3">Endothelial cell</text>
<rect x="1634.6" y="1749.4" width="13.0" height="13.0" fill="#3B5283"/>
<text x="1656.6" y="1763.2" font-size="22.3">Epithelial cell</text>
<rect x="1634.6" y="1777.1" width="13.0" height="13.0" fill="#EB987D"/>
<text x="1656.6" y="1790.9" font-size="22.3">Mast cell</text>
<rect x="1634.6" y="1804.9" width="13.0" height="13.0" fill="#828DB1"/>
<text x="1656.6" y="1818.7" font-size="22.3">Myeloid cell</text>
<rect x="1634.6" y="1832.6" width="13.0" height="13.0" fill="#8DCABC"/>
<text x="1656.6" y="1846.4" font-size="22.3">Plasma cell</text>
<rect x="1634.6" y="1860.3" width="13.0" height="13.0" fill="#CF141E"/>
<text x="1656.6" y="1874.1" font-size="22.3">T/NK cell</text>
<text x="898.8" y="2043.4" font-size="46">F</text>
<line x1="1333.3" y1="2030.0" x2="1333.3" y2="2052.0" stroke="#333" stroke-width="2.4" stroke-linecap="round"/>
<rect x="1322.4" y="2033.2" width="21.7" height="15.4" rx="1.5" fill="#333"/>
<rect x="1324.4" y="2035.2" width="3.5" height="2.5" fill="#7AB59A"/>
<rect x="1338.6" y="2035.2" width="3.5" height="2.5" fill="#7AB59A"/>
<rect x="1324.4" y="2044.1" width="3.5" height="2.5" fill="#7AB59A"/>
<rect x="1338.6" y="2044.1" width="3.5" height="2.5" fill="#7AB59A"/>
<circle cx="1333.3" cy="2040.9" r="6.3" fill="#2e2e2e"/>
<circle cx="1333.3" cy="2040.9" r="3.8" fill="#7AB59A"/>
<text x="1352.8" y="2047.8" font-size="19.5">AEG</text>
<line x1="1443.0" y1="2030.0" x2="1443.0" y2="2052.0" stroke="#333" stroke-width="2.4" stroke-linecap="round"/>
<rect x="1432.1" y="2033.2" width="21.7" height="15.4" rx="1.5" fill="#333"/>
<rect x="1434.1" y="2035.2" width="3.5" height="2.5" fill="#66629B"/>
<rect x="1448.3" y="2035.2" width="3.5" height="2.5" fill="#66629B"/>
<rect x="1434.1" y="2044.1" width="3.5" height="2.5" fill="#66629B"/>
<rect x="1448.3" y="2044.1" width="3.5" height="2.5" fill="#66629B"/>
<circle cx="1443.0" cy="2040.9" r="6.3" fill="#2e2e2e"/>
<circle cx="1443.0" cy="2040.9" r="3.8" fill="#66629B"/>
<text x="1462.6" y="2047.8" font-size="19.5">GAC</text>
<rect x="975.2" y="2067.8" width="104.9" height="19.3" fill="#D9D9D9"/>
<text x="1027.7" y="2084.0" font-size="15.9" text-anchor="middle" fill="#1a1a1a">B cell</text>
<rect x="986.3" y="2319.1" width="35.4" height="8.4" fill="#7AB59A" stroke="#333" stroke-width="2.6" stroke-linejoin="miter"/>
<line x1="986.3" y1="2323.8" x2="1021.7" y2="2323.8" stroke="#333" stroke-width="2.6"/>
<circle cx="1004.0" cy="2307.0" r="2.7"/>
<circle cx="1004.0" cy="2325.5" r="2.7"/>
<circle cx="1004.0" cy="2325.1" r="2.7"/>
<line x1="1004.0" y1="2347.8" x2="1004.0" y2="2352.0" stroke="#333" stroke-width="2.4"/>
<text x="1021.5" y="2364.0" font-size="18.5" text-anchor="end" fill="#1a1a1a" transform="rotate(-45 1021.5 2364.0)">AEG</text>
<line x1="1051.5" y1="2153.0" x2="1051.5" y2="2210.7" stroke="#333" stroke-width="2.6"/>
<line x1="1051.5" y1="2323.8" x2="1051.5" y2="2330.5" stroke="#333" stroke-width="2.6"/>
<rect x="1033.8" y="2210.7" width="35.4" height="113.1" fill="#66629B" stroke="#333" stroke-width="2.6" stroke-linejoin="miter"/>
<line x1="1033.8" y1="2321.5" x2="1069.2" y2="2321.5" stroke="#333" stroke-width="2.6"/>
<circle cx="1051.5" cy="2153.0" r="2.7"/>
<circle cx="1051.5" cy="2178.5" r="2.7"/>
<circle cx="1051.5" cy="2196.6" r="2.7"/>
<circle cx="1051.5" cy="2225.8" r="2.7"/>
<circle cx="1051.5" cy="2276.8" r="2.7"/>
<circle cx="1051.5" cy="2323.1" r="2.7"/>
<circle cx="1051.5" cy="2324.1" r="2.7"/>
<circle cx="1051.5" cy="2329.8" r="2.7"/>
<circle cx="1051.5" cy="2330.5" r="2.7"/>
<line x1="1051.5" y1="2347.8" x2="1051.5" y2="2352.0" stroke="#333" stroke-width="2.4"/>
<text x="1069.0" y="2364.0" font-size="18.5" text-anchor="end" fill="#1a1a1a" transform="rotate(-45 1069.0 2364.0)">GAC</text>
<rect x="975.9" y="2088.4" width="103.5" height="259.4" fill="none" stroke="#000" stroke-width="1.7"/>
<rect x="1001.8" y="2087.2" width="4.4" height="2.3" fill="#fff"/>
<rect x="1049.3" y="2087.2" width="4.4" height="2.3" fill="#fff"/>
<text x="990.7" y="2103.2" font-size="18.6">ns</text>
<rect x="1085.8" y="2067.8" width="104.9" height="19.3" fill="#D9D9D9"/>
<text x="1138.3" y="2084.0" font-size="15.9" text-anchor="middle" fill="#1a1a1a">CAF</text>
<line x1="1114.6" y1="2301.3" x2="1114.6" y2="2326.5" stroke="#333" stroke-width="2.6"/>
<rect x="1096.9" y="2273.1" width="35.4" height="28.2" fill="#7AB59A" stroke="#333" stroke-width="2.6" stroke-linejoin="miter"/>
<line x1="1096.9" y1="2290.9" x2="1132.3" y2="2290.9" stroke="#333" stroke-width="2.6"/>
<circle cx="1114.6" cy="2224.2" r="2.7"/>
<circle cx="1114.6" cy="2290.9" r="2.7"/>
<circle cx="1114.6" cy="2291.6" r="2.7"/>
<circle cx="1114.6" cy="2326.5" r="2.7"/>
<line x1="1114.6" y1="2347.8" x2="1114.6" y2="2352.0" stroke="#333" stroke-width="2.4"/>
<text x="1132.1" y="2364.0" font-size="18.5" text-anchor="end" fill="#1a1a1a" transform="rotate(-45 1132.1 2364.0)">AEG</text>
<rect x="1144.4" y="2321.1" width="35.4" height="13.1" fill="#66629B" stroke="#333" stroke-width="2.6" stroke-linejoin="miter"/>
<line x1="1144.4" y1="2329.8" x2="1179.8" y2="2329.8" stroke="#333" stroke-width="2.6"/>
<circle cx="1162.1" cy="2318.4" r="2.7"/>
<circle cx="1162.1" cy="2319.1" r="2.7"/>
<circle cx="1162.1" cy="2330.2" r="2.7"/>
<circle cx="1162.1" cy="2330.5" r="2.7"/>
<circle cx="1162.1" cy="2330.8" r="2.7"/>
<circle cx="1162.1" cy="2331.2" r="2.7"/>
<circle cx="1162.1" cy="2331.5" r="2.7"/>
<line x1="1162.1" y1="2347.8" x2="1162.1" y2="2352.0" stroke="#333" stroke-width="2.4"/>
<text x="1179.6" y="2364.0" font-size="18.5" text-anchor="end" fill="#1a1a1a" transform="rotate(-45 1179.6 2364.0)">GAC</text>
<rect x="1086.5" y="2088.4" width="103.5" height="259.4" fill="none" stroke="#000" stroke-width="1.7"/>
<rect x="1112.4" y="2087.2" width="4.4" height="2.3" fill="#fff"/>
<rect x="1159.9" y="2087.2" width="4.4" height="2.3" fill="#fff"/>
<text x="1110.5" y="2107.0" font-size="19" font-weight="bold">*</text>
<rect x="1196.5" y="2067.8" width="104.9" height="19.3" fill="#D9D9D9"/>
<text x="1249.0" y="2084.0" font-size="15.9" text-anchor="middle" fill="#1a1a1a">Endothelial cell</text>
<line x1="1225.3" y1="2301.7" x2="1225.3" y2="2310.4" stroke="#333" stroke-width="2.6"/>
<line x1="1225.3" y1="2329.5" x2="1225.3" y2="2330.2" stroke="#333" stroke-width="2.6"/>
<rect x="1207.6" y="2310.4" width="35.4" height="19.1" fill="#7AB59A" stroke="#333" stroke-width="2.6" stroke-linejoin="miter"/>
<line x1="1207.6" y1="2320.8" x2="1243.0" y2="2320.8" stroke="#333" stroke-width="2.6"/>
<circle cx="1225.3" cy="2301.7" r="2.7"/>
<circle cx="1225.3" cy="2313.7" r="2.7"/>
<circle cx="1225.3" cy="2329.8" r="2.7"/>
<circle cx="1225.3" cy="2330.2" r="2.7"/>
<line x1="1225.3" y1="2347.8" x2="1225.3" y2="2352.0" stroke="#333" stroke-width="2.4"/>
<text x="1242.8" y="2364.0" font-size="18.5" text-anchor="end" fill="#1a1a1a" transform="rotate(-45 1242.8 2364.0)">AEG</text>
<rect x="1255.1" y="2324.1" width="35.4" height="9.4" fill="#66629B" stroke="#333" stroke-width="2.6" stroke-linejoin="miter"/>
<line x1="1255.1" y1="2329.2" x2="1290.5" y2="2329.2" stroke="#333" stroke-width="2.6"/>
<circle cx="1272.8" cy="2306.7" r="2.7"/>
<circle cx="1272.8" cy="2320.8" r="2.7"/>
<circle cx="1272.8" cy="2321.5" r="2.7"/>
<circle cx="1272.8" cy="2330.8" r="2.7"/>
<circle cx="1272.8" cy="2331.2" r="2.7"/>
<circle cx="1272.8" cy="2331.5" r="2.7"/>
<circle cx="1272.8" cy="2331.9" r="2.7"/>
<line x1="1272.8" y1="2347.8" x2="1272.8" y2="2352.0" stroke="#333" stroke-width="2.4"/>
<text x="1290.3" y="2364.0" font-size="18.5" text-anchor="end" fill="#1a1a1a" transform="rotate(-45 1290.3 2364.0)">GAC</text>
<rect x="1197.2" y="2088.4" width="103.5" height="259.4" fill="none" stroke="#000" stroke-width="1.7"/>
<rect x="1223.1" y="2087.2" width="4.4" height="2.3" fill="#fff"/>
<rect x="1270.6" y="2087.2" width="4.4" height="2.3" fill="#fff"/>
<text x="1212.0" y="2103.2" font-size="18.6">ns</text>
<rect x="1307.1" y="2067.8" width="104.9" height="19.3" fill="#D9D9D9"/>
<text x="1359.6" y="2084.0" font-size="15.9" text-anchor="middle" fill="#1a1a1a">Epithelial cell</text>
<line x1="1335.9" y1="2197.3" x2="1335.9" y2="2267.1" stroke="#333" stroke-width="2.6"/>
<line x1="1335.9" y1="2322.1" x2="1335.9" y2="2332.2" stroke="#333" stroke-width="2.6"/>
<rect x="1318.2" y="2267.1" width="35.4" height="55.0" fill="#7AB59A" stroke="#333" stroke-width="2.6" stroke-linejoin="miter"/>
<line x1="1318.2" y1="2304.0" x2="1353.6" y2="2304.0" stroke="#333" stroke-width="2.6"/>
<circle cx="1335.9" cy="2197.3" r="2.7"/>
<circle cx="1335.9" cy="2291.3" r="2.7"/>
<circle cx="1335.9" cy="2317.4" r="2.7"/>
<circle cx="1335.9" cy="2332.2" r="2.7"/>
<line x1="1335.9" y1="2347.8" x2="1335.9" y2="2352.0" stroke="#333" stroke-width="2.4"/>
<text x="1353.4" y="2364.0" font-size="18.5" text-anchor="end" fill="#1a1a1a" transform="rotate(-45 1353.4 2364.0)">AEG</text>
<line x1="1383.4" y1="2103.4" x2="1383.4" y2="2183.9" stroke="#333" stroke-width="2.6"/>
<line x1="1383.4" y1="2309.4" x2="1383.4" y2="2321.5" stroke="#333" stroke-width="2.6"/>
<rect x="1365.7" y="2183.9" width="35.4" height="125.5" fill="#66629B" stroke="#333" stroke-width="2.6" stroke-linejoin="miter"/>
<line x1="1365.7" y1="2266.1" x2="1401.1" y2="2266.1" stroke="#333" stroke-width="2.6"/>
<circle cx="1383.4" cy="2103.4" r="2.7"/>
<circle cx="1383.4" cy="2124.8" r="2.7"/>
<circle cx="1383.4" cy="2166.4" r="2.7"/>
<circle cx="1383.4" cy="2202.0" r="2.7"/>
<circle cx="1383.4" cy="2225.8" r="2.7"/>
<circle cx="1383.4" cy="2268.4" r="2.7"/>
<circle cx="1383.4" cy="2269.1" r="2.7"/>
<circle cx="1383.4" cy="2304.3" r="2.7"/>
<circle cx="1383.4" cy="2314.1" r="2.7"/>
<circle cx="1383.4" cy="2320.8" r="2.7"/>
<circle cx="1383.4" cy="2321.5" r="2.7"/>
<line x1="1383.4" y1="2347.8" x2="1383.4" y2="2352.0" stroke="#333" stroke-width="2.4"/>
<text x="1400.9" y="2364.0" font-size="18.5" text-anchor="end" fill="#1a1a1a" transform="rotate(-45 1400.9 2364.0)">GAC</text>
<rect x="1307.8" y="2088.4" width="103.5" height="259.4" fill="none" stroke="#000" stroke-width="1.7"/>
<rect x="1333.7" y="2087.2" width="4.4" height="2.3" fill="#fff"/>
<rect x="1381.2" y="2087.2" width="4.4" height="2.3" fill="#fff"/>
<text x="1322.6" y="2103.2" font-size="18.6">ns</text>
<rect x="1417.8" y="2067.8" width="104.9" height="19.3" fill="#D9D9D9"/>
<text x="1470.2" y="2084.0" font-size="15.9" text-anchor="middle" fill="#1a1a1a">Mast cell</text>
<rect x="1428.9" y="2321.1" width="35.4" height="11.4" fill="#7AB59A" stroke="#333" stroke-width="2.6" stroke-linejoin="miter"/>
<line x1="1428.9" y1="2327.5" x2="1464.3" y2="2327.5" stroke="#333" stroke-width="2.6"/>
<circle cx="1446.6" cy="2321.1" r="2.7"/>
<circle cx="1446.6" cy="2321.5" r="2.7"/>
<circle cx="1446.6" cy="2332.5" r="2.7"/>
<circle cx="1446.6" cy="2332.9" r="2.7"/>
<line x1="1446.6" y1="2347.8" x2="1446.6" y2="2352.0" stroke="#333" stroke-width="2.4"/>
<text x="1464.1" y="2364.0" font-size="18.5" text-anchor="end" fill="#1a1a1a" transform="rotate(-45 1464.1 2364.0)">AEG</text>
<rect x="1476.4" y="2322.1" width="35.4" height="7.7" fill="#66629B" stroke="#333" stroke-width="2.6" stroke-linejoin="miter"/>
<line x1="1476.4" y1="2326.1" x2="1511.8" y2="2326.1" stroke="#333" stroke-width="2.6"/>
<circle cx="1494.1" cy="2270.1" r="2.7"/>
<circle cx="1494.1" cy="2321.5" r="2.7"/>
<circle cx="1494.1" cy="2322.1" r="2.7"/>
<circle cx="1494.1" cy="2329.8" r="2.7"/>
<circle cx="1494.1" cy="2330.2" r="2.7"/>
<circle cx="1494.1" cy="2330.5" r="2.7"/>
<circle cx="1494.1" cy="2330.8" r="2.7"/>
<line x1="1494.1" y1="2347.8" x2="1494.1" y2="2352.0" stroke="#333" stroke-width="2.4"/>
<text x="1511.6" y="2364.0" font-size="18.5" text-anchor="end" fill="#1a1a1a" transform="rotate(-45 1511.6 2364.0)">GAC</text>
<rect x="1418.5" y="2088.4" width="103.5" height="259.4" fill="none" stroke="#000" stroke-width="1.7"/>
<rect x="1444.4" y="2087.2" width="4.4" height="2.3" fill="#fff"/>
<rect x="1491.9" y="2087.2" width="4.4" height="2.3" fill="#fff"/>
<text x="1433.3" y="2103.2" font-size="18.6">ns</text>
<rect x="1528.5" y="2067.8" width="104.9" height="19.3" fill="#D9D9D9"/>
<text x="1580.9" y="2084.0" font-size="15.9" text-anchor="middle" fill="#1a1a1a">Myeloid cell</text>
<line x1="1557.2" y1="2238.9" x2="1557.2" y2="2248.3" stroke="#333" stroke-width="2.6"/>
<line x1="1557.2" y1="2305.0" x2="1557.2" y2="2325.5" stroke="#333" stroke-width="2.6"/>
<rect x="1539.5" y="2248.3" width="35.4" height="56.7" fill="#7AB59A" stroke="#333" stroke-width="2.6" stroke-linejoin="miter"/>
<line x1="1539.5" y1="2274.5" x2="1575.0" y2="2274.5" stroke="#333" stroke-width="2.6"/>
<circle cx="1557.2" cy="2238.9" r="2.7"/>
<circle cx="1557.2" cy="2252.0" r="2.7"/>
<circle cx="1557.2" cy="2298.0" r="2.7"/>
<circle cx="1557.2" cy="2325.5" r="2.7"/>
<line x1="1557.2" y1="2347.8" x2="1557.2" y2="2352.0" stroke="#333" stroke-width="2.4"/>
<text x="1574.8" y="2364.0" font-size="18.5" text-anchor="end" fill="#1a1a1a" transform="rotate(-45 1574.8 2364.0)">AEG</text>
<line x1="1604.8" y1="2298.3" x2="1604.8" y2="2309.4" stroke="#333" stroke-width="2.6"/>
<line x1="1604.8" y1="2321.5" x2="1604.8" y2="2332.5" stroke="#333" stroke-width="2.6"/>
<rect x="1587.0" y="2309.4" width="35.4" height="12.1" fill="#66629B" stroke="#333" stroke-width="2.6" stroke-linejoin="miter"/>
<line x1="1587.0" y1="2315.4" x2="1622.5" y2="2315.4" stroke="#333" stroke-width="2.6"/>
<circle cx="1604.8" cy="2277.8" r="2.7"/>
<circle cx="1604.8" cy="2298.3" r="2.7"/>
<circle cx="1604.8" cy="2310.0" r="2.7"/>
<circle cx="1604.8" cy="2310.7" r="2.7"/>
<circle cx="1604.8" cy="2318.1" r="2.7"/>
<circle cx="1604.8" cy="2319.1" r="2.7"/>
<circle cx="1604.8" cy="2331.9" r="2.7"/>
<circle cx="1604.8" cy="2332.5" r="2.7"/>
<line x1="1604.8" y1="2347.8" x2="1604.8" y2="2352.0" stroke="#333" stroke-width="2.4"/>
<text x="1622.2" y="2364.0" font-size="18.5" text-anchor="end" fill="#1a1a1a" transform="rotate(-45 1622.2 2364.0)">GAC</text>
<rect x="1529.2" y="2088.4" width="103.5" height="259.4" fill="none" stroke="#000" stroke-width="1.7"/>
<rect x="1555.0" y="2087.2" width="4.4" height="2.3" fill="#fff"/>
<rect x="1602.5" y="2087.2" width="4.4" height="2.3" fill="#fff"/>
<text x="1544.0" y="2103.2" font-size="18.6">ns</text>
<rect x="1639.1" y="2067.8" width="104.9" height="19.3" fill="#D9D9D9"/>
<text x="1691.6" y="2084.0" font-size="15.9" text-anchor="middle" fill="#1a1a1a">Plasma cell</text>
<line x1="1667.9" y1="2230.5" x2="1667.9" y2="2248.0" stroke="#333" stroke-width="2.6"/>
<rect x="1650.2" y="2248.0" width="35.4" height="40.3" fill="#7AB59A" stroke="#333" stroke-width="2.6" stroke-linejoin="miter"/>
<line x1="1650.2" y1="2270.8" x2="1685.6" y2="2270.8" stroke="#333" stroke-width="2.6"/>
<circle cx="1667.9" cy="2230.5" r="2.7"/>
<circle cx="1667.9" cy="2254.4" r="2.7"/>
<circle cx="1667.9" cy="2288.2" r="2.7"/>
<circle cx="1667.9" cy="2288.6" r="2.7"/>
<line x1="1667.9" y1="2347.8" x2="1667.9" y2="2352.0" stroke="#333" stroke-width="2.4"/>
<text x="1685.4" y="2364.0" font-size="18.5" text-anchor="end" fill="#1a1a1a" transform="rotate(-45 1685.4 2364.0)">AEG</text>
<line x1="1715.4" y1="2291.3" x2="1715.4" y2="2299.6" stroke="#333" stroke-width="2.6"/>
<line x1="1715.4" y1="2320.1" x2="1715.4" y2="2329.8" stroke="#333" stroke-width="2.6"/>
<rect x="1697.7" y="2299.6" width="35.4" height="20.5" fill="#66629B" stroke="#333" stroke-width="2.6" stroke-linejoin="miter"/>
<line x1="1697.7" y1="2311.4" x2="1733.1" y2="2311.4" stroke="#333" stroke-width="2.6"/>
<circle cx="1715.4" cy="2224.5" r="2.7"/>
<circle cx="1715.4" cy="2253.3" r="2.7"/>
<circle cx="1715.4" cy="2291.3" r="2.7"/>
<circle cx="1715.4" cy="2310.0" r="2.7"/>
<circle cx="1715.4" cy="2310.7" r="2.7"/>
<circle cx="1715.4" cy="2318.1" r="2.7"/>
<circle cx="1715.4" cy="2319.1" r="2.7"/>
<circle cx="1715.4" cy="2329.2" r="2.7"/>
<circle cx="1715.4" cy="2329.8" r="2.7"/>
<line x1="1715.4" y1="2347.8" x2="1715.4" y2="2352.0" stroke="#333" stroke-width="2.4"/>
<text x="1732.9" y="2364.0" font-size="18.5" text-anchor="end" fill="#1a1a1a" transform="rotate(-45 1732.9 2364.0)">GAC</text>
<rect x="1639.8" y="2088.4" width="103.5" height="259.4" fill="none" stroke="#000" stroke-width="1.7"/>
<rect x="1665.7" y="2087.2" width="4.4" height="2.3" fill="#fff"/>
<rect x="1713.2" y="2087.2" width="4.4" height="2.3" fill="#fff"/>
<text x="1654.6" y="2103.2" font-size="18.6">ns</text>
<rect x="1749.8" y="2067.8" width="104.9" height="19.3" fill="#D9D9D9"/>
<text x="1802.2" y="2084.0" font-size="15.9" text-anchor="middle" fill="#1a1a1a">T/NK cell</text>
<line x1="1778.5" y1="2281.2" x2="1778.5" y2="2299.3" stroke="#333" stroke-width="2.6"/>
<rect x="1760.8" y="2250.3" width="35.4" height="30.9" fill="#7AB59A" stroke="#333" stroke-width="2.6" stroke-linejoin="miter"/>
<line x1="1760.8" y1="2271.5" x2="1796.2" y2="2271.5" stroke="#333" stroke-width="2.6"/>
<circle cx="1778.5" cy="2197.3" r="2.7"/>
<circle cx="1778.5" cy="2271.5" r="2.7"/>
<circle cx="1778.5" cy="2271.8" r="2.7"/>
<circle cx="1778.5" cy="2299.3" r="2.7"/>
<line x1="1778.5" y1="2347.8" x2="1778.5" y2="2352.0" stroke="#333" stroke-width="2.4"/>
<text x="1796.0" y="2364.0" font-size="18.5" text-anchor="end" fill="#1a1a1a" transform="rotate(-45 1796.0 2364.0)">AEG</text>
<line x1="1826.0" y1="2158.1" x2="1826.0" y2="2188.3" stroke="#333" stroke-width="2.6"/>
<line x1="1826.0" y1="2267.8" x2="1826.0" y2="2309.0" stroke="#333" stroke-width="2.6"/>
<rect x="1808.3" y="2188.3" width="35.4" height="79.5" fill="#66629B" stroke="#333" stroke-width="2.6" stroke-linejoin="miter"/>
<line x1="1808.3" y1="2263.1" x2="1843.8" y2="2263.1" stroke="#333" stroke-width="2.6"/>
<circle cx="1826.0" cy="2158.1" r="2.7"/>
<circle cx="1826.0" cy="2158.4" r="2.7"/>
<circle cx="1826.0" cy="2188.3" r="2.7"/>
<circle cx="1826.0" cy="2188.9" r="2.7"/>
<circle cx="1826.0" cy="2259.0" r="2.7"/>
<circle cx="1826.0" cy="2265.4" r="2.7"/>
<circle cx="1826.0" cy="2266.1" r="2.7"/>
<circle cx="1826.0" cy="2294.3" r="2.7"/>
<circle cx="1826.0" cy="2309.0" r="2.7"/>
<line x1="1826.0" y1="2347.8" x2="1826.0" y2="2352.0" stroke="#333" stroke-width="2.4"/>
<text x="1843.5" y="2364.0" font-size="18.5" text-anchor="end" fill="#1a1a1a" transform="rotate(-45 1843.5 2364.0)">GAC</text>
<rect x="1750.5" y="2088.4" width="103.5" height="259.4" fill="none" stroke="#000" stroke-width="1.7"/>
<rect x="1776.3" y="2087.2" width="4.4" height="2.3" fill="#fff"/>
<rect x="1823.8" y="2087.2" width="4.4" height="2.3" fill="#fff"/>
<text x="1765.2" y="2103.2" font-size="18.6">ns</text>
<line x1="971.6" y1="2334.2" x2="975.9" y2="2334.2" stroke="#333" stroke-width="2.4"/>
<text x="967.5" y="2339.8" font-size="15.7" text-anchor="end" fill="#1a1a1a">0</text>
<line x1="971.6" y1="2267.1" x2="975.9" y2="2267.1" stroke="#333" stroke-width="2.4"/>
<text x="967.5" y="2272.7" font-size="15.7" text-anchor="end" fill="#1a1a1a">20</text>
<line x1="971.6" y1="2200.0" x2="975.9" y2="2200.0" stroke="#333" stroke-width="2.4"/>
<text x="967.5" y="2205.6" font-size="15.7" text-anchor="end" fill="#1a1a1a">40</text>
<line x1="971.6" y1="2132.9" x2="975.9" y2="2132.9" stroke="#333" stroke-width="2.4"/>
<text x="967.5" y="2138.5" font-size="15.7" text-anchor="end" fill="#1a1a1a">60</text>
<text x="927.5" y="2223.0" font-size="21.8" text-anchor="middle" transform="rotate(-90 927.5 2223.0)">Proportion of cell(%)</text>
</svg>
</body></html>
